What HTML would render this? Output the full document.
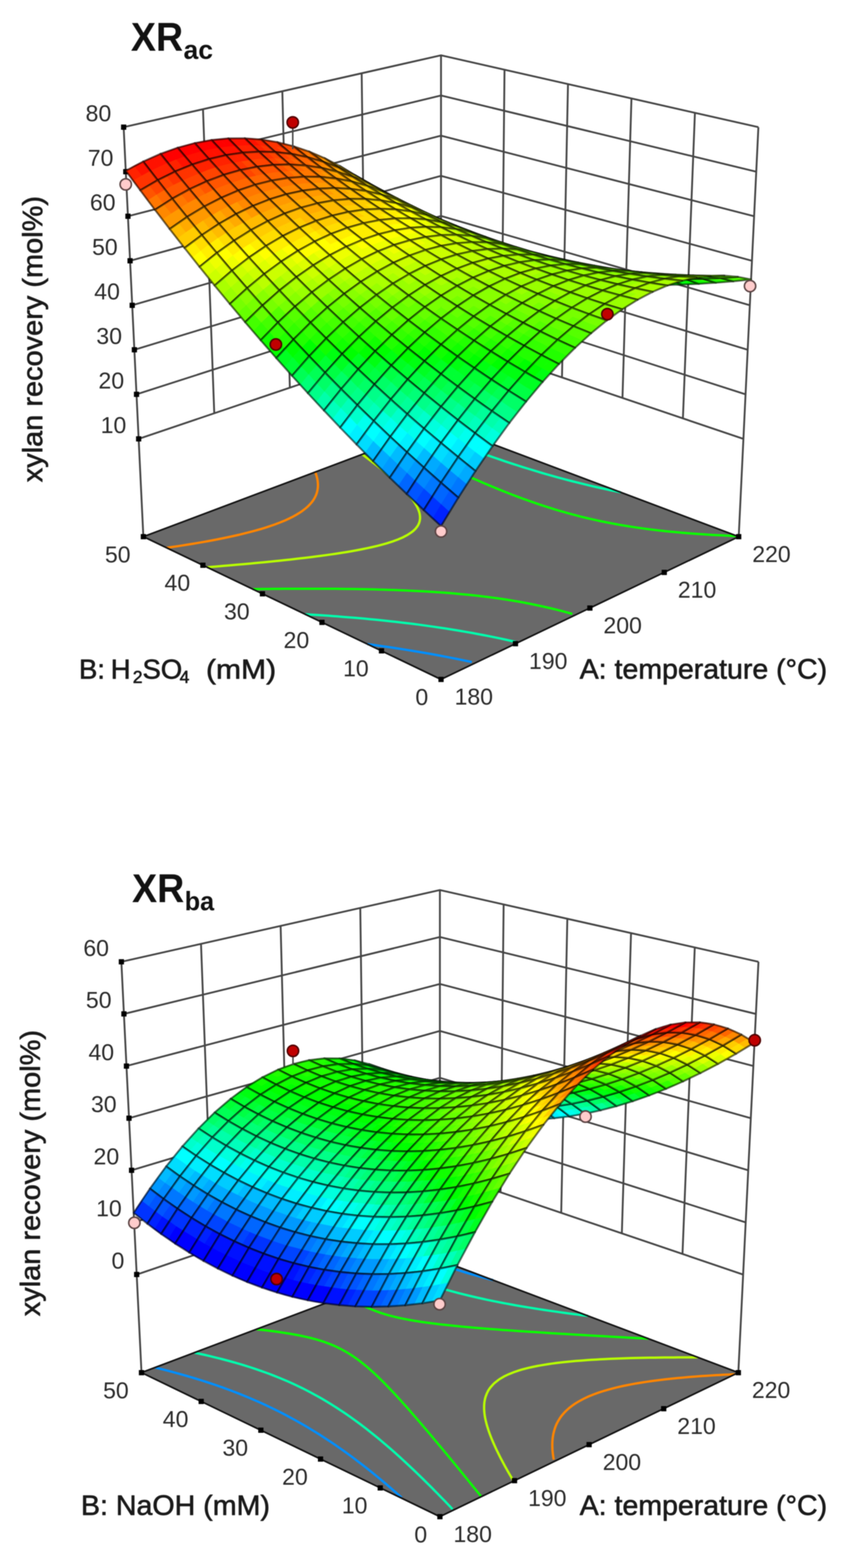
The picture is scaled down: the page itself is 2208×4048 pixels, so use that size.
<!DOCTYPE html>
<html><head><meta charset="utf-8"><title>Xylan recovery response surfaces</title>
<style>
html,body{margin:0;padding:0;background:#fff}
body{width:2208px;height:4048px;overflow:hidden}
svg{display:block;font-family:'Liberation Sans', sans-serif}
.m{fill:none;stroke:#000;stroke-opacity:.56;stroke-width:4.9;stroke-linejoin:round}
</style></head>
<body>
<svg width="2208" height="4048" viewBox="0 0 2208 4048" style="filter:blur(1.3px)">
<rect width="2208" height="4048" fill="#fff"/>
<path d="M1138.9 1754L370.2 1385.5L1138.9 1096.4L1907.7 1385.5Z" fill="#696969" stroke="none"/>
<path d="M948.7 1662.8L968.4 1665.5L980.4 1667.2L991.1 1668.7L1009 1671.3L1023.2 1673.5L1033.8 1675.1L1051.1 1677.9L1065.4 1680.2L1075.9 1682L1095.2 1685.3L1107 1687.3L1118.1 1689.3L1137.8 1693L1148 1694.9L1165.9 1698.4L1178.3 1700.8L1190.9 1703.4L1208.4 1707L1218.3 1709.1" fill="none" stroke="#008fff" stroke-width="6" stroke-linecap="butt"/>
<path d="M1603.5 1271.1L1588.9 1268.1L1576.3 1265.5L1564.3 1262.9L1548.2 1259.3L1540.2 1257.5L1524.4 1253.8L1515.3 1251.7L1501.1 1248.2L1485.8 1244.4L1478.3 1242.5L1463.3 1238.6L1448.5 1234.6L1439.9 1232.3L1426.7 1228.6L1412.3 1224.6L1398.2 1220.5L1391.2 1218.4L1377.3 1214.2L1363.6 1210L1350 1205.8L1336.7 1201.5L1326 1198.1L1316.8 1195.1L1303.8 1190.8L1291 1186.4L1278.2 1182L1265.6 1177.6L1253.2 1173.2L1240.8 1168.8L1228.6 1164.3L1216.5 1159.9L1204.6 1155.4L1192.7 1150.9L1181 1146.4L1169.4 1141.9L1157.8 1137.4L1146.4 1132.8L1135.1 1128.3L1123.9 1123.8L1112.8 1119.2L1101.8 1114.7" fill="none" stroke="#00ffad" stroke-width="6" stroke-linecap="butt"/>
<path d="M788.1 1585.8L803.8 1586.8L819.7 1587.8L835.7 1588.8L847.7 1589.6L859.5 1590.5L871.3 1591.3L884.5 1592.4L901.1 1593.7L917.9 1595.1L929.5 1596.1L941 1597.1L952.4 1598.2L969.5 1599.8L986.4 1601.5L997.6 1602.7L1008.8 1603.9L1023.2 1605.5L1041.7 1607.7L1052.9 1609L1063.7 1610.3L1079.8 1612.4L1096.1 1614.6L1106.7 1616.1L1119.4 1617.9L1138.4 1620.7L1148.9 1622.3L1161.1 1624.2L1179.9 1627.3L1190.2 1629L1205.3 1631.6L1220.6 1634.3L1230.6 1636.2L1250.6 1640L1260.5 1641.9L1277.8 1645.4L1289.9 1647.9L1304.3 1651L1318.9 1654.2L1332.2 1657.3" fill="none" stroke="#00ffad" stroke-width="6" stroke-linecap="butt"/>
<path d="M1903.5 1383.9L1889.1 1383.3L1875.1 1382.7L1863.5 1382.1L1851.9 1381.6L1840.5 1380.9L1829.1 1380.2L1814.6 1379.3L1799 1378.3L1784.5 1377.2L1773.5 1376.3L1762.7 1375.4L1750.4 1374.3L1733.5 1372.7L1720.4 1371.4L1710 1370.3L1698.2 1369L1679.7 1366.7L1669.7 1365.5L1659.9 1364.1L1640.6 1361.4L1631 1359.9L1619.1 1358L1603.1 1355.4L1594 1353.8L1576.1 1350.4L1567.4 1348.7L1550.1 1345.2L1541.6 1343.4L1524.8 1339.6L1515.8 1337.5L1500.4 1333.8L1484.6 1329.7L1476.8 1327.6L1461.4 1323.4L1446.4 1319.1L1435.2 1315.8L1424.4 1312.4L1410.1 1307.9L1396 1303.3L1382.2 1298.6L1368.6 1293.9L1355.2 1289.1L1348.6 1286.7L1335.5 1281.9L1322.6 1277L1309.9 1272L1297.4 1267.1L1285.1 1262.1L1272.9 1257L1265.8 1254.1L1254.9 1249.5L1243.1 1244.4L1231.4 1239.3L1219.8 1234.2L1208.4 1229.1L1197.1 1224L1185.8 1218.8L1174.8 1213.7L1169.2 1211.1L1158.3 1206L1147.4 1200.9L1136.7 1195.7L1126 1190.6L1117.6 1186.5L1110.2 1182.9L1099.8 1177.8L1089.4 1172.7L1079.1 1167.6L1072.5 1164.2L1063.9 1159.9L1053.8 1154.8L1043.8 1149.7L1033.8 1144.7L1028.9 1142.1" fill="none" stroke="#0aff00" stroke-width="6" stroke-linecap="butt"/>
<path d="M652.6 1520.9L665.7 1520.7L678.9 1520.6L692 1520.4L705.2 1520.3L718.4 1520.2L731.7 1520.1L745 1520L758.3 1519.9L771.7 1519.9L785.1 1519.9L798.5 1519.9L812 1519.9L825.5 1519.9L839 1519.9L852.6 1520L866.3 1520.1L880 1520.2L893.8 1520.4L907.7 1520.6L921.6 1520.8L935.6 1521L949.7 1521.3L963.8 1521.6L976.8 1522L989.4 1522.3L1002 1522.7L1014.5 1523.1L1027 1523.5L1039.3 1524L1051.6 1524.6L1066.1 1525.2L1081.2 1526L1096.6 1526.8L1111.8 1527.7L1123.6 1528.5L1135.3 1529.3L1146.9 1530.1L1160.3 1531.1L1176.9 1532.5L1192.5 1533.9L1203.6 1535L1214.7 1536.1L1229.1 1537.6L1247.3 1539.7L1257.9 1541L1268.5 1542.4L1286.2 1544.8L1299.6 1546.8L1309.8 1548.3L1328.4 1551.4L1339.8 1553.3L1351.4 1555.4L1368.9 1558.8L1378.4 1560.7L1397.3 1564.7L1406.5 1566.7L1424.8 1571L1433.9 1573.2L1451.8 1577.7L1467.7 1582L1478 1584.9" fill="none" stroke="#0aff00" stroke-width="6" stroke-linecap="butt"/>
<path d="M534.8 1464.4L546.1 1463.5L561.6 1462.2L578.3 1460.8L590.9 1459.7L602.1 1458.8L613.2 1457.8L628.7 1456.4L645.7 1454.9L657.3 1453.8L668.2 1452.8L680 1451.7L697.4 1449.9L711.5 1448.5L722.2 1447.4L732.9 1446.3L750.4 1444.4L764.6 1442.8L775.1 1441.6L786.8 1440.2L805.5 1438L816.3 1436.6L826.4 1435.3L844 1432.9L856.3 1431.1L866.1 1429.7L884.8 1426.8L895 1425.2L906.6 1423.2L922.9 1420.3L932 1418.5L949.7 1414.9L958.3 1413L975.1 1409.1L987.3 1405.9L999 1402.6L1013.8 1397.9L1027.7 1392.8L1040.5 1387.2L1052 1381.2L1061.4 1375.1L1066.6 1371.1L1072.9 1365.1L1077.4 1359.5L1080 1355.3L1082.1 1350.8L1083.9 1344.9L1084.7 1339.4L1084.7 1334.2L1084.2 1329.2L1083.3 1324.5L1081.7 1319.2L1079.3 1313.1L1076.3 1307L1074 1302.9L1071.6 1298.9L1067.5 1292.8L1063.4 1287.3L1060.5 1283.5L1055.9 1277.9L1051.1 1272.5L1047.9 1268.9L1041.2 1261.9L1037.7 1258.4L1032.7 1253.4L1027.2 1248.1L1023.6 1244.7L1016.3 1238.1L1012.6 1234.8L1005.2 1228.3L1001.4 1225.1L993.8 1218.7L990 1215.6L982.3 1209.3L978.5 1206.2L970.7 1200L966.8 1196.9L959 1190.9L955.1 1187.8L947.2 1181.8L942 1177.9L935.4 1172.9" fill="none" stroke="#b8ff00" stroke-width="6" stroke-linecap="butt"/>
<path d="M430.3 1414.3L440.2 1412.8L459.9 1409.9L469.6 1408.4L482.7 1406.3L498.5 1403.7L508 1402.1L526.8 1398.9L536.1 1397.2L553.3 1394L563.6 1392L579.6 1388.8L590.3 1386.5L607.6 1382.7L616.2 1380.8L632.9 1376.7L642 1374.4L657.3 1370.4L672.9 1366L688 1361.3L695.4 1358.9L709.7 1354L723.4 1348.8L736.4 1343.4L747.6 1338.2L754.6 1334.8L765.8 1328.6L776.1 1322.2L781 1318.9L789.8 1312L794.1 1308.3L798.8 1303.7L804.9 1296.9L807.9 1292.9L810.7 1288.8L813.5 1283.7L816.2 1277.9L818.2 1272.4L819.5 1267.2L820.4 1262.1L820.9 1257.3L821.1 1252.6L820.9 1248L820.5 1243.5L819.9 1239.1L819.1 1234.9L817.8 1229.8L816 1224L814 1218.6" fill="none" stroke="#ff8500" stroke-width="6" stroke-linecap="butt"/>
<path d="M1138.9 1754L370.2 1385.5L1138.9 1096.4L1907.7 1385.5Z" fill="none" stroke="#111" stroke-width="4.2" stroke-linejoin="miter"/>
<path d="M358.1 1133L1138.9 868.7L1919.8 1133M352.5 1018.1L1138.9 765L1925.4 1018.1M347 903.1L1138.9 661.3L1930.9 903.1M341.5 788.1L1138.9 557.6L1936.4 788.1M335.9 673.2L1138.9 453.9L1941.9 673.2M330.4 558.2L1138.9 350.2L1947.5 558.2M324.9 443.2L1138.9 246.5L1953 443.2M319.3 328.3L1138.9 142.8L1958.5 328.3M370.2 1385.5L319.3 328.3M553.3 1066.9L524.2 281.9M748.5 1000.8L729.1 235.5M943.7 934.8L934 189.2M1138.9 868.7L1138.9 142.8M1295.1 921.5L1302.9 179.9M1451.3 974.4L1466.8 217M1607.5 1027.3L1630.7 254.1M1763.6 1080.2L1794.6 291.2M1907.7 1385.5L1958.5 328.3" stroke="#444" stroke-width="4.7" fill="none" stroke-linejoin="round"/>
<path d="M351.3 1126.3h13.5v13.5h-13.5zM345.8 1011.3h13.5v13.5h-13.5zM340.3 896.3h13.5v13.5h-13.5zM334.7 781.4h13.5v13.5h-13.5zM329.2 666.4h13.5v13.5h-13.5zM323.7 551.4h13.5v13.5h-13.5zM318.1 436.5h13.5v13.5h-13.5zM312.6 321.5h13.5v13.5h-13.5zM1132.2 1747.3h13.5v13.5h-13.5zM978.4 1673.6h13.5v13.5h-13.5zM824.7 1599.9h13.5v13.5h-13.5zM671 1526.2h13.5v13.5h-13.5zM517.2 1452.4h13.5v13.5h-13.5zM363.5 1378.7h13.5v13.5h-13.5zM1132.2 1747.3h13.5v13.5h-13.5zM1324.4 1655.1h13.5v13.5h-13.5zM1516.6 1563h13.5v13.5h-13.5zM1708.7 1470.9h13.5v13.5h-13.5zM1900.9 1378.7h13.5v13.5h-13.5z" fill="#000"/>
<g stroke-linejoin="round" fill="currentColor" stroke="currentColor" stroke-width="1"><path color="#0fa" d="M1139 626l18 20 -18-6 -18-20z"/><path color="#0fa" d="M1121 620l18 20 -18-6 -18-20z"/><path color="#0fe" d="M1157 646l17 20 -17-6 -18-20z"/><path color="#0fe" d="M1139 640l18 20 -18-5 -18-21z"/><path class="m" d="M1138.9 626.4l35.5 39.1 -35.5-10.5 -35.5-40.7z"/><path color="#0fa" d="M1175 638l18 18 -18-5 -18-19z"/><path color="#0fa" d="M1157 632l18 19 -18-5 -18-20z"/><path color="#0fe" d="M1193 656l17 19 -18-4 -17-20z"/><path color="#0fe" d="M1175 651l17 20 -18-5 -17-20z"/><path class="m" d="M1174.9 637.8l35.3 37.6 -35.8-9.9 -35.5-39.1z"/><path color="#0f4" d="M1103 590l18 18 -18-6 -18-19z"/><path color="#0f4" d="M1085 583l18 19 -18-7 -18-19z"/><path color="#0f7" d="M1121 608l18 18 -18-6 -18-18z"/><path color="#0f7" d="M1103 602l18 18 -18-6 -18-19z"/><path class="m" d="M1102.9 590l36 36.4 -35.5-12.1 -36.1-38z"/><path color="#0fa" d="M1211 649l18 17 -18-5 -18-18z"/><path color="#0fa" d="M1193 643l18 18 -18-5 -18-18z"/><path color="#0fd" d="M1229 666l17 18 -18-4 -17-19z"/><path color="#0fd" d="M1211 661l17 19 -18-5 -17-19z"/><path class="m" d="M1211.2 648.6l35.2 35.9 -36.2-9.1 -35.3-37.6z"/><path color="#0f4" d="M1139 603l18 17 -18-6 -18-17z"/><path color="#0f4" d="M1121 597l18 17 -18-6 -18-18z"/><path color="#0f7" d="M1157 620l18 18 -18-6 -18-18z"/><path color="#0f7" d="M1139 614l18 18 -18-6 -18-18z"/><path class="m" d="M1138.9 603l36 34.8 -36-11.4 -36-36.4z"/><path color="#2f0" d="M1066 556l19 17 -18-7 -19-17z"/><path color="#2f0" d="M1048 549l19 17 -18-8 -18-17z"/><path color="#0f1" d="M1085 573l18 17 -18-7 -18-17z"/><path color="#0f1" d="M1067 566l18 17 -18-7 -18-18z"/><path class="m" d="M1066.3 556.3l36.6 33.7 -35.6-13.7 -36.8-35.4z"/><path color="#0fa" d="M1248 659l18 16 -19-4 -17-17z"/><path color="#0fa" d="M1230 654l17 17 -18-5 -18-17z"/><path color="#0fd" d="M1266 675l17 18 -18-4 -18-18z"/><path color="#0fd" d="M1247 671l18 18 -19-5 -17-18z"/><path class="m" d="M1248 658.6l35.1 34.3 -36.7-8.4 -35.2-35.9z"/><path color="#0f4" d="M1175 615l18 17 -18-6 -18-17z"/><path color="#0f4" d="M1157 609l18 17 -18-6 -18-17z"/><path color="#0f7" d="M1193 632l18 17 -18-6 -18-17z"/><path color="#0f7" d="M1175 626l18 17 -18-5 -18-18z"/><path class="m" d="M1175.4 615.4l35.8 33.2 -36.3-10.8 -36-34.8z"/><path color="#1f0" d="M1102 571l19 16 -18-7 -19-16z"/><path color="#1f0" d="M1084 564l19 16 -18-7 -19-17z"/><path color="#0f1" d="M1121 587l18 16 -18-6 -18-17z"/><path color="#0f1" d="M1103 580l18 17 -18-7 -18-17z"/><path class="m" d="M1102.4 571.1l36.5 31.9 -36-13 -36.6-33.7z"/><path color="#0fa" d="M1285 668l18 16 -19-4 -17-17z"/><path color="#0fa" d="M1267 663l17 17 -18-5 -18-16z"/><path color="#0fd" d="M1303 684l17 17 -18-4 -18-17z"/><path color="#0fd" d="M1284 680l18 17 -19-4 -17-18z"/><path class="m" d="M1285.2 667.9l35 32.7 -37.1-7.7 -35.1-34.3z"/><path color="#6f0" d="M1029 526l19 15 -18-8 -19-16z"/><path color="#6f0" d="M1011 517l19 16 -18-9 -19-16z"/><path color="#4f0" d="M1048 541l18 15 -18-7 -18-16z"/><path color="#4f0" d="M1030 533l18 16 -17-8 -19-17z"/><path class="m" d="M1029.1 525.5l37.2 30.8 -35.8-15.4 -37.3-32.5z"/><path color="#0f4" d="M1212 627l18 15 -18-5 -18-16z"/><path color="#0f4" d="M1194 621l18 16 -19-5 -18-17z"/><path color="#0f7" d="M1230 642l18 17 -18-5 -18-17z"/><path color="#0f7" d="M1212 637l18 17 -19-5 -18-17z"/><path class="m" d="M1212.2 627.1l35.8 31.5 -36.8-10 -35.8-33.2z"/><path color="#1f0" d="M1139 585l18 15 -18-7 -18-15z"/><path color="#1f0" d="M1121 578l18 15 -18-6 -19-16z"/><path color="#0f1" d="M1157 600l18 15 -18-6 -18-16z"/><path color="#0f1" d="M1139 593l18 16 -18-6 -18-16z"/><path class="m" d="M1138.9 585.1l36.5 30.3 -36.5-12.4 -36.5-31.9z"/><path color="#0f9" d="M1323 677l17 15 -19-4 -17-16z"/><path color="#0fa" d="M1304 672l17 16 -18-4 -18-16z"/><path color="#0fc" d="M1340 692l18 16 -19-4 -18-16z"/><path color="#0fc" d="M1321 688l18 16 -19-3 -17-17z"/><path class="m" d="M1322.8 676.5l34.9 31.1 -37.5-7 -35-32.7z"/><path color="#5f0" d="M1065 542l19 14 -18-8 -19-14z"/><path color="#6f0" d="M1047 534l19 14 -18-7 -19-15z"/><path color="#3f0" d="M1084 556l18 15 -18-7 -18-16z"/><path color="#4f0" d="M1066 548l18 16 -18-8 -18-15z"/><path class="m" d="M1065.3 542l37.1 29.1 -36.1-14.8 -37.2-30.8z"/><path color="#0f4" d="M1250 638l17 15 -18-5 -18-15z"/><path color="#0f4" d="M1231 633l18 15 -19-6 -18-15z"/><path color="#0f7" d="M1267 653l18 15 -18-5 -18-15z"/><path color="#0f7" d="M1249 648l18 15 -19-4 -18-17z"/><path class="m" d="M1249.5 638.1l35.7 29.8 -37.2-9.3 -35.8-31.5z"/><path color="#af0" d="M991 498l19 13 -18-9 -19-14z"/><path color="#af0" d="M973 488l19 14 -18-9 -19-14z"/><path color="#8f0" d="M1010 511l19 15 -18-9 -19-15z"/><path color="#8f0" d="M992 502l19 15 -18-9 -19-15z"/><path class="m" d="M991.2 497.7l37.9 27.8 -35.9-17.1 -37.9-29.6z"/><path color="#1f0" d="M1176 599l18 13 -18-6 -19-14z"/><path color="#1f0" d="M1157 592l19 14 -19-6 -18-15z"/><path color="#0f2" d="M1194 612l18 15 -18-6 -18-15z"/><path color="#0f2" d="M1176 606l18 15 -19-6 -18-15z"/><path class="m" d="M1175.9 598.6l36.3 28.5 -36.8-11.7 -36.5-30.3z"/><path color="#0f9" d="M1361 684l17 15 -19-4 -17-14z"/><path color="#0f9" d="M1342 681l17 14 -19-3 -17-15z"/><path color="#0fc" d="M1378 699l18 15 -19-3 -18-16z"/><path color="#0fc" d="M1359 695l18 16 -19-3 -18-16z"/><path class="m" d="M1360.9 684.4l34.9 29.4 -38.1-6.2 -34.9-31.1z"/><path color="#5f0" d="M1102 558l19 13 -19-7 -18-14z"/><path color="#5f0" d="M1084 550l18 14 -18-8 -19-14z"/><path color="#3f0" d="M1121 571l18 14 -18-7 -19-14z"/><path color="#3f0" d="M1102 564l19 14 -19-7 -18-15z"/><path class="m" d="M1101.9 557.8l37 27.3 -36.5-14 -37.1-29.1z"/><path color="#0f4" d="M1287 648l18 14 -19-5 -18-14z"/><path color="#0f4" d="M1268 643l18 14 -19-4 -17-15z"/><path color="#0f7" d="M1305 662l18 15 -19-5 -18-15z"/><path color="#0f7" d="M1286 657l18 15 -19-4 -18-15z"/><path class="m" d="M1287.2 648.4l35.6 28.1 -37.6-8.6 -35.7-29.8z"/><path color="#9f0" d="M1028 516l18 13 -18-9 -19-13z"/><path color="#af0" d="M1009 507l19 13 -18-9 -19-13z"/><path color="#7f0" d="M1046 529l19 13 -18-8 -19-14z"/><path color="#8f0" d="M1028 520l19 14 -18-8 -19-15z"/><path class="m" d="M1027.6 515.9l37.7 26.1 -36.2-16.5 -37.9-27.8z"/><path color="#1f0" d="M1213 611l18 13 -18-6 -18-13z"/><path color="#1f0" d="M1195 605l18 13 -19-6 -18-13z"/><path color="#0f2" d="M1231 624l19 14 -19-5 -18-15z"/><path color="#0f2" d="M1213 618l18 15 -19-6 -18-15z"/><path class="m" d="M1213.3 611.3l36.2 26.8 -37.3-11 -36.3-28.5z"/><path color="#0f8" d="M1399 692l18 13 -19-3 -18-14z"/><path color="#0f9" d="M1380 688l18 14 -20-3 -17-15z"/><path color="#0fb" d="M1417 705l17 14 -19-2 -17-15z"/><path color="#0fb" d="M1398 702l17 15 -19-3 -18-15z"/><path class="m" d="M1399.5 691.6l34.8 27.7 -38.5-5.5 -34.9-29.4z"/><path color="#ef0" d="M953 473l19 12 -18-10 -19-12z"/><path color="#ef0" d="M935 463l19 12 -18-10 -19-13z"/><path color="#cf0" d="M972 485l19 13 -18-10 -19-13z"/><path color="#cf0" d="M954 475l19 13 -18-9 -19-14z"/><path class="m" d="M952.8 472.9l38.4 24.8 -35.9-18.9 -38.5-26.7z"/><path color="#4f0" d="M1139 573l18 12 -18-7 -19-13z"/><path color="#5f0" d="M1120 565l19 13 -18-7 -19-13z"/><path color="#3f0" d="M1157 585l19 14 -19-7 -18-14z"/><path color="#3f0" d="M1139 578l18 14 -18-7 -18-14z"/><path class="m" d="M1138.9 573l37 25.6 -37-13.5 -37-27.3z"/><path color="#0f4" d="M1325 658l18 13 -19-4 -18-14z"/><path color="#0f4" d="M1306 653l18 14 -19-5 -18-14z"/><path color="#0f6" d="M1343 671l18 13 -19-3 -18-14z"/><path color="#0f7" d="M1324 667l18 14 -19-4 -18-15z"/><path class="m" d="M1325.4 658l35.5 26.4 -38.1-7.9 -35.6-28.1z"/><path color="#8f0" d="M1064 534l19 11 -18-8 -19-12z"/><path color="#9f0" d="M1046 525l19 12 -19-8 -18-13z"/><path color="#7f0" d="M1083 545l19 13 -18-8 -19-13z"/><path color="#7f0" d="M1065 537l19 13 -19-8 -19-13z"/><path class="m" d="M1064.3 533.6l37.6 24.2 -36.6-15.8 -37.7-26.1z"/><path color="#1f0" d="M1251 623l18 12 -19-5 -18-13z"/><path color="#1f0" d="M1232 617l18 13 -19-6 -18-13z"/><path color="#0f2" d="M1269 635l18 13 -19-5 -18-13z"/><path color="#0f2" d="M1250 630l18 13 -18-5 -19-14z"/><path class="m" d="M1251.1 623.3l36.1 25.1 -37.7-10.3 -36.2-26.8z"/><path color="#df0" d="M989 493l19 11 -18-9 -19-12z"/><path color="#df0" d="M971 483l19 12 -18-10 -19-12z"/><path color="#bf0" d="M1008 504l20 12 -19-9 -19-12z"/><path color="#bf0" d="M990 495l19 12 -18-9 -19-13z"/><path class="m" d="M989.3 493l38.3 22.9 -36.4-18.2 -38.4-24.8z"/><path color="#0f8" d="M1439 698l17 13 -20-3 -17-13z"/><path color="#0f8" d="M1419 695l17 13 -19-3 -18-13z"/><path color="#0fa" d="M1456 711l17 13 -19-2 -18-14z"/><path color="#0fa" d="M1436 708l18 14 -20-3 -17-14z"/><path class="m" d="M1438.5 698l34.8 26.1 -39-4.8 -34.8-27.7z"/><path color="#4f0" d="M1176 587l19 12 -19-7 -18-12z"/><path color="#4f0" d="M1158 580l18 12 -19-7 -18-12z"/><path color="#2f0" d="M1195 599l18 12 -18-6 -19-13z"/><path color="#3f0" d="M1176 592l19 13 -19-6 -19-14z"/><path class="m" d="M1176.4 587.5l36.9 23.8 -37.4-12.7 -37-25.6z"/><path color="#0f4" d="M1364 667l18 12 -20-4 -17-12z"/><path color="#0f4" d="M1345 663l17 12 -19-4 -18-13z"/><path color="#0f6" d="M1382 679l17 13 -19-4 -18-13z"/><path color="#0f6" d="M1362 675l18 13 -19-4 -18-13z"/><path class="m" d="M1364.1 666.8l35.4 24.8 -38.6-7.2 -35.5-26.4z"/><path color="#fd0" d="M914 451l19 11 -18-11 -19-11z"/><path color="#fd0" d="M896 440l19 11 -18-11 -19-11z"/><path color="#ff0" d="M933 462l20 11 -18-10 -20-12z"/><path color="#fe0" d="M915 451l20 12 -18-11 -20-12z"/><path class="m" d="M913.9 451.2l38.9 21.7 -36-20.8 -39.1-23.5z"/><path color="#8f0" d="M1101 551l19 10 -18-8 -19-11z"/><path color="#8f0" d="M1083 542l19 11 -19-8 -19-11z"/><path color="#6f0" d="M1120 561l19 12 -19-8 -18-12z"/><path color="#6f0" d="M1102 553l18 12 -18-7 -19-13z"/><path class="m" d="M1101.4 550.5l37.5 22.5 -37-15.2 -37.6-24.2z"/><path color="#1f0" d="M1289 635l18 11 -19-5 -18-12z"/><path color="#1f0" d="M1270 629l18 12 -19-6 -18-12z"/><path color="#0f2" d="M1307 646l18 12 -19-5 -18-12z"/><path color="#0f2" d="M1288 641l18 12 -19-5 -18-13z"/><path class="m" d="M1289.3 634.6l36.1 23.4 -38.2-9.6 -36.1-25.1z"/><path color="#cf0" d="M1026 512l19 11 -18-10 -19-10z"/><path color="#cf0" d="M1008 503l19 10 -19-9 -19-11z"/><path color="#af0" d="M1045 523l19 11 -18-9 -19-12z"/><path color="#bf0" d="M1027 513l19 12 -18-9 -20-12z"/><path class="m" d="M1026.1 512.4l38.2 21.2 -36.7-17.7 -38.3-22.9z"/><path color="#4f0" d="M1214 601l19 11 -19-6 -19-12z"/><path color="#4f0" d="M1195 594l19 12 -19-7 -19-12z"/><path color="#2f0" d="M1233 612l18 11 -19-6 -18-11z"/><path color="#2f0" d="M1214 606l18 11 -19-6 -18-12z"/><path class="m" d="M1214.3 601.3l36.8 22 -37.8-12 -36.9-23.8z"/><path color="#0f7" d="M1478 704l18 11 -20-2 -18-12z"/><path color="#0f7" d="M1458 701l18 12 -20-2 -17-13z"/><path color="#0f9" d="M1496 715l17 13 -20-2 -17-13z"/><path color="#0fa" d="M1476 713l17 13 -20-2 -17-13z"/><path class="m" d="M1478.1 703.6l34.7 24.4 -39.5-3.9 -34.8-26.1z"/><path color="#fe0" d="M950 473l20 10 -18-11 -20-10z"/><path color="#fe0" d="M932 462l20 10 -19-10 -19-11z"/><path color="#ef0" d="M970 483l19 10 -18-10 -19-11z"/><path color="#ff0" d="M952 472l19 11 -18-10 -20-11z"/><path class="m" d="M950.4 473.2l38.9 19.8 -36.5-20.1 -38.9-21.7z"/><path color="#0f3" d="M1403 675l18 11 -20-3 -17-12z"/><path color="#0f3" d="M1384 671l17 12 -19-4 -18-12z"/><path color="#0f5" d="M1421 686l18 12 -20-3 -18-12z"/><path color="#0f6" d="M1401 683l18 12 -20-3 -17-13z"/><path class="m" d="M1403.2 675l35.3 23 -39-6.4 -35.4-24.8z"/><path color="#7f0" d="M1139 567l19 10 -19-8 -19-10z"/><path color="#8f0" d="M1120 559l19 10 -19-8 -19-10z"/><path color="#6f0" d="M1158 577l18 10 -18-7 -19-11z"/><path color="#6f0" d="M1139 569l19 11 -19-7 -19-12z"/><path class="m" d="M1138.9 566.8l37.5 20.7 -37.5-14.5 -37.5-22.5z"/><path color="#1f0" d="M1328 645l18 11 -19-5 -18-11z"/><path color="#1f0" d="M1309 640l18 11 -20-5 -18-11z"/><path color="#0f1" d="M1346 656l18 11 -19-4 -18-12z"/><path color="#0f1" d="M1327 651l18 12 -20-5 -18-12z"/><path class="m" d="M1328 645.2l36.1 21.6 -38.7-8.8 -36.1-23.4z"/><path color="#fb0" d="M874 433l20 9 -18-12 -20-9z"/><path color="#fa0" d="M856 421l20 9 -18-12 -20-10z"/><path color="#fc0" d="M894 442l20 9 -18-11 -20-10z"/><path color="#fc0" d="M876 430l20 10 -18-11 -20-11z"/><path class="m" d="M874.4 432.7l39.5 18.5 -36.2-22.6 -39.6-20.4z"/><path color="#bf0" d="M1063 531l19 9 -18-8 -19-10z"/><path color="#bf0" d="M1045 522l19 10 -19-9 -19-11z"/><path color="#9f0" d="M1082 540l19 11 -18-9 -19-10z"/><path color="#af0" d="M1064 532l19 10 -19-8 -19-11z"/><path class="m" d="M1063.3 531.3l38.1 19.2 -37.1-16.9 -38.2-21.2z"/><path color="#4f0" d="M1253 614l18 10 -19-6 -19-10z"/><path color="#4f0" d="M1233 608l19 10 -19-6 -19-11z"/><path color="#2f0" d="M1271 624l18 11 -19-6 -18-11z"/><path color="#2f0" d="M1252 618l18 11 -19-6 -18-11z"/><path class="m" d="M1252.6 614.4l36.7 20.2 -38.2-11.3 -36.8-22z"/><path color="#0f6" d="M1518 708l18 11 -21-1 -17-12z"/><path color="#0f6" d="M1498 706l17 12 -19-3 -18-11z"/><path color="#0f8" d="M1536 719l17 12 -20-1 -18-12z"/><path color="#0f9" d="M1515 718l18 12 -20-2 -17-13z"/><path class="m" d="M1518.2 708.5l34.6 22.7 -40-3.2 -34.7-24.4z"/><path color="#ff0" d="M987 495l20 8 -19-10 -19-9z"/><path color="#ff0" d="M969 484l19 9 -18-10 -20-10z"/><path color="#df0" d="M1007 503l19 9 -18-9 -20-10z"/><path color="#ef0" d="M988 493l20 10 -19-10 -19-10z"/><path class="m" d="M987.3 494.5l38.8 17.9 -36.8-19.4 -38.9-19.8z"/><path color="#7f0" d="M1177 582l19 9 -19-7 -19-9z"/><path color="#7f0" d="M1158 575l19 9 -19-7 -19-10z"/><path color="#5f0" d="M1196 591l18 10 -19-7 -18-10z"/><path color="#6f0" d="M1177 584l18 10 -19-7 -18-10z"/><path class="m" d="M1176.9 582.5l37.4 18.8 -37.9-13.8 -37.5-20.7z"/><path color="#0f2" d="M1443 682l18 11 -20-4 -18-10z"/><path color="#0f3" d="M1423 679l18 10 -20-3 -18-11z"/><path color="#0f5" d="M1461 693l17 11 -20-3 -17-12z"/><path color="#0f5" d="M1441 689l17 12 -19-3 -18-12z"/><path class="m" d="M1442.8 682.3l35.3 21.3 -39.6-5.6 -35.3-23z"/><path color="#fc0" d="M911 457l20 7 -19-11 -19-8z"/><path color="#fb0" d="M893 445l19 8 -18-11 -20-9z"/><path color="#fd0" d="M931 464l19 9 -18-11 -20-9z"/><path color="#fd0" d="M912 453l20 9 -18-11 -20-9z"/><path class="m" d="M911 456.6l39.4 16.6 -36.5-22 -39.5-18.5z"/><path color="#1f0" d="M1367 655l18 10 -19-5 -18-10z"/><path color="#1f0" d="M1348 650l18 10 -20-4 -18-11z"/><path color="#0f1" d="M1385 665l18 10 -19-4 -18-11z"/><path color="#0f1" d="M1366 660l18 11 -20-4 -18-11z"/><path class="m" d="M1367.2 655.1l36 19.9 -39.1-8.2 -36.1-21.6z"/><path color="#af0" d="M1101 549l19 9 -19-9 -19-9z"/><path color="#bf0" d="M1082 540l19 9 -19-9 -19-9z"/><path color="#9f0" d="M1120 558l19 9 -19-8 -19-10z"/><path color="#9f0" d="M1101 549l19 10 -19-8 -19-11z"/><path class="m" d="M1100.9 549.4l38 17.4 -37.5-16.3 -38.1-19.2z"/><path color="#f90" d="M834 418l20 7 -18-13 -20-8z"/><path color="#f80" d="M816 404l20 8 -18-13 -20-8z"/><path color="#fa0" d="M854 425l20 8 -18-12 -20-9z"/><path color="#f90" d="M836 412l20 9 -18-13 -20-9z"/><path class="m" d="M834.3 417.6l40.1 15.1 -36.3-24.5 -40.2-17.1z"/><path color="#4f0" d="M1291 627l19 9 -20-6 -18-9z"/><path color="#4f0" d="M1272 621l18 9 -19-6 -18-10z"/><path color="#2f0" d="M1310 636l18 9 -19-5 -19-10z"/><path color="#2f0" d="M1290 630l19 10 -20-5 -18-11z"/><path class="m" d="M1291.4 626.8l36.6 18.4 -38.7-10.6 -36.7-20.2z"/><path color="#ef0" d="M1025 515l19 8 -19-10 -19-8z"/><path color="#ef0" d="M1006 505l19 8 -18-10 -20-8z"/><path color="#cf0" d="M1044 523l19 8 -18-9 -20-9z"/><path color="#df0" d="M1025 513l20 9 -19-10 -19-9z"/><path class="m" d="M1024.6 515.3l38.7 16 -37.2-18.9 -38.8-17.9z"/><path color="#0f5" d="M1559 713l17 10 -20-2 -18-10z"/><path color="#0f5" d="M1538 711l18 10 -20-2 -18-11z"/><path color="#0f7" d="M1576 723l17 11 -20-2 -17-11z"/><path color="#0f8" d="M1556 721l17 11 -20-1 -17-12z"/><path class="m" d="M1558.8 712.5l34.6 21.1 -40.6-2.4 -34.6-22.7z"/><path color="#7f0" d="M1215 597l19 9 -19-7 -19-9z"/><path color="#7f0" d="M1196 590l19 9 -19-8 -19-9z"/><path color="#5f0" d="M1234 606l19 8 -20-6 -18-9z"/><path color="#5f0" d="M1215 599l18 9 -19-7 -18-10z"/><path class="m" d="M1215.3 597.4l37.3 17 -38.3-13.1 -37.4-18.8z"/><path color="#fd0" d="M948 480l20 7 -19-11 -20-8z"/><path color="#fc0" d="M929 468l20 8 -18-12 -20-7z"/><path color="#fe0" d="M968 487l19 8 -18-11 -20-8z"/><path color="#fe0" d="M949 476l20 8 -19-11 -19-9z"/><path class="m" d="M948 479.9l39.3 14.6 -36.9-21.3 -39.4-16.6z"/><path color="#0f2" d="M1483 689l18 9 -20-2 -18-10z"/><path color="#0f2" d="M1463 686l18 10 -20-3 -18-11z"/><path color="#0f4" d="M1501 698l17 10 -20-2 -17-10z"/><path color="#0f4" d="M1481 696l17 10 -20-2 -17-11z"/><path class="m" d="M1483 688.9l35.2 19.6 -40.1-4.9 -35.3-21.3z"/><path color="#af0" d="M1139 567l19 7 -19-8 -19-8z"/><path color="#af0" d="M1120 558l19 8 -19-8 -19-9z"/><path color="#8f0" d="M1158 574l19 8 -19-7 -19-9z"/><path color="#9f0" d="M1139 566l19 9 -19-8 -19-9z"/><path class="m" d="M1138.9 566.9l38 15.6 -38-15.7 -38-17.4z"/><path color="#1f0" d="M1407 664l18 9 -20-4 -18-9z"/><path color="#1f0" d="M1387 660l18 9 -20-4 -18-10z"/><path color="#0f0" d="M1425 673l18 9 -20-3 -18-10z"/><path color="#0f1" d="M1405 669l18 10 -20-4 -18-10z"/><path class="m" d="M1406.9 664.3l35.9 18 -39.6-7.3 -36-19.9z"/><path color="#fa0" d="M871 443l20 7 -18-13 -20-6z"/><path color="#f90" d="M853 431l20 6 -19-12 -20-7z"/><path color="#fb0" d="M891 450l20 7 -18-12 -20-8z"/><path color="#fa0" d="M873 437l20 8 -19-12 -20-8z"/><path class="m" d="M871 443.5l40 13.1 -36.6-23.9 -40.1-15.1z"/><path color="#df0" d="M1062 535l20 7 -19-10 -20-7z"/><path color="#df0" d="M1043 525l20 7 -19-9 -19-8z"/><path color="#cf0" d="M1082 542l19 7 -19-9 -19-8z"/><path color="#cf0" d="M1063 532l19 8 -19-9 -19-8z"/><path class="m" d="M1062.3 535.3l38.6 14.1 -37.6-18.1 -38.7-16z"/><path color="#4f0" d="M1331 639l18 7 -20-5 -18-8z"/><path color="#4f0" d="M1311 633l18 8 -19-5 -19-9z"/><path color="#2f0" d="M1349 646l18 9 -19-5 -19-9z"/><path color="#2f0" d="M1329 641l19 9 -20-5 -18-9z"/><path class="m" d="M1330.6 638.5l36.6 16.6 -39.2-9.9 -36.6-18.4z"/><path color="#f70" d="M794 406l20 5 -18-13 -21-6z"/><path color="#f60" d="M775 392l21 6 -18-14 -21-7z"/><path color="#f70" d="M814 411l20 7 -18-14 -20-6z"/><path color="#f70" d="M796 398l20 6 -18-13 -20-7z"/><path class="m" d="M793.7 405.8l40.6 11.8 -36.4-26.5 -40.7-13.8z"/><path color="#6f0" d="M1254 612l19 7 -20-7 -18-7z"/><path color="#7f0" d="M1235 605l18 7 -19-6 -19-9z"/><path color="#5f0" d="M1273 619l18 8 -19-6 -19-9z"/><path color="#5f0" d="M1253 612l19 9 -19-7 -19-8z"/><path class="m" d="M1254.2 611.7l37.2 15.1 -38.8-12.4 -37.3-17z"/><path color="#0f4" d="M1600 716l17 9 -20-1 -18-10z"/><path color="#0f4" d="M1579 714l18 10 -21-1 -17-10z"/><path color="#0f6" d="M1617 725l17 10 -20-1 -17-10z"/><path color="#0f6" d="M1597 724l17 10 -21 0 -17-11z"/><path class="m" d="M1600 715.8l34.5 19.3 -41.1-1.5 -34.6-21.1z"/><path color="#fe0" d="M985 503l20 6 -19-11 -19-7z"/><path color="#fe0" d="M967 491l19 7 -18-11 -20-7z"/><path color="#ff0" d="M1005 509l20 6 -19-10 -20-7z"/><path color="#ff0" d="M986 498l20 7 -19-10 -19-8z"/><path class="m" d="M985.4 502.6l39.2 12.7 -37.3-20.8 -39.3-14.6z"/><path color="#0f1" d="M1524 695l17 8 -20-2 -18-9z"/><path color="#0f1" d="M1503 692l18 9 -20-3 -18-9z"/><path color="#0f3" d="M1541 703l18 10 -21-2 -17-10z"/><path color="#0f3" d="M1521 701l17 10 -20-3 -17-10z"/><path class="m" d="M1523.6 694.8l35.2 17.7 -40.6-4 -35.2-19.6z"/><path color="#9f0" d="M1177 584l19 6 -19-8 -19-7z"/><path color="#9f0" d="M1158 575l19 7 -19-8 -19-7z"/><path color="#8f0" d="M1196 590l19 7 -19-7 -19-8z"/><path color="#8f0" d="M1177 582l19 8 -19-8 -19-8z"/><path class="m" d="M1177.4 583.8l37.9 13.6 -38.4-14.9 -38-15.6z"/><path color="#fb0" d="M908 469l20 5 -18-12 -20-6z"/><path color="#fa0" d="M890 456l20 6 -19-12 -20-7z"/><path color="#fc0" d="M928 474l20 6 -19-12 -19-6z"/><path color="#fb0" d="M910 462l19 6 -18-11 -20-7z"/><path class="m" d="M908.1 468.7l39.9 11.2 -37-23.3 -40-13.1z"/><path color="#1f0" d="M1447 673l18 7 -20-3 -18-8z"/><path color="#1f0" d="M1427 669l18 8 -20-4 -18-9z"/><path color="#0f0" d="M1465 680l18 9 -20-3 -18-9z"/><path color="#0f0" d="M1445 677l18 9 -20-4 -18-9z"/><path class="m" d="M1447.1 672.7l35.9 16.2 -40.2-6.6 -35.9-18z"/><path color="#cf0" d="M1100 555l20 5 -19-9 -20-6z"/><path color="#cf0" d="M1081 545l20 6 -19-9 -20-7z"/><path color="#bf0" d="M1120 560l19 7 -19-9 -19-7z"/><path color="#bf0" d="M1101 551l19 7 -19-9 -19-7z"/><path class="m" d="M1100.4 554.8l38.5 12.1 -38-17.5 -38.6-14.1z"/><path color="#4f0" d="M1370 649l19 7 -20-4 -19-8z"/><path color="#4f0" d="M1350 644l19 8 -20-6 -18-7z"/><path color="#3f0" d="M1389 656l18 8 -20-4 -18-8z"/><path color="#2f0" d="M1369 652l18 8 -20-5 -18-9z"/><path class="m" d="M1370.4 649.5l36.5 14.8 -39.7-9.2 -36.6-16.6z"/><path color="#f80" d="M831 434l20 4 -19-13 -20-5z"/><path color="#f70" d="M812 420l20 5 -18-14 -20-5z"/><path color="#f90" d="M851 438l20 5 -18-12 -21-6z"/><path color="#f80" d="M832 425l21 6 -19-13 -20-7z"/><path class="m" d="M830.5 433.7l40.5 9.8 -36.7-25.9 -40.6-11.8z"/><path color="#ff0" d="M1023 525l20 5 -19-11 -20-5z"/><path color="#fe0" d="M1004 514l20 5 -19-10 -20-6z"/><path color="#ef0" d="M1043 530l19 5 -19-10 -19-6z"/><path color="#ef0" d="M1024 519l19 6 -18-10 -20-6z"/><path class="m" d="M1023.1 524.6l39.2 10.7 -37.7-20 -39.2-12.7z"/><path color="#6f0" d="M1293 625l19 6 -20-6 -18-6z"/><path color="#6f0" d="M1274 619l18 6 -19-6 -19-7z"/><path color="#5f0" d="M1312 631l19 8 -20-6 -19-8z"/><path color="#5f0" d="M1292 625l19 8 -20-6 -18-8z"/><path class="m" d="M1293.5 625.3l37.1 13.2 -39.2-11.7 -37.2-15.1z"/><path color="#0f2" d="M1642 718l17 9 -21-1 -17-9z"/><path color="#0f3" d="M1621 717l17 9 -21-1 -17-9z"/><path color="#0f4" d="M1659 727l17 9 -21 0 -17-10z"/><path color="#0f5" d="M1638 726l17 10 -21-1 -17-10z"/><path class="m" d="M1641.8 718.2l34.4 17.6 -41.7-.7 -34.5-19.3z"/><path color="#f50" d="M753 398l20 3 -18-14 -21-5z"/><path color="#f40" d="M734 382l21 5 -18-15 -21-5z"/><path color="#f60" d="M773 401l21 5 -19-14 -20-5z"/><path color="#f50" d="M755 387l20 5 -18-15 -20-5z"/><path class="m" d="M752.6 397.5l41.1 8.3 -36.5-28.5 -41.2-10.3z"/><path color="#fc0" d="M946 493l20 5 -19-12 -20-5z"/><path color="#fc0" d="M927 481l20 5 -19-12 -20-5z"/><path color="#fd0" d="M966 498l19 5 -18-12 -20-5z"/><path color="#fd0" d="M947 486l20 5 -19-11 -20-6z"/><path class="m" d="M945.6 493.4l39.8 9.2 -37.4-22.7 -39.9-11.2z"/><path color="#9f0" d="M1216 600l19 5 -19-7 -19-6z"/><path color="#9f0" d="M1197 592l19 6 -20-8 -19-6z"/><path color="#8f0" d="M1235 605l19 7 -19-7 -19-7z"/><path color="#8f0" d="M1216 598l19 7 -20-8 -19-7z"/><path class="m" d="M1216.3 599.9l37.9 11.8 -38.9-14.3 -37.9-13.6z"/><path color="#0f0" d="M1565 700l18 7 -21-2 -18-8z"/><path color="#0f1" d="M1544 697l18 8 -21-2 -17-8z"/><path color="#0f2" d="M1583 707l17 9 -21-2 -17-9z"/><path color="#0f2" d="M1562 705l17 9 -20-1 -18-10z"/><path class="m" d="M1564.9 699.8l35.1 16 -41.2-3.3 -35.2-17.7z"/><path color="#2f0" d="M1488 680l18 7 -21-3 -18-7z"/><path color="#2f0" d="M1467 677l18 7 -20-4 -18-7z"/><path color="#1f0" d="M1506 687l18 8 -21-3 -18-8z"/><path color="#0f0" d="M1485 684l18 8 -20-3 -18-9z"/><path class="m" d="M1487.8 680.3l35.8 14.5 -40.6-5.9 -35.9-16.2z"/><path color="#bf0" d="M1139 574l19 4 -19-9 -19-5z"/><path color="#cf0" d="M1120 564l19 5 -19-9 -20-5z"/><path color="#af0" d="M1158 578l19 6 -19-9 -19-6z"/><path color="#bf0" d="M1139 569l19 6 -19-8 -19-7z"/><path class="m" d="M1138.9 573.5l38.5 10.3 -38.5-16.9 -38.5-12.1z"/><path color="#f90" d="M868 461l20 3 -19-13 -20-4z"/><path color="#f90" d="M849 447l20 4 -18-13 -20-4z"/><path color="#fa0" d="M888 464l20 5 -18-13 -21-5z"/><path color="#fa0" d="M869 451l21 5 -19-13 -20-5z"/><path class="m" d="M867.7 461l40.4 7.7 -37.1-25.2 -40.5-9.8z"/><path color="#4f0" d="M1411 660l18 6 -20-5 -19-6z"/><path color="#4f0" d="M1390 655l19 6 -20-5 -19-7z"/><path color="#3f0" d="M1429 666l18 7 -20-4 -18-8z"/><path color="#3f0" d="M1409 661l18 8 -20-5 -18-8z"/><path class="m" d="M1410.6 659.7l36.5 13 -40.2-8.4 -36.5-14.8z"/><path color="#ef0" d="M1061 546l20 4 -19-10 -20-5z"/><path color="#ff0" d="M1042 535l20 5 -19-10 -20-5z"/><path color="#df0" d="M1081 550l19 5 -19-10 -19-5z"/><path color="#ef0" d="M1062 540l19 5 -19-10 -19-5z"/><path class="m" d="M1061.3 546l39.1 8.8 -38.1-19.5 -39.2-10.7z"/><path color="#f60" d="M790 427l20 3 -18-14 -21-3z"/><path color="#f60" d="M771 413l21 3 -19-15 -20-3z"/><path color="#f70" d="M810 430l21 4 -19-14 -20-4z"/><path color="#f60" d="M792 416l20 4 -18-14 -21-5z"/><path class="m" d="M789.5 427.5l41 6.2 -36.8-27.9 -41.1-8.3z"/><path color="#6f0" d="M1333 638l19 5 -20-5 -19-6z"/><path color="#6f0" d="M1313 632l19 6 -20-7 -19-6z"/><path color="#5f0" d="M1352 643l18 6 -20-5 -18-6z"/><path color="#5f0" d="M1332 638l18 6 -19-5 -19-8z"/><path class="m" d="M1333.3 638.1l37.1 11.4 -39.8-11 -37.1-13.2z"/><path color="#fd0" d="M983 517l20 4 -19-12 -20-4z"/><path color="#fd0" d="M964 505l20 4 -18-11 -20-5z"/><path color="#fe0" d="M1003 521l20 4 -19-11 -20-5z"/><path color="#fe0" d="M984 509l20 5 -19-11 -19-5z"/><path class="m" d="M983.4 517.4l39.7 7.2 -37.7-22 -39.8-9.2z"/><path color="#0f1" d="M1684 720l17 7 -21 0 -17-8z"/><path color="#0f2" d="M1663 719l17 8 -21 0 -17-9z"/><path color="#0f3" d="M1701 727l18 9 -22 0 -17-9z"/><path color="#0f4" d="M1680 727l17 9 -21 0 -17-9z"/><path class="m" d="M1684.1 719.8l34.4 15.9 -42.3 .1 -34.4-17.6z"/><path color="#8f0" d="M1256 615l19 5 -20-7 -19-5z"/><path color="#9f0" d="M1236 608l19 5 -20-8 -19-5z"/><path color="#7f0" d="M1275 620l18 5 -19-6 -19-6z"/><path color="#7f0" d="M1255 613l19 6 -20-7 -19-7z"/><path class="m" d="M1255.7 615.4l37.8 9.9 -39.3-13.6 -37.9-11.8z"/><path color="#f30" d="M711 393l21 2 -18-16 -21-2z"/><path color="#f30" d="M693 377l21 2 -19-16 -21-3z"/><path color="#f40" d="M732 395l21 3 -19-16 -20-3z"/><path color="#f30" d="M714 379l20 3 -18-15 -21-4z"/><path class="m" d="M711 392.8l41.6 4.7 -36.6-30.5 -41.7-6.8z"/><path color="#1f0" d="M1607 704l17 7 -21-2 -17-7z"/><path color="#0f0" d="M1586 702l17 7 -20-2 -18-7z"/><path color="#0f1" d="M1624 711l18 7 -21-1 -18-8z"/><path color="#0f1" d="M1603 709l18 8 -21-1 -17-9z"/><path class="m" d="M1606.7 704l35.1 14.2 -41.8-2.4 -35.1-16z"/><path color="#fb0" d="M905 488l20 2 -18-13 -21-3z"/><path color="#fa0" d="M886 474l21 3 -19-13 -20-3z"/><path color="#fb0" d="M925 490l21 3 -19-12 -20-4z"/><path color="#fb0" d="M907 477l20 4 -19-12 -20-5z"/><path class="m" d="M905.3 487.7l40.3 5.7 -37.5-24.7 -40.4-7.7z"/><path color="#bf0" d="M1178 592l19 3 -19-8 -20-4z"/><path color="#bf0" d="M1158 583l20 4 -20-9 -19-4z"/><path color="#af0" d="M1197 595l19 5 -19-8 -19-5z"/><path color="#af0" d="M1178 587l19 5 -20-8 -19-6z"/><path class="m" d="M1177.9 591.6l38.4 8.3 -38.9-16.1 -38.5-10.3z"/><path color="#2f0" d="M1529 687l18 6 -21-3 -18-6z"/><path color="#2f0" d="M1508 684l18 6 -20-3 -18-7z"/><path color="#1f0" d="M1547 693l18 7 -21-3 -18-7z"/><path color="#1f0" d="M1526 690l18 7 -20-2 -18-8z"/><path class="m" d="M1529.1 687.1l35.8 12.7 -41.3-5 -35.8-14.5z"/><path color="#df0" d="M1100 567l19 3 -19-10 -19-4z"/><path color="#ef0" d="M1081 556l19 4 -19-10 -20-4z"/><path color="#cf0" d="M1119 570l20 4 -19-10 -20-4z"/><path color="#df0" d="M1100 560l20 4 -20-9 -19-5z"/><path class="m" d="M1099.9 566.8l39 6.7 -38.5-18.7 -39.1-8.8z"/><path color="#f80" d="M827 457l20 1 -18-14 -21-2z"/><path color="#f70" d="M808 442l21 2 -19-14 -20-3z"/><path color="#f90" d="M847 458l21 3 -19-14 -20-3z"/><path color="#f80" d="M829 444l20 3 -18-13 -21-4z"/><path class="m" d="M826.8 456.8l40.9 4.2 -37.2-27.3 -41-6.2z"/><path color="#4f0" d="M1451 669l19 5 -21-4 -18-5z"/><path color="#4f0" d="M1431 665l18 5 -20-4 -18-6z"/><path color="#3f0" d="M1470 674l18 6 -21-3 -18-7z"/><path color="#3f0" d="M1449 670l18 7 -20-4 -18-7z"/><path class="m" d="M1451.4 669.2l36.4 11.1 -40.7-7.6 -36.5-13z"/><path color="#6f0" d="M1374 650l18 5 -20-6 -19-5z"/><path color="#6f0" d="M1353 644l19 5 -20-6 -19-5z"/><path color="#5f0" d="M1392 655l19 5 -21-5 -18-6z"/><path color="#5f0" d="M1372 649l18 6 -20-6 -18-6z"/><path class="m" d="M1373.6 650.2l37 9.5 -40.2-10.2 -37.1-11.4z"/><path color="#fe0" d="M1022 541l20 2 -20-11 -20-3z"/><path color="#fe0" d="M1002 529l20 3 -19-11 -20-4z"/><path color="#ff0" d="M1042 543l19 3 -19-11 -20-3z"/><path color="#ff0" d="M1022 532l20 3 -19-10 -20-4z"/><path class="m" d="M1021.7 540.8l39.6 5.2 -38.2-21.4 -39.7-7.2z"/><path color="#f50" d="M748 425l21 1 -19-16 -21-1z"/><path color="#f40" d="M729 409l21 1 -18-15 -21-2z"/><path color="#f60" d="M769 426l21 1 -19-14 -21-3z"/><path color="#f50" d="M750 410l21 3 -18-15 -21-3z"/><path class="m" d="M748 424.8l41.5 2.7 -36.9-30 -41.6-4.7z"/><path color="#8f0" d="M1296 630l18 4 -19-7 -19-4z"/><path color="#8f0" d="M1276 623l19 4 -20-7 -19-5z"/><path color="#7f0" d="M1314 634l19 4 -20-6 -18-5z"/><path color="#7f0" d="M1295 627l18 5 -20-7 -18-5z"/><path class="m" d="M1295.5 630.2l37.8 7.9 -39.8-12.8 -37.8-9.9z"/><path color="#fc0" d="M943 514l20 1 -19-12 -20-2z"/><path color="#fb0" d="M924 501l20 2 -19-13 -20-2z"/><path color="#fd0" d="M963 515l20 2 -19-12 -20-2z"/><path color="#fc0" d="M944 503l20 2 -18-12 -21-3z"/><path class="m" d="M943.2 513.8l40.2 3.6 -37.8-24 -40.3-5.7z"/><path color="#0f0" d="M1727 721l17 6 -21 0 -18-7z"/><path color="#0f0" d="M1705 720l18 7 -22 0 -17-7z"/><path color="#0f1" d="M1744 727l17 8 -21 0 -17-8z"/><path color="#0f2" d="M1723 727l17 8 -21 1 -18-9z"/><path class="m" d="M1727 720.6l34.4 14 -42.9 1.1 -34.4-15.9z"/><path color="#af0" d="M1217 609l20 3 -20-8 -19-4z"/><path color="#bf0" d="M1198 600l19 4 -20-9 -19-3z"/><path color="#9f0" d="M1237 612l19 3 -20-7 -19-4z"/><path color="#af0" d="M1217 604l19 4 -20-8 -19-5z"/><path class="m" d="M1217.3 609.1l38.4 6.3 -39.4-15.5 -38.4-8.3z"/><path color="#f20" d="M669 392l21 0 -18-17 -22-1z"/><path color="#f10" d="M650 374l22 1 -19-17 -21-1z"/><path color="#f30" d="M690 392l21 1 -18-16 -21-2z"/><path color="#f20" d="M672 375l21 2 -19-17 -21-2z"/><path class="m" d="M668.9 391.7l42.1 1.1 -36.7-32.6 -42.2-3.3z"/><path color="#2f0" d="M1649 707l18 6 -22-1 -17-6z"/><path color="#1f0" d="M1628 706l17 6 -21-1 -17-7z"/><path color="#0f0" d="M1667 713l17 7 -21-1 -18-7z"/><path color="#0f0" d="M1645 712l18 7 -21-1 -18-7z"/><path class="m" d="M1649 707.4l35.1 12.4 -42.3-1.6 -35.1-14.2z"/><path color="#f90" d="M864 486l21 0 -19-14 -20-1z"/><path color="#f90" d="M846 471l20 1 -19-14 -20-1z"/><path color="#fa0" d="M885 486l20 2 -19-14 -20-2z"/><path color="#f90" d="M866 472l20 2 -18-13 -21-3z"/><path class="m" d="M864.4 485.6l40.9 2.1 -37.6-26.7 -40.9-4.2z"/><path color="#3f0" d="M1571 693l18 5 -21-2 -18-6z"/><path color="#3f0" d="M1550 690l18 6 -21-3 -18-6z"/><path color="#2f0" d="M1589 698l18 6 -21-2 -18-6z"/><path color="#2f0" d="M1568 696l18 6 -21-2 -18-7z"/><path class="m" d="M1570.9 693.2l35.8 10.8 -41.8-4.2 -35.8-12.7z"/><path color="#cf0" d="M1139 587l19 2 -19-10 -20-2z"/><path color="#df0" d="M1119 577l20 2 -20-9 -19-3z"/><path color="#cf0" d="M1158 589l20 3 -20-9 -19-4z"/><path color="#cf0" d="M1139 579l19 4 -19-9 -20-4z"/><path class="m" d="M1138.9 586.9l39 4.7 -39-18.1 -39-6.7z"/><path color="#5f0" d="M1493 678l18 4 -21-4 -18-4z"/><path color="#4f0" d="M1472 674l18 4 -20-4 -19-5z"/><path color="#4f0" d="M1511 682l18 5 -21-3 -18-6z"/><path color="#3f0" d="M1490 678l18 6 -20-4 -18-6z"/><path class="m" d="M1492.7 677.9l36.4 9.2 -41.3-6.8 -36.4-11.1z"/><path color="#f70" d="M785 456l21 0 -19-15 -20 0z"/><path color="#f60" d="M767 441l20 0 -18-15 -21-1z"/><path color="#f70" d="M806 456l21 1 -19-15 -21-1z"/><path color="#f70" d="M787 441l21 1 -18-15 -21-1z"/><path class="m" d="M785.4 456.3l41.4 .5 -37.3-29.3 -41.5-2.7z"/><path color="#ff0" d="M1060 564l20 1 -19-11 -20-2z"/><path color="#ff0" d="M1041 552l20 2 -19-11 -20-2z"/><path color="#ef0" d="M1080 565l20 2 -19-11 -20-2z"/><path color="#ff0" d="M1061 554l20 2 -20-10 -19-3z"/><path class="m" d="M1060.3 563.6l39.6 3.2 -38.6-20.8 -39.6-5.2z"/><path color="#6f0" d="M1414 662l19 3 -20-5 -19-4z"/><path color="#6f0" d="M1394 656l19 4 -21-5 -18-5z"/><path color="#5f0" d="M1433 665l18 4 -20-4 -18-5z"/><path color="#5f0" d="M1413 660l18 5 -20-5 -19-5z"/><path class="m" d="M1414.4 661.6l37 7.6 -40.8-9.5 -37-9.5z"/><path color="#fd0" d="M981 539l21 1 -20-13 -20 0z"/><path color="#fd0" d="M962 527l20 0 -19-12 -20-1z"/><path color="#fe0" d="M1002 540l20 1 -20-12 -20-2z"/><path color="#fd0" d="M982 527l20 2 -19-12 -20-2z"/><path class="m" d="M981.5 539.2l40.2 1.6 -38.3-23.4 -40.2-3.6z"/><path color="#8f0" d="M1336 644l19 3 -20-7 -19-3z"/><path color="#8f0" d="M1316 637l19 3 -21-6 -18-4z"/><path color="#7f0" d="M1355 647l19 3 -21-6 -18-4z"/><path color="#7f0" d="M1335 640l18 4 -20-6 -19-4z"/><path class="m" d="M1335.9 644.3l37.7 5.9 -40.3-12.1 -37.8-7.9z"/><path color="#f40" d="M706 426l21-1 -19-17 -21 1z"/><path color="#f30" d="M687 409l21-1 -18-16 -21 0z"/><path color="#f50" d="M727 425l21 0 -19-16 -21-1z"/><path color="#f40" d="M708 408l21 1 -18-16 -21-1z"/><path class="m" d="M706 425.8l42-1 -37-32 -42.1-1.1z"/><path color="#af0" d="M1257 626l19 2 -20-8 -19-2z"/><path color="#af0" d="M1237 618l19 2 -19-8 -20-3z"/><path color="#9f0" d="M1276 628l20 2 -20-7 -20-3z"/><path color="#9f0" d="M1256 620l20 3 -20-8 -19-3z"/><path class="m" d="M1257.2 625.8l38.3 4.4 -39.8-14.8 -38.4-6.3z"/><path color="#fb0" d="M902 514l21-1 -19-13 -21 0z"/><path color="#fa0" d="M883 500l21 0 -19-14 -21 0z"/><path color="#fb0" d="M923 513l20 1 -19-13 -20-1z"/><path color="#fb0" d="M904 500l20 1 -19-13 -20-2z"/><path class="m" d="M902.4 513.8l40.8 0 -37.9-26.1 -40.9-2.1z"/><path color="#1f0" d="M1771 720l17 6 -22 1 -17-6z"/><path color="#1f0" d="M1749 721l17 6 -22 0 -17-6z"/><path color="#0f0" d="M1788 726l17 7 -22 1 -17-7z"/><path color="#0f1" d="M1766 727l17 7 -22 1 -17-8z"/><path class="m" d="M1770.6 720.5l34.4 12.2 -43.6 1.9 -34.4-14z"/><path color="#f20" d="M626 394l22-2 -19-17 -21 1z"/><path color="#f10" d="M608 376l21-1 -18-18 -22 0z"/><path color="#f20" d="M648 392l21 0 -19-18 -21 1z"/><path color="#f10" d="M629 375l21-1 -18-17 -21 0z"/><path class="m" d="M626.3 394.3l42.6-2.6 -36.8-34.8 -42.6 .4z"/><path color="#3f0" d="M1692 710l18 5 -22-1 -18-5z"/><path color="#2f0" d="M1670 709l18 5 -21-1 -18-6z"/><path color="#1f0" d="M1710 715l17 6 -22-1 -17-6z"/><path color="#1f0" d="M1688 714l17 6 -21 0 -17-7z"/><path class="m" d="M1692 710l35 10.6 -42.9-.8 -35.1-12.4z"/><path color="#cf0" d="M1178 606l20 1 -20-9 -19-1z"/><path color="#cf0" d="M1159 597l19 1 -20-9 -19-2z"/><path color="#bf0" d="M1198 607l19 2 -19-9 -20-2z"/><path color="#bf0" d="M1178 598l20 2 -20-8 -20-3z"/><path class="m" d="M1178.4 606.3l38.9 2.8 -39.4-17.5 -39-4.7z"/><path color="#f90" d="M823 487l21-1 -19-15 -21 1z"/><path color="#f80" d="M804 472l21-1 -19-15 -21 0z"/><path color="#f90" d="M844 486l20 0 -18-15 -21 0z"/><path color="#f80" d="M825 471l21 0 -19-14 -21-1z"/><path class="m" d="M823.1 487.2l41.3-1.6 -37.6-28.8 -41.4-.5z"/><path color="#4f0" d="M1613 698l18 4 -21-2 -18-4z"/><path color="#3f0" d="M1592 696l18 4 -21-2 -18-5z"/><path color="#3f0" d="M1631 702l18 5 -21-1 -18-6z"/><path color="#2f0" d="M1610 700l18 6 -21-2 -18-6z"/><path class="m" d="M1613.3 698.5l35.7 8.9 -42.3-3.4 -35.8-10.8z"/><path color="#ef0" d="M1099 586l20 0 -19-11 -20 0z"/><path color="#ef0" d="M1080 575l20 0 -20-10 -20-1z"/><path color="#df0" d="M1119 586l20 1 -20-10 -19-2z"/><path color="#ef0" d="M1100 575l19 2 -19-10 -20-2z"/><path class="m" d="M1099.4 585.7l39.5 1.2 -39-20.1 -39.6-3.2z"/><path color="#5f0" d="M1535 686l18 3 -21-3 -18-4z"/><path color="#5f0" d="M1514 682l18 4 -21-4 -18-4z"/><path color="#4f0" d="M1553 689l18 4 -21-3 -18-4z"/><path color="#4f0" d="M1532 686l18 4 -21-3 -18-5z"/><path class="m" d="M1534.6 685.9l36.3 7.3 -41.8-6.1 -36.4-9.2z"/><path color="#f60" d="M743 459l21-2 -18-16 -21 2z"/><path color="#f50" d="M725 443l21-2 -19-16 -21 1z"/><path color="#f70" d="M764 457l21-1 -18-15 -21 0z"/><path color="#f60" d="M746 441l21 0 -19-16 -21 0z"/><path class="m" d="M743.5 459.5l41.9-3.2 -37.4-31.5 -42 1z"/><path color="#6f0" d="M1456 672l18 3 -20-5 -19-3z"/><path color="#6f0" d="M1435 667l19 3 -21-5 -19-3z"/><path color="#6f0" d="M1474 675l19 3 -21-4 -18-4z"/><path color="#5f0" d="M1454 670l18 4 -21-5 -18-4z"/><path class="m" d="M1455.7 672.3l37 5.6 -41.3-8.7 -37-7.6z"/><path color="#fe0" d="M1020 564l20-1 -19-11 -20 0z"/><path color="#fe0" d="M1001 552l20 0 -19-12 -21-1z"/><path color="#ff0" d="M1040 563l20 1 -19-12 -20 0z"/><path color="#fe0" d="M1021 552l20 0 -19-11 -20-1z"/><path class="m" d="M1020.2 564.1l40.1-.5 -38.6-22.8 -40.2-1.6z"/><path color="#8f0" d="M1377 658l19 1 -21-6 -19-2z"/><path color="#8f0" d="M1356 651l19 2 -20-6 -19-3z"/><path color="#7f0" d="M1396 659l18 3 -20-6 -19-3z"/><path color="#7f0" d="M1375 653l19 3 -20-6 -19-3z"/><path class="m" d="M1376.7 657.6l37.7 4 -40.8-11.4 -37.7-5.9z"/><path color="#fc0" d="M941 541l20-1 -19-13 -20 1z"/><path color="#fc0" d="M922 528l20-1 -19-14 -21 1z"/><path color="#fd0" d="M961 540l20-1 -19-12 -20 0z"/><path color="#fc0" d="M942 527l20 0 -19-13 -20-1z"/><path class="m" d="M940.8 541.3l40.7-2.1 -38.3-25.4 -40.8 0z"/><path color="#f40" d="M664 431l21-3 -19-18 -21 3z"/><path color="#f30" d="M645 413l21-3 -18-18 -22 2z"/><path color="#f40" d="M685 428l21-2 -19-17 -21 1z"/><path color="#f30" d="M666 410l21-1 -18-17 -21 0z"/><path class="m" d="M663.5 430.6l42.5-4.8 -37.1-34.1 -42.6 2.6z"/><path color="#9f0" d="M1298 642l19 1 -20-8 -20-1z"/><path color="#af0" d="M1277 634l20 1 -21-7 -19-2z"/><path color="#9f0" d="M1317 643l19 1 -20-7 -19-2z"/><path color="#9f0" d="M1297 635l19 2 -20-7 -20-2z"/><path class="m" d="M1297.6 641.9l38.3 2.4 -40.4-14.1 -38.3-4.4z"/><path color="#fa0" d="M861 517l21-2 -19-14 -21 1z"/><path color="#f90" d="M842 502l21-1 -19-15 -21 1z"/><path color="#fa0" d="M882 515l20-1 -19-14 -20 1z"/><path color="#fa0" d="M863 501l20-1 -19-14 -20 0z"/><path class="m" d="M861.1 517.5l41.3-3.7 -38-28.2 -41.3 1.6z"/><path color="#bf0" d="M1218 625l20 0 -20-9 -20 0z"/><path color="#bf0" d="M1198 616l20 0 -20-9 -20-1z"/><path color="#bf0" d="M1238 625l19 1 -20-8 -19-2z"/><path color="#bf0" d="M1218 616l19 2 -20-9 -19-2z"/><path class="m" d="M1218.4 625.1l38.8 .7 -39.9-16.7 -38.9-2.8z"/><path color="#3f0" d="M1815 719l17 5 -22 1 -17-5z"/><path color="#2f0" d="M1793 720l17 5 -22 1 -17-6z"/><path color="#2f0" d="M1832 724l17 6 -22 1 -17-6z"/><path color="#1f0" d="M1810 725l17 6 -22 2 -17-7z"/><path class="m" d="M1814.8 719.5l34.4 10.4 -44.2 2.8 -34.4-12.2z"/><path color="#f10" d="M583 401l22-4 -19-19 -21 3z"/><path color="#f00" d="M565 381l21-3 -18-19 -22 2z"/><path color="#f10" d="M605 397l21-3 -18-18 -22 2z"/><path color="#f00" d="M586 378l22-2 -19-19 -21 2z"/><path class="m" d="M583.3 400.6l43-6.3 -36.8-37 -43.2 4.2z"/><path color="#4f0" d="M1736 712l17 4 -22-1 -17-4z"/><path color="#3f0" d="M1714 711l17 4 -21 0 -18-5z"/><path color="#3f0" d="M1753 716l18 4 -22 1 -18-6z"/><path color="#2f0" d="M1731 715l18 6 -22 0 -17-6z"/><path class="m" d="M1735.6 711.7l35 8.8 -43.6 .1 -35-10.6z"/><path color="#df0" d="M1139 607l20-1 -20-10 -20 1z"/><path color="#df0" d="M1119 597l20-1 -20-10 -20 0z"/><path color="#cf0" d="M1159 606l19 0 -19-9 -20-1z"/><path color="#df0" d="M1139 596l20 1 -20-10 -20-1z"/><path class="m" d="M1138.9 607.2l39.5-.9 -39.5-19.4 -39.5-1.2z"/><path color="#f80" d="M781 493l21-4 -19-16 -21 3z"/><path color="#f70" d="M762 476l21-3 -19-16 -21 2z"/><path color="#f80" d="M802 489l21-2 -19-15 -21 1z"/><path color="#f70" d="M783 473l21-1 -19-16 -21 1z"/><path class="m" d="M781.2 492.5l41.9-5.3 -37.7-30.9 -41.9 3.2z"/><path color="#5f0" d="M1656 703l18 3 -21-2 -18-3z"/><path color="#4f0" d="M1635 701l18 3 -22-2 -18-4z"/><path color="#4f0" d="M1674 706l18 4 -22-1 -17-5z"/><path color="#3f0" d="M1653 704l17 5 -21-2 -18-5z"/><path class="m" d="M1656.3 702.9l35.7 7.1 -43-2.6 -35.7-8.9z"/><path color="#6f0" d="M1577 693l18 2 -21-3 -18-2z"/><path color="#5f0" d="M1556 690l18 2 -21-3 -18-3z"/><path color="#5f0" d="M1595 695l18 3 -21-2 -18-4z"/><path color="#4f0" d="M1574 692l18 4 -21-3 -18-4z"/><path class="m" d="M1577 693.1l36.3 5.4 -42.4-5.3 -36.3-7.3z"/><path color="#ff0" d="M1059 588l20-1 -19-12 -20 1z"/><path color="#ff0" d="M1040 576l20-1 -20-12 -20 1z"/><path color="#ef0" d="M1079 587l20-1 -19-11 -20 0z"/><path color="#ff0" d="M1060 575l20 0 -20-11 -20-1z"/><path class="m" d="M1059.4 588.3l40-2.6 -39.1-22.1 -40.1 .5z"/><path color="#7f0" d="M1498 682l18 2 -21-5 -18-2z"/><path color="#7f0" d="M1477 677l18 2 -21-4 -18-3z"/><path color="#6f0" d="M1516 684l19 2 -21-4 -19-3z"/><path color="#6f0" d="M1495 679l19 3 -21-4 -19-3z"/><path class="m" d="M1497.6 682.2l37 3.7 -41.9-8 -37-5.6z"/><path color="#f60" d="M701 466l21-4 -18-17 -22 4z"/><path color="#f50" d="M682 449l22-4 -19-17 -21 3z"/><path color="#f60" d="M722 462l21-3 -18-16 -21 2z"/><path color="#f50" d="M704 445l21-2 -19-17 -21 2z"/><path class="m" d="M701.1 466.4l42.4-6.9 -37.5-33.7 -42.5 4.8z"/><path color="#fd0" d="M980 568l20-2 -19-13 -21 2z"/><path color="#fd0" d="M960 555l21-2 -20-13 -20 1z"/><path color="#fe0" d="M1000 566l20-2 -19-12 -20 1z"/><path color="#fd0" d="M981 553l20-1 -20-13 -20 1z"/><path class="m" d="M979.6 568.3l40.6-4.2 -38.7-24.9 -40.7 2.1z"/><path color="#8f0" d="M1418 670l19 1 -21-6 -19-1z"/><path color="#8f0" d="M1397 664l19 1 -20-6 -19-1z"/><path color="#7f0" d="M1437 671l19 1 -21-5 -19-2z"/><path color="#7f0" d="M1416 665l19 2 -21-5 -18-3z"/><path class="m" d="M1418.1 670.2l37.6 2.1 -41.3-10.7 -37.7-4z"/><path color="#9f0" d="M1338 657l20 0 -21-7 -19 0z"/><path color="#9f0" d="M1318 650l19 0 -20-7 -19-1z"/><path color="#9f0" d="M1358 657l19 1 -21-7 -19-1z"/><path color="#9f0" d="M1337 650l19 1 -20-7 -19-1z"/><path class="m" d="M1338.5 657.2l38.2 .4 -40.8-13.3 -38.3-2.4z"/><path color="#f30" d="M621 439l21-5 -19-18 -21 4z"/><path color="#f20" d="M602 420l21-4 -18-19 -22 4z"/><path color="#f40" d="M642 434l22-3 -19-18 -22 3z"/><path color="#f20" d="M623 416l22-3 -19-19 -21 3z"/><path class="m" d="M620.6 439.2l42.9-8.6 -37.2-36.3 -43 6.3z"/><path color="#fc0" d="M900 547l20-3 -19-14 -21 2z"/><path color="#fb0" d="M880 532l21-2 -19-15 -21 2z"/><path color="#fc0" d="M920 544l21-3 -19-13 -21 2z"/><path color="#fb0" d="M901 530l21-2 -20-14 -20 1z"/><path class="m" d="M899.6 547.2l41.2-5.9 -38.4-27.5 -41.3 3.7z"/><path color="#bf0" d="M1259 643l19-1 -20-8 -20 0z"/><path color="#bf0" d="M1238 634l20 0 -20-9 -20 0z"/><path color="#af0" d="M1278 642l20 0 -21-8 -19 0z"/><path color="#af0" d="M1258 634l19 0 -20-8 -19-1z"/><path class="m" d="M1258.8 643.2l38.8-1.3 -40.4-16.1 -38.8-.7z"/><path color="#fa0" d="M819 525l21-4 -19-16 -21 4z"/><path color="#f90" d="M800 509l21-4 -19-16 -21 4z"/><path color="#fa0" d="M840 521l21-4 -19-15 -21 3z"/><path color="#f90" d="M821 505l21-3 -19-15 -21 2z"/><path class="m" d="M819.4 525l41.7-7.5 -38-30.3 -41.9 5.3z"/><path color="#f10" d="M540 411l22-6 -19-20 -22 5z"/><path color="#f00" d="M521 390l22-5 -18-20 -22 4z"/><path color="#f10" d="M562 405l21-4 -18-20 -22 4z"/><path color="#f00" d="M543 385l22-4 -19-20 -21 4z"/><path class="m" d="M539.9 410.8l43.4-10.2 -37-39.1 -43.5 8z"/><path color="#cf0" d="M1179 628l20-2 -20-10 -20 2z"/><path color="#df0" d="M1159 618l20-2 -20-10 -20 1z"/><path color="#cf0" d="M1199 626l19-1 -20-9 -19 0z"/><path color="#cf0" d="M1179 616l19 0 -20-10 -19 0z"/><path class="m" d="M1178.9 628.1l39.5-3 -40-18.8 -39.5 .9z"/><path color="#4f0" d="M1860 718l17 3 -23 2 -17-4z"/><path color="#3f0" d="M1837 719l17 4 -22 1 -17-5z"/><path color="#3f0" d="M1877 721l17 5 -22 2 -18-5z"/><path color="#2f0" d="M1854 723l18 5 -23 2 -17-6z"/><path class="m" d="M1859.7 717.5l34.3 8.7 -44.8 3.7 -34.4-10.4z"/><path color="#5f0" d="M1780 713l17 3 -22 0 -17-4z"/><path color="#4f0" d="M1758 712l17 4 -22 0 -17-4z"/><path color="#4f0" d="M1797 716l18 3 -22 1 -18-4z"/><path color="#3f0" d="M1775 716l18 4 -22 0 -18-4z"/><path class="m" d="M1779.8 712.5l35 7 -44.2 1 -35-8.8z"/><path color="#ef0" d="M1099 612l20-3 -20-11 -20 2z"/><path color="#ef0" d="M1079 600l20-2 -20-11 -20 1z"/><path color="#df0" d="M1119 609l20-2 -20-10 -20 1z"/><path color="#ef0" d="M1099 598l20-1 -20-11 -20 1z"/><path class="m" d="M1098.9 611.9l40-4.7 -39.5-21.5 -40 2.6z"/><path color="#f80" d="M739 502l21-5 -19-17 -21 4z"/><path color="#f70" d="M720 484l21-4 -19-18 -21 4z"/><path color="#f80" d="M760 497l21-4 -19-17 -21 4z"/><path color="#f70" d="M741 480l21-4 -19-17 -21 3z"/><path class="m" d="M739 501.7l42.2-9.2 -37.7-33 -42.4 6.9z"/><path color="#5f0" d="M1700 707l18 2 -22-2 -18-2z"/><path color="#5f0" d="M1678 705l18 2 -22-1 -18-3z"/><path color="#5f0" d="M1718 709l18 3 -22-1 -18-4z"/><path color="#4f0" d="M1696 707l18 4 -22-1 -18-4z"/><path class="m" d="M1699.9 706.5l35.7 5.2 -43.6-1.7 -35.7-7.1z"/><path color="#6f0" d="M1620 699l18 2 -21-3 -19-2z"/><path color="#6f0" d="M1598 696l19 2 -22-3 -18-2z"/><path color="#5f0" d="M1638 701l18 2 -21-2 -18-3z"/><path color="#5f0" d="M1617 698l18 3 -22-3 -18-3z"/><path class="m" d="M1620 699.4l36.3 3.5 -43-4.4 -36.3-5.4z"/><path color="#ff0" d="M1019 595l20-4 -20-13 -20 4z"/><path color="#fe0" d="M999 582l20-4 -19-12 -20 2z"/><path color="#ff0" d="M1039 591l20-3 -19-12 -21 2z"/><path color="#fe0" d="M1019 578l21-2 -20-12 -20 2z"/><path class="m" d="M1018.8 594.6l40.6-6.3 -39.2-24.2 -40.6 4.2z"/><path color="#7f0" d="M1540 691l19 1 -22-4 -18-1z"/><path color="#7f0" d="M1519 687l18 1 -21-4 -18-2z"/><path color="#6f0" d="M1559 692l18 1 -21-3 -19-2z"/><path color="#6f0" d="M1537 688l19 2 -21-4 -19-2z"/><path class="m" d="M1540 691.3l37 1.8 -42.4-7.2 -37-3.7z"/><path color="#f60" d="M658 477l22-6 -19-18 -22 5z"/><path color="#f40" d="M639 458l22-5 -19-19 -21 5z"/><path color="#f60" d="M680 471l21-5 -19-17 -21 4z"/><path color="#f50" d="M661 453l21-4 -18-18 -22 3z"/><path class="m" d="M658.3 477.2l42.8-10.8 -37.6-35.8 -42.9 8.6z"/><path color="#8f0" d="M1460 682l19 0 -21-6 -19 0z"/><path color="#8f0" d="M1439 676l19 0 -21-5 -19-1z"/><path color="#7f0" d="M1479 682l19 0 -21-5 -19-1z"/><path color="#7f0" d="M1458 676l19 1 -21-5 -19-1z"/><path class="m" d="M1460 682.1l37.6 .1 -41.9-9.9 -37.6-2.1z"/><path color="#fd0" d="M938 576l21-4 -19-14 -21 4z"/><path color="#fc0" d="M919 562l21-4 -20-14 -20 3z"/><path color="#fd0" d="M959 572l21-4 -20-13 -20 3z"/><path color="#fd0" d="M940 558l20-3 -19-14 -21 3z"/><path class="m" d="M938.4 576.3l41.2-8 -38.8-27 -41.2 5.9z"/><path color="#9f0" d="M1380 672l19-1 -21-7 -19 1z"/><path color="#9f0" d="M1359 665l19-1 -20-7 -20 0z"/><path color="#8f0" d="M1399 671l19-1 -21-6 -19 0z"/><path color="#9f0" d="M1378 664l19 0 -20-6 -19-1z"/><path class="m" d="M1379.9 671.9l38.2-1.7 -41.4-12.6 -38.2-.4z"/><path color="#f30" d="M577 452l22-7 -19-20 -21 6z"/><path color="#f20" d="M559 431l21-6 -18-20 -22 6z"/><path color="#f30" d="M599 445l22-6 -19-19 -22 5z"/><path color="#f20" d="M580 425l22-5 -19-19 -21 4z"/><path class="m" d="M577.3 451.7l43.3-12.5 -37.3-38.6 -43.4 10.2z"/><path color="#fb0" d="M858 557l21-5 -19-16 -21 5z"/><path color="#fb0" d="M839 541l21-5 -20-15 -21 4z"/><path color="#fb0" d="M879 552l21-5 -20-15 -20 4z"/><path color="#fb0" d="M860 536l20-4 -19-15 -21 4z"/><path class="m" d="M857.9 556.9l41.7-9.7 -38.5-29.7 -41.7 7.5z"/><path color="#af0" d="M1300 661l19-3 -20-8 -20 2z"/><path color="#af0" d="M1279 652l20-2 -21-8 -19 1z"/><path color="#af0" d="M1319 658l19-1 -20-7 -19 0z"/><path color="#af0" d="M1299 650l19 0 -20-8 -20 0z"/><path class="m" d="M1299.7 660.6l38.8-3.4 -40.9-15.3 -38.8 1.3z"/><path color="#bf0" d="M1219 648l20-3 -20-9 -20 2z"/><path color="#cf0" d="M1199 638l20-2 -20-10 -20 2z"/><path color="#bf0" d="M1239 645l20-2 -21-9 -19 2z"/><path color="#bf0" d="M1219 636l19-2 -20-9 -19 1z"/><path class="m" d="M1219.4 648.3l39.4-5.1 -40.4-18.1 -39.5 3z"/><path color="#fa0" d="M777 536l21-6 -19-17 -21 6z"/><path color="#f90" d="M758 519l21-6 -19-16 -21 5z"/><path color="#fa0" d="M798 530l21-5 -19-16 -21 4z"/><path color="#f90" d="M779 513l21-4 -19-16 -21 4z"/><path class="m" d="M777.2 536.3l42.2-11.3 -38.2-32.5 -42.2 9.2z"/><path color="#f10" d="M496 425l22-8 -19-21 -22 7z"/><path color="#f00" d="M477 403l22-7 -18-21 -22 6z"/><path color="#f10" d="M518 417l22-6 -19-21 -22 6z"/><path color="#f00" d="M499 396l22-6 -18-21 -22 6z"/><path class="m" d="M496.1 425l43.8-14.2 -37.1-41.3 -44 11.8z"/><path color="#df0" d="M1139 635l20-4 -20-11 -20 3z"/><path color="#df0" d="M1119 623l20-3 -20-11 -20 3z"/><path color="#cf0" d="M1159 631l20-3 -20-10 -20 2z"/><path color="#df0" d="M1139 620l20-2 -20-11 -20 2z"/><path class="m" d="M1138.9 634.8l40-6.7 -40-20.9 -40 4.7z"/><path color="#f80" d="M696 515l22-7 -19-18 -22 6z"/><path color="#f70" d="M677 496l22-6 -19-19 -22 6z"/><path color="#f80" d="M718 508l21-6 -19-18 -21 6z"/><path color="#f70" d="M699 490l21-6 -19-18 -21 5z"/><path class="m" d="M696.2 514.7l42.8-13 -37.9-35.3 -42.8 10.8z"/><path color="#ef0" d="M1058 620l21-4 -20-13 -20 5z"/><path color="#ff0" d="M1039 608l20-5 -20-12 -20 4z"/><path color="#ef0" d="M1079 616l20-4 -20-12 -20 3z"/><path color="#ff0" d="M1059 603l20-3 -20-12 -20 3z"/><path class="m" d="M1058.4 620.4l40.5-8.5 -39.5-23.6 -40.6 6.3z"/><path color="#6f0" d="M1905 715l18 3 -23 2 -18-4z"/><path color="#5f0" d="M1882 716l18 4 -23 1 -17-3z"/><path color="#5f0" d="M1923 718l17 3 -23 3 -17-4z"/><path color="#4f0" d="M1900 720l17 4 -23 2 -17-5z"/><path class="m" d="M1905.3 714.7l34.3 6.8 -45.6 4.7 -34.3-8.7z"/><path color="#6f0" d="M1825 712l17 3 -22 0 -18-2z"/><path color="#5f0" d="M1802 713l18 2 -23 1 -17-3z"/><path color="#5f0" d="M1842 715l18 3 -23 1 -17-4z"/><path color="#4f0" d="M1820 715l17 4 -22 0 -18-3z"/><path class="m" d="M1824.7 712.5l35 5 -44.9 2 -35-7z"/><path color="#6f0" d="M1744 709l18 1 -22 0 -18-2z"/><path color="#6f0" d="M1722 708l18 2 -22-1 -18-2z"/><path color="#6f0" d="M1762 710l18 3 -22-1 -18-2z"/><path color="#5f0" d="M1740 710l18 2 -22 0 -18-3z"/><path class="m" d="M1744.2 709.3l35.6 3.2 -44.2-.8 -35.7-5.2z"/><path color="#7f0" d="M1664 705l18 0 -22-2 -18-1z"/><path color="#6f0" d="M1642 702l18 1 -22-2 -18-2z"/><path color="#6f0" d="M1682 705l18 2 -22-2 -18-2z"/><path color="#6f0" d="M1660 703l18 2 -22-2 -18-2z"/><path class="m" d="M1663.6 705l36.3 1.5 -43.6-3.6 -36.3-3.5z"/><path color="#fe0" d="M978 605l20-6 -19-13 -21 5z"/><path color="#fe0" d="M958 591l21-5 -20-14 -21 4z"/><path color="#fe0" d="M998 599l21-4 -20-13 -20 4z"/><path color="#fe0" d="M979 586l20-4 -19-14 -21 4z"/><path class="m" d="M977.7 604.8l41.1-10.2 -39.2-26.3 -41.2 8z"/><path color="#f60" d="M615 492l22-8 -19-19 -22 7z"/><path color="#f50" d="M596 472l22-7 -19-20 -22 7z"/><path color="#f60" d="M637 484l21-7 -19-19 -21 7z"/><path color="#f50" d="M618 465l21-7 -18-19 -22 6z"/><path class="m" d="M615 491.9l43.3-14.7 -37.7-38 -43.3 12.5z"/><path color="#7f0" d="M1583 700l19-1 -22-4 -19 1z"/><path color="#7f0" d="M1561 696l19-1 -21-3 -19-1z"/><path color="#7f0" d="M1602 699l18 0 -22-3 -18-1z"/><path color="#7f0" d="M1580 695l18 1 -21-3 -18-1z"/><path class="m" d="M1583 699.6l37-.2 -43-6.3 -37-1.8z"/><path color="#8f0" d="M1502 693l19-1 -21-5 -19 1z"/><path color="#8f0" d="M1481 688l19-1 -21-5 -19 0z"/><path color="#8f0" d="M1521 692l19-1 -21-4 -19 0z"/><path color="#7f0" d="M1500 687l19 0 -21-5 -19 0z"/><path class="m" d="M1502.4 693.2l37.6-1.9 -42.4-9.1 -37.6-.1z"/><path color="#fd0" d="M897 588l21-6 -20-15 -21 6z"/><path color="#fc0" d="M877 573l21-6 -19-15 -21 5z"/><path color="#fd0" d="M918 582l20-6 -19-14 -21 5z"/><path color="#fc0" d="M898 567l21-5 -19-15 -21 5z"/><path class="m" d="M896.8 588.2l41.6-11.9 -38.8-29.1 -41.7 9.7z"/><path color="#9f0" d="M1422 686l19-3 -21-6 -19 2z"/><path color="#9f0" d="M1401 679l19-2 -21-6 -19 1z"/><path color="#8f0" d="M1441 683l19-1 -21-6 -19 1z"/><path color="#8f0" d="M1420 677l19-1 -21-6 -19 1z"/><path class="m" d="M1421.8 685.8l38.2-3.7 -41.9-11.9 -38.2 1.7z"/><path color="#f40" d="M534 468l21-9 -18-21 -22 9z"/><path color="#f20" d="M515 447l22-9 -19-21 -22 8z"/><path color="#f40" d="M555 459l22-7 -18-21 -22 7z"/><path color="#f20" d="M537 438l22-7 -19-20 -22 6z"/><path class="m" d="M533.6 468.1l43.7-16.4 -37.4-40.9 -43.8 14.2z"/><path color="#af0" d="M1341 677l20-3 -21-8 -20 3z"/><path color="#af0" d="M1320 669l20-3 -21-8 -19 3z"/><path color="#9f0" d="M1361 674l19-2 -21-7 -19 1z"/><path color="#af0" d="M1340 666l19-1 -21-8 -19 1z"/><path class="m" d="M1341.1 677.3l38.8-5.4 -41.4-14.7 -38.8 3.4z"/><path color="#fb0" d="M816 570l21-7 -19-16 -22 6z"/><path color="#fa0" d="M796 553l22-6 -20-17 -21 6z"/><path color="#fb0" d="M837 563l21-6 -19-16 -21 6z"/><path color="#fa0" d="M818 547l21-6 -20-16 -21 5z"/><path class="m" d="M815.8 570.4l42.1-13.5 -38.5-31.9 -42.2 11.3z"/><path color="#bf0" d="M1260 668l20-4 -20-9 -20 3z"/><path color="#bf0" d="M1240 658l20-3 -21-10 -20 3z"/><path color="#bf0" d="M1280 664l20-3 -21-9 -19 3z"/><path color="#bf0" d="M1260 655l19-3 -20-9 -20 2z"/><path class="m" d="M1260.3 667.8l39.4-7.2 -40.9-17.4 -39.4 5.1z"/><path color="#f20" d="M452 443l22-9 -19-23 -22 9z"/><path color="#f00" d="M433 420l22-9 -18-22 -22 8z"/><path color="#f10" d="M474 434l22-9 -19-22 -22 8z"/><path color="#f00" d="M455 411l22-8 -18-22 -22 8z"/><path class="m" d="M451.8 443.1l44.3-18.1 -37.3-43.7 -44.3 15.8z"/><path color="#fa0" d="M735 552l21-9 -19-17 -22 7z"/><path color="#f90" d="M715 533l22-7 -19-18 -22 7z"/><path color="#fa0" d="M756 543l21-7 -19-17 -21 7z"/><path color="#f90" d="M737 526l21-7 -19-17 -21 6z"/><path class="m" d="M734.5 551.6l42.7-15.3 -38.2-34.6 -42.8 13z"/><path color="#cf0" d="M1179 657l20-5 -20-10 -20 4z"/><path color="#cf0" d="M1159 646l20-4 -20-11 -20 4z"/><path color="#cf0" d="M1199 652l20-4 -20-10 -20 4z"/><path color="#cf0" d="M1179 642l20-4 -20-10 -20 3z"/><path class="m" d="M1179.4 657.2l40-8.9 -40.5-20.2 -40 6.7z"/><path color="#df0" d="M1098 645l21-5 -20-12 -21 5z"/><path color="#ef0" d="M1078 633l21-5 -20-12 -21 4z"/><path color="#df0" d="M1119 640l20-5 -20-12 -20 5z"/><path color="#df0" d="M1099 628l20-5 -20-11 -20 4z"/><path class="m" d="M1098.4 645.5l40.5-10.7 -40-22.9 -40.5 8.5z"/><path color="#f80" d="M653 532l22-9 -19-20 -22 9z"/><path color="#f70" d="M634 512l22-9 -19-19 -22 8z"/><path color="#f80" d="M675 523l21-8 -19-19 -21 7z"/><path color="#f70" d="M656 503l21-7 -19-19 -21 7z"/><path class="m" d="M653.1 531.7l43.1-17 -37.9-37.5 -43.3 14.7z"/><path color="#ef0" d="M1017 633l21-7 -20-13 -21 6z"/><path color="#ff0" d="M997 619l21-6 -20-14 -20 6z"/><path color="#ef0" d="M1038 626l20-6 -19-12 -21 5z"/><path color="#ff0" d="M1018 613l21-5 -20-13 -21 4z"/><path class="m" d="M1017.3 632.7l41.1-12.3 -39.6-25.8 -41.1 10.2z"/><path color="#f60" d="M571 511l22-10 -19-21 -22 9z"/><path color="#f50" d="M552 489l22-9 -19-21 -21 9z"/><path color="#f60" d="M593 501l22-9 -19-20 -22 8z"/><path color="#f50" d="M574 480l22-8 -19-20 -22 7z"/><path class="m" d="M571.4 510.7l43.6-18.8 -37.7-40.2 -43.7 16.4z"/><path color="#fe0" d="M936 619l21-8 -20-14 -21 7z"/><path color="#fe0" d="M916 604l21-7 -19-15 -21 6z"/><path color="#fe0" d="M957 611l21-6 -20-14 -21 6z"/><path color="#fe0" d="M937 597l21-6 -20-15 -20 6z"/><path class="m" d="M936.1 618.9l41.6-14.1 -39.3-28.5 -41.6 11.9z"/><path color="#7f0" d="M1870 712l18 1 -23 1 -18-2z"/><path color="#7f0" d="M1847 712l18 2 -23 1 -17-3z"/><path color="#6f0" d="M1888 713l17 2 -23 1 -17-2z"/><path color="#6f0" d="M1865 714l17 2 -22 2 -18-3z"/><path class="m" d="M1870.3 711.5l35 3.2 -45.6 2.8 -35-5z"/><path color="#7f0" d="M1789 711l18 0 -23 0 -17-1z"/><path color="#7f0" d="M1767 710l17 1 -22-1 -18-1z"/><path color="#7f0" d="M1807 711l18 1 -23 1 -18-2z"/><path color="#6f0" d="M1784 711l18 2 -22 0 -18-3z"/><path class="m" d="M1789.1 711.1l35.6 1.4 -44.9 0 -35.6-3.2z"/><path color="#8f0" d="M1708 710l18-1 -22-2 -18 0z"/><path color="#7f0" d="M1686 707l18 0 -22-2 -18 0z"/><path color="#7f0" d="M1726 709l18 0 -22-1 -18-1z"/><path color="#7f0" d="M1704 707l18 1 -22-1 -18-2z"/><path class="m" d="M1707.8 709.7l36.4-.4 -44.3-2.8 -36.3-1.5z"/><path color="#8f0" d="M1627 707l18-1 -22-4 -18 2z"/><path color="#8f0" d="M1605 704l18-2 -21-3 -19 1z"/><path color="#7f0" d="M1645 706l19-1 -22-3 -19 0z"/><path color="#7f0" d="M1623 702l19 0 -22-3 -18 0z"/><path class="m" d="M1626.6 707.2l37-2.2 -43.6-5.6 -37 .2z"/><path color="#fd0" d="M855 604l21-8 -20-17 -21 8z"/><path color="#fc0" d="M835 587l21-8 -19-16 -21 7z"/><path color="#fd0" d="M876 596l21-8 -20-15 -21 6z"/><path color="#fc0" d="M856 579l21-6 -19-16 -21 6z"/><path class="m" d="M854.7 604l42.1-15.8 -38.9-31.3 -42.1 13.5z"/><path color="#8f0" d="M1545 704l19-3 -21-4 -19 2z"/><path color="#8f0" d="M1524 699l19-2 -22-5 -19 1z"/><path color="#8f0" d="M1564 701l19-1 -22-4 -18 1z"/><path color="#8f0" d="M1543 697l18-1 -21-5 -19 1z"/><path class="m" d="M1545.4 703.6l37.6-4 -43-8.3 -37.6 1.9z"/><path color="#f40" d="M489 488l23-10 -19-22 -22 10z"/><path color="#f30" d="M471 466l22-10 -19-22 -22 9z"/><path color="#f40" d="M512 478l22-10 -19-21 -22 9z"/><path color="#f30" d="M493 456l22-9 -19-22 -22 9z"/><path class="m" d="M489.4 488.5l44.2-20.4 -37.5-43.1 -44.3 18.1z"/><path color="#9f0" d="M1464 699l19-3 -21-6 -19 2z"/><path color="#9f0" d="M1443 692l19-2 -21-7 -19 3z"/><path color="#9f0" d="M1483 696l19-3 -21-5 -19 2z"/><path color="#8f0" d="M1462 690l19-2 -21-6 -19 1z"/><path class="m" d="M1464.2 699l38.2-5.8 -42.4-11.1 -38.2 3.7z"/><path color="#af0" d="M1383 693l19-4 -21-7 -19 3z"/><path color="#af0" d="M1362 685l19-3 -20-8 -20 3z"/><path color="#9f0" d="M1402 689l20-3 -21-7 -20 3z"/><path color="#9f0" d="M1381 682l20-3 -21-7 -19 2z"/><path class="m" d="M1383 693.3l38.8-7.5 -41.9-13.9 -38.8 5.4z"/><path color="#fc0" d="M773 588l22-9 -20-18 -21 9z"/><path color="#fb0" d="M754 570l21-9 -19-18 -21 9z"/><path color="#fb0" d="M795 579l21-9 -20-17 -21 8z"/><path color="#fb0" d="M775 561l21-8 -19-17 -21 7z"/><path class="m" d="M773.2 588l42.6-17.6 -38.6-34.1 -42.7 15.3z"/><path color="#af0" d="M1302 687l19-6 -20-8 -20 4z"/><path color="#af0" d="M1281 677l20-4 -21-9 -20 4z"/><path color="#af0" d="M1321 681l20-4 -21-8 -19 4z"/><path color="#af0" d="M1301 673l19-4 -20-8 -20 3z"/><path class="m" d="M1301.7 686.6l39.4-9.3 -41.4-16.7 -39.4 7.2z"/><path color="#f20" d="M407 465l23-11 -19-24 -23 11z"/><path color="#f10" d="M388 441l23-11 -19-23 -22 10z"/><path color="#f20" d="M430 454l22-11 -19-23 -22 10z"/><path color="#f10" d="M411 430l22-10 -18-23 -23 10z"/><path class="m" d="M407.2 465.2l44.6-22.1 -37.3-46 -44.7 19.8z"/><path color="#bf0" d="M1220 679l20-6 -20-10 -20 5z"/><path color="#bf0" d="M1200 668l20-5 -21-11 -20 5z"/><path color="#bf0" d="M1240 673l20-5 -20-10 -20 5z"/><path color="#bf0" d="M1220 663l20-5 -21-10 -20 4z"/><path class="m" d="M1220.4 678.8l39.9-11 -40.9-19.5 -40 8.9z"/><path color="#fa0" d="M691 571l22-10 -19-19 -22 9z"/><path color="#f90" d="M672 551l22-9 -19-19 -22 9z"/><path color="#fa0" d="M713 561l22-9 -20-19 -21 9z"/><path color="#f90" d="M694 542l21-9 -19-18 -21 8z"/><path class="m" d="M691.4 570.9l43.1-19.3 -38.3-36.9 -43.1 17z"/><path color="#cf0" d="M1139 670l20-7 -20-12 -20 7z"/><path color="#cf0" d="M1119 658l20-7 -20-11 -21 5z"/><path color="#cf0" d="M1159 663l20-6 -20-11 -20 5z"/><path color="#cf0" d="M1139 651l20-5 -20-11 -20 5z"/><path class="m" d="M1138.9 669.9l40.5-12.7 -40.5-22.4 -40.5 10.7z"/><path color="#f90" d="M609 553l22-11 -19-21 -22 11z"/><path color="#f70" d="M590 532l22-11 -19-20 -22 10z"/><path color="#f80" d="M631 542l22-10 -19-20 -22 9z"/><path color="#f70" d="M612 521l22-9 -19-20 -22 9z"/><path class="m" d="M609.5 552.7l43.6-21 -38.1-39.8 -43.6 18.8z"/><path color="#df0" d="M1057 660l21-8 -20-13 -21 7z"/><path color="#ef0" d="M1037 646l21-7 -20-13 -21 7z"/><path color="#df0" d="M1078 652l20-7 -20-12 -20 6z"/><path color="#ef0" d="M1058 639l20-6 -20-13 -20 6z"/><path class="m" d="M1057.4 660l41-14.5 -40-25.1 -41.1 12.3z"/><path color="#ef0" d="M976 649l21-9 -20-14 -21 8z"/><path color="#ff0" d="M956 634l21-8 -20-15 -21 8z"/><path color="#ef0" d="M997 640l20-7 -20-14 -20 7z"/><path color="#ff0" d="M977 626l20-7 -19-14 -21 6z"/><path class="m" d="M975.8 649l41.5-16.3 -39.6-27.9 -41.6 14.1z"/><path color="#f70" d="M527 533l22-11 -19-22 -22 11z"/><path color="#f60" d="M508 511l22-11 -18-22 -23 10z"/><path color="#f70" d="M549 522l22-11 -19-22 -22 11z"/><path color="#f50" d="M530 500l22-11 -18-21 -22 10z"/><path class="m" d="M527.3 533.4l44.1-22.7 -37.8-42.6 -44.2 20.4z"/><path color="#ff0" d="M894 637l21-10 -20-15 -21 9z"/><path color="#fe0" d="M874 621l21-9 -19-16 -21 8z"/><path color="#ff0" d="M915 627l21-8 -20-15 -21 8z"/><path color="#fe0" d="M895 612l21-8 -19-16 -21 8z"/><path class="m" d="M894.1 636.9l42-18 -39.3-30.7 -42.1 15.8z"/><path color="#fe0" d="M812 624l22-11 -20-17 -21 10z"/><path color="#fd0" d="M793 606l21-10 -19-17 -22 9z"/><path color="#fd0" d="M834 613l21-9 -20-17 -21 9z"/><path color="#fc0" d="M814 596l21-9 -19-17 -21 9z"/><path class="m" d="M812.2 623.8l42.5-19.8 -38.9-33.6 -42.6 17.6z"/><path color="#f50" d="M445 513l22-13 -19-23 -22 12z"/><path color="#f40" d="M426 489l22-12 -18-23 -23 11z"/><path color="#f50" d="M467 500l22-12 -18-22 -23 11z"/><path color="#f30" d="M448 477l23-11 -19-23 -22 11z"/><path class="m" d="M444.9 513l44.5-24.5 -37.6-45.4 -44.6 22.1z"/><path color="#8f0" d="M1835 712l18-1 -23 0 -18 1z"/><path color="#8f0" d="M1812 712l18-1 -23 0 -18 0z"/><path color="#8f0" d="M1853 711l17 1 -23 0 -17-1z"/><path color="#7f0" d="M1830 711l17 1 -22 0 -18-1z"/><path class="m" d="M1834.6 712.1l35.7-.6 -45.6 1 -35.6-1.4z"/><path color="#8f0" d="M1753 714l18-2 -23-1 -18 1z"/><path color="#8f0" d="M1730 712l18-1 -22-2 -18 1z"/><path color="#8f0" d="M1771 712l18-1 -22-1 -19 1z"/><path color="#7f0" d="M1748 711l19-1 -23-1 -18 0z"/><path class="m" d="M1752.7 713.5l36.4-2.4 -44.9-1.8 -36.4 .4z"/><path color="#8f0" d="M1671 714l18-3 -22-2 -18 2z"/><path color="#8f0" d="M1649 711l18-2 -22-3 -18 1z"/><path color="#8f0" d="M1689 711l19-1 -22-3 -19 2z"/><path color="#8f0" d="M1667 709l19-2 -22-2 -19 1z"/><path class="m" d="M1670.9 713.9l36.9-4.2 -44.2-4.7 -37 2.2z"/><path color="#9f0" d="M1589 713l19-3 -22-4 -19 3z"/><path color="#8f0" d="M1567 709l19-3 -22-5 -19 3z"/><path color="#8f0" d="M1608 710l19-3 -22-3 -19 2z"/><path color="#8f0" d="M1586 706l19-2 -22-4 -19 1z"/><path class="m" d="M1589.1 713.2l37.5-6 -43.6-7.6 -37.6 4z"/><path color="#9f0" d="M1507 711l19-4 -21-6 -19 4z"/><path color="#9f0" d="M1486 705l19-4 -22-5 -19 3z"/><path color="#9f0" d="M1526 707l19-3 -21-5 -19 2z"/><path color="#9f0" d="M1505 701l19-2 -22-6 -19 3z"/><path class="m" d="M1507.3 711.4l38.1-7.8 -43-10.4 -38.2 5.8z"/><path color="#fc0" d="M730 610l22-12 -20-18 -21 10z"/><path color="#fb0" d="M711 590l21-10 -19-19 -22 10z"/><path color="#fc0" d="M752 598l21-10 -19-18 -22 10z"/><path color="#fb0" d="M732 580l22-10 -19-18 -22 9z"/><path class="m" d="M730.1 609.5l43.1-21.5 -38.7-36.4 -43.1 19.3z"/><path color="#9f0" d="M1425 709l20-6 -21-7 -20 5z"/><path color="#9f0" d="M1404 701l20-5 -22-7 -19 4z"/><path color="#9f0" d="M1445 703l19-4 -21-7 -19 4z"/><path color="#9f0" d="M1424 696l19-4 -21-6 -20 3z"/><path class="m" d="M1425.5 708.6l38.7-9.6 -42.4-13.2 -38.8 7.5z"/><path color="#f30" d="M362 491l23-13 -19-25 -23 13z"/><path color="#f20" d="M343 466l23-13 -19-25 -22 13z"/><path color="#f30" d="M385 478l22-13 -19-24 -22 12z"/><path color="#f10" d="M366 453l22-12 -18-24 -23 11z"/><path class="m" d="M362.3 491.4l44.9-26.2 -37.4-48.3 -45 23.9z"/><path color="#af0" d="M1344 705l19-6 -21-9 -19 6z"/><path color="#af0" d="M1323 696l19-6 -21-9 -19 6z"/><path color="#af0" d="M1363 699l20-6 -21-8 -20 5z"/><path color="#af0" d="M1342 690l20-5 -21-8 -20 4z"/><path class="m" d="M1343.6 704.7l39.4-11.4 -41.9-16 -39.4 9.3z"/><path color="#af0" d="M1262 700l20-7 -21-10 -20 6z"/><path color="#bf0" d="M1241 689l20-6 -21-10 -20 6z"/><path color="#af0" d="M1282 693l20-6 -21-10 -20 6z"/><path color="#bf0" d="M1261 683l20-6 -21-9 -20 5z"/><path class="m" d="M1261.8 699.8l39.9-13.2 -41.4-18.8 -39.9 11z"/><path color="#fb0" d="M648 594l22-12 -20-20 -21 12z"/><path color="#fa0" d="M629 574l21-12 -19-20 -22 11z"/><path color="#fb0" d="M670 582l21-11 -19-20 -22 11z"/><path color="#f90" d="M650 562l22-11 -19-19 -22 10z"/><path class="m" d="M647.9 594.2l43.5-23.3 -38.3-39.2 -43.6 21z"/><path color="#bf0" d="M1180 694l20-8 -20-11 -21 7z"/><path color="#bf0" d="M1159 682l21-7 -21-12 -20 7z"/><path color="#bf0" d="M1200 686l20-7 -20-11 -20 7z"/><path color="#bf0" d="M1180 675l20-7 -21-11 -20 6z"/><path class="m" d="M1179.9 693.8l40.5-15 -41-21.6 -40.5 12.7z"/><path color="#cf0" d="M1098 687l21-9 -21-13 -20 8z"/><path color="#cf0" d="M1078 673l20-8 -20-13 -21 8z"/><path color="#cf0" d="M1119 678l20-8 -20-12 -21 7z"/><path color="#cf0" d="M1098 665l21-7 -21-13 -20 7z"/><path class="m" d="M1098 686.7l40.9-16.8 -40.5-24.4 -41 14.5z"/><path color="#fa0" d="M566 578l22-13 -20-22 -22 13z"/><path color="#f80" d="M546 556l22-13 -19-21 -22 11z"/><path color="#f90" d="M588 565l21-12 -19-21 -22 11z"/><path color="#f80" d="M568 543l22-11 -19-21 -22 11z"/><path class="m" d="M565.5 577.8l44-25.1 -38.1-42 -44.1 22.7z"/><path color="#df0" d="M1016 679l21-10 -20-14 -21 9z"/><path color="#df0" d="M996 664l21-9 -20-15 -21 9z"/><path color="#df0" d="M1037 669l20-9 -20-14 -20 9z"/><path color="#ef0" d="M1017 655l20-9 -20-13 -20 7z"/><path class="m" d="M1015.9 678.5l41.5-18.5 -40.1-27.3 -41.5 16.3z"/><path color="#ef0" d="M934 669l21-10 -20-16 -21 10z"/><path color="#ef0" d="M914 653l21-10 -20-16 -21 10z"/><path color="#ef0" d="M955 659l21-10 -20-15 -21 9z"/><path color="#ff0" d="M935 643l21-9 -20-15 -21 8z"/><path class="m" d="M933.8 669.3l42-20.3 -39.7-30.1 -42 18z"/><path color="#f80" d="M483 560l22-14 -19-23 -22 14z"/><path color="#f70" d="M464 537l22-14 -19-23 -22 13z"/><path color="#f80" d="M505 546l22-13 -19-22 -22 12z"/><path color="#f60" d="M486 523l22-12 -19-23 -22 12z"/><path class="m" d="M482.9 560.2l44.4-26.8 -37.9-44.9 -44.5 24.5z"/><path color="#ff0" d="M852 659l21-12 -20-17 -21 11z"/><path color="#ff0" d="M832 641l21-11 -19-17 -22 11z"/><path color="#ff0" d="M873 647l21-10 -20-16 -21 9z"/><path color="#fe0" d="M853 630l21-9 -19-17 -21 9z"/><path class="m" d="M851.6 659l42.5-22.1 -39.4-32.9 -42.5 19.8z"/><path color="#f70" d="M400 542l23-15 -19-25 -23 15z"/><path color="#f50" d="M381 517l23-15 -19-24 -23 13z"/><path color="#f60" d="M423 527l22-14 -19-24 -22 13z"/><path color="#f40" d="M404 502l22-13 -19-24 -22 13z"/><path class="m" d="M400.1 541.6l44.8-28.6 -37.7-47.8 -44.9 26.2z"/><path color="#fe0" d="M769 648l22-13 -20-18 -21 12z"/><path color="#fd0" d="M750 629l21-12 -19-19 -22 12z"/><path color="#fe0" d="M791 635l21-11 -19-18 -22 11z"/><path color="#fd0" d="M771 617l22-11 -20-18 -21 10z"/><path class="m" d="M769.2 647.6l43-23.8 -39-35.8 -43.1 21.5z"/><path color="#fd0" d="M687 635l21-13 -19-20 -22 13z"/><path color="#fc0" d="M667 615l22-13 -19-20 -22 12z"/><path color="#fd0" d="M708 622l22-12 -19-20 -22 12z"/><path color="#fc0" d="M689 602l22-12 -20-19 -21 11z"/><path class="m" d="M686.7 635.2l43.4-25.7 -38.7-38.6 -43.5 23.3z"/><path color="#9f0" d="M1716 720l18-4 -22-2 -19 3z"/><path color="#9f0" d="M1693 717l19-3 -23-3 -18 3z"/><path color="#9f0" d="M1734 716l19-2 -23-2 -18 2z"/><path color="#8f0" d="M1712 714l18-2 -22-2 -19 1z"/><path class="m" d="M1715.7 719.8l37-6.3 -44.9-3.8 -36.9 4.2z"/><path color="#9f0" d="M1633 722l19-5 -22-3 -19 4z"/><path color="#9f0" d="M1611 718l19-4 -22-4 -19 3z"/><path color="#9f0" d="M1652 717l19-3 -22-3 -19 3z"/><path color="#9f0" d="M1630 714l19-3 -22-4 -19 3z"/><path class="m" d="M1633.3 722l37.6-8.1 -44.3-6.7 -37.5 6z"/><path color="#9f0" d="M1798 717l19-3 -23-1 -19 2z"/><path color="#9f0" d="M1775 715l19-2 -23-1 -18 2z"/><path color="#9f0" d="M1817 714l18-2 -23 0 -18 1z"/><path color="#8f0" d="M1794 713l18-1 -23-1 -18 1z"/><path class="m" d="M1798.3 716.5l36.3-4.4 -45.5-1 -36.4 2.4z"/><path color="#9f0" d="M1551 723l19-5 -22-6 -19 5z"/><path color="#9f0" d="M1529 717l19-5 -22-5 -19 4z"/><path color="#9f0" d="M1570 718l19-5 -22-4 -19 3z"/><path color="#9f0" d="M1548 712l19-3 -22-5 -19 3z"/><path class="m" d="M1550.9 723.1l38.2-9.9 -43.7-9.6 -38.1 7.8z"/><path color="#9f0" d="M1468 723l20-6 -22-7 -19 6z"/><path color="#9f0" d="M1447 716l19-6 -21-7 -20 6z"/><path color="#9f0" d="M1488 717l19-6 -21-6 -20 5z"/><path color="#9f0" d="M1466 710l20-5 -22-6 -19 4z"/><path class="m" d="M1468.5 723.2l38.8-11.8 -43.1-12.4 -38.7 9.6z"/><path color="#9f0" d="M1386 722l20-7 -21-8 -20 7z"/><path color="#af0" d="M1365 714l20-7 -22-8 -19 6z"/><path color="#9f0" d="M1406 715l19-6 -21-8 -19 6z"/><path color="#af0" d="M1385 707l19-6 -21-8 -20 6z"/><path class="m" d="M1386.1 722.2l39.4-13.6 -42.5-15.3 -39.4 11.4z"/><path color="#fc0" d="M604 622l22-15 -19-21 -22 14z"/><path color="#fb0" d="M585 600l22-14 -19-21 -22 13z"/><path color="#fc0" d="M626 607l22-13 -19-20 -22 12z"/><path color="#fa0" d="M607 586l22-12 -20-21 -21 12z"/><path class="m" d="M604.1 621.6l43.8-27.4 -38.4-41.5 -44 25.1z"/><path color="#af0" d="M1304 720l20-8 -21-10 -20 8z"/><path color="#af0" d="M1283 710l20-8 -21-9 -20 7z"/><path color="#af0" d="M1324 712l20-7 -21-9 -20 6z"/><path color="#af0" d="M1303 702l20-6 -21-9 -20 6z"/><path class="m" d="M1303.7 720.1l39.9-15.4 -41.9-18.1 -39.9 13.2z"/><path color="#af0" d="M1221 717l21-9 -21-11 -20 8z"/><path color="#bf0" d="M1201 705l20-8 -21-11 -20 8z"/><path color="#af0" d="M1242 708l20-8 -21-11 -20 8z"/><path color="#bf0" d="M1221 697l20-8 -21-10 -20 7z"/><path class="m" d="M1221.4 717l40.4-17.2 -41.4-21 -40.5 15z"/><path color="#bf0" d="M1139 713l20-10 -20-13 -21 10z"/><path color="#bf0" d="M1118 700l21-10 -20-12 -21 9z"/><path color="#bf0" d="M1159 703l21-9 -21-12 -20 8z"/><path color="#bf0" d="M1139 690l20-8 -20-12 -20 8z"/><path class="m" d="M1138.9 712.8l41-19 -41-23.9 -40.9 16.8z"/><path color="#fb0" d="M521 607l22-15 -19-23 -22 15z"/><path color="#f90" d="M502 584l22-15 -19-23 -22 14z"/><path color="#fa0" d="M543 592l23-14 -20-22 -22 13z"/><path color="#f90" d="M524 569l22-13 -19-23 -22 13z"/><path class="m" d="M521.2 607l44.3-29.2 -38.2-44.4 -44.4 26.8z"/><path color="#bf0" d="M1056 707l21-10 -20-14 -21 10z"/><path color="#cf0" d="M1036 693l21-10 -20-14 -21 10z"/><path color="#bf0" d="M1077 697l21-10 -20-14 -21 10z"/><path color="#cf0" d="M1057 683l21-10 -21-13 -20 9z"/><path class="m" d="M1056.5 707.5l41.5-20.8 -40.6-26.7 -41.5 18.5z"/><path color="#cf0" d="M974 701l21-12 -20-15 -21 11z"/><path color="#df0" d="M954 685l21-11 -20-15 -21 10z"/><path color="#cf0" d="M995 689l21-10 -20-15 -21 10z"/><path color="#df0" d="M975 674l21-10 -20-15 -21 10z"/><path class="m" d="M974 701.1l41.9-22.6 -40.1-29.5 -42 20.3z"/><path color="#f90" d="M438 591l23-16 -19-24 -23 15z"/><path color="#f80" d="M419 566l23-15 -19-24 -23 15z"/><path color="#f90" d="M461 575l22-15 -19-23 -22 14z"/><path color="#f70" d="M442 551l22-14 -19-24 -22 14z"/><path class="m" d="M438.2 591.2l44.7-31 -38-47.2 -44.8 28.6z"/><path color="#df0" d="M891 694l22-13 -20-17 -22 12z"/><path color="#ef0" d="M871 676l22-12 -20-17 -21 12z"/><path color="#df0" d="M913 681l21-12 -20-16 -21 11z"/><path color="#ef0" d="M893 664l21-11 -20-16 -21 10z"/><path class="m" d="M891.4 693.7l42.4-24.4 -39.7-32.4 -42.5 22.1z"/><path color="#df0" d="M809 685l21-13 -20-19 -21 13z"/><path color="#ff0" d="M789 666l21-13 -19-18 -22 13z"/><path color="#ef0" d="M830 672l22-13 -20-18 -22 12z"/><path color="#ff0" d="M810 653l22-12 -20-17 -21 11z"/><path class="m" d="M808.7 685.2l42.9-26.2 -39.4-35.2 -43 23.8z"/><path color="#ef0" d="M726 676l22-15 -20-19 -22 13z"/><path color="#fe0" d="M706 655l22-13 -20-20 -21 13z"/><path color="#ff0" d="M748 661l21-13 -19-19 -22 13z"/><path color="#fe0" d="M728 642l22-13 -20-19 -22 12z"/><path class="m" d="M725.8 675.6l43.4-28 -39.1-38.1 -43.4 25.7z"/><path color="#ff0" d="M643 665l22-15 -20-21 -22 14z"/><path color="#fd0" d="M623 643l22-14 -19-22 -22 15z"/><path color="#fe0" d="M665 650l22-15 -20-20 -22 14z"/><path color="#fd0" d="M645 629l22-14 -19-21 -22 13z"/><path class="m" d="M642.9 664.9l43.8-29.7 -38.8-41 -43.8 27.4z"/><path color="#fe0" d="M560 653l22-16 -19-23 -23 16z"/><path color="#fc0" d="M540 630l23-16 -20-22 -22 15z"/><path color="#fd0" d="M582 637l22-15 -19-22 -22 14z"/><path color="#fb0" d="M563 614l22-14 -19-22 -23 14z"/><path class="m" d="M559.8 653.2l44.3-31.6 -38.6-43.8 -44.3 29.2z"/><path color="#9f0" d="M1512 737l20-7 -22-7 -20 7z"/><path color="#9f0" d="M1490 730l20-7 -22-6 -20 6z"/><path color="#9f0" d="M1532 730l19-7 -22-6 -19 6z"/><path color="#9f0" d="M1510 723l19-6 -22-6 -19 6z"/><path class="m" d="M1512.1 737l38.8-13.9 -43.6-11.7 -38.8 11.8z"/><path color="#9f0" d="M1429 739l20-8 -22-8 -19 8z"/><path color="#9f0" d="M1408 731l19-8 -21-8 -20 7z"/><path color="#9f0" d="M1449 731l19-8 -21-7 -20 7z"/><path color="#9f0" d="M1427 723l20-7 -22-7 -19 6z"/><path class="m" d="M1429.1 738.9l39.4-15.7 -43-14.6 -39.4 13.6z"/><path color="#9f0" d="M1595 734l19-6 -22-5 -19 6z"/><path color="#9f0" d="M1573 729l19-6 -22-5 -19 5z"/><path color="#9f0" d="M1614 728l19-6 -22-4 -19 5z"/><path color="#9f0" d="M1592 723l19-5 -22-5 -19 5z"/><path class="m" d="M1595.1 734l38.2-12 -44.2-8.8 -38.2 9.9z"/><path color="#9f0" d="M1346 740l20-10 -21-9 -20 9z"/><path color="#9f0" d="M1325 730l20-9 -21-9 -20 8z"/><path color="#9f0" d="M1366 730l20-8 -21-8 -20 7z"/><path color="#af0" d="M1345 721l20-7 -21-9 -20 7z"/><path class="m" d="M1346.2 739.7l39.9-17.5 -42.5-17.5 -39.9 15.4z"/><path color="#af0" d="M1678 730l19-6 -22-3 -19 5z"/><path color="#9f0" d="M1656 726l19-5 -23-4 -19 5z"/><path color="#9f0" d="M1697 724l19-4 -23-3 -18 4z"/><path color="#9f0" d="M1675 721l18-4 -22-3 -19 3z"/><path class="m" d="M1678.1 730l37.6-10.2 -44.8-5.9 -37.6 8.1z"/><path color="#fc0" d="M477 640l22-17 -19-24 -23 17z"/><path color="#fb0" d="M457 616l23-17 -19-24 -23 16z"/><path color="#fc0" d="M499 623l22-16 -19-23 -22 15z"/><path color="#fa0" d="M480 599l22-15 -19-24 -22 15z"/><path class="m" d="M476.6 640.3l44.6-33.3 -38.3-46.8 -44.7 31z"/><path color="#9f0" d="M1263 740l21-11 -21-10 -21 9z"/><path color="#af0" d="M1242 728l21-9 -21-11 -21 9z"/><path color="#9f0" d="M1284 729l20-9 -21-10 -20 9z"/><path color="#af0" d="M1263 719l20-9 -21-10 -20 8z"/><path class="m" d="M1263.3 739.5l40.4-19.4 -41.9-20.3 -40.4 17.2z"/><path color="#af0" d="M1761 725l19-5 -23-2 -19 4z"/><path color="#af0" d="M1738 722l19-4 -23-2 -18 4z"/><path color="#af0" d="M1780 720l18-3 -23-2 -18 3z"/><path color="#9f0" d="M1757 718l18-3 -22-1 -19 2z"/><path class="m" d="M1761.3 724.8l37-8.3 -45.6-3 -37 6.3z"/><path color="#9f0" d="M1180 738l21-11 -21-12 -20 11z"/><path color="#af0" d="M1160 726l20-11 -21-12 -20 10z"/><path color="#af0" d="M1201 727l20-10 -20-12 -21 10z"/><path color="#af0" d="M1180 715l21-10 -21-11 -21 9z"/><path class="m" d="M1180.4 738.2l41-21.2 -41.5-23.2 -41 19z"/><path color="#af0" d="M1097 736l21-12 -20-14 -21 12z"/><path color="#af0" d="M1077 722l21-12 -21-13 -21 10z"/><path color="#af0" d="M1118 724l21-11 -21-13 -20 10z"/><path color="#bf0" d="M1098 710l20-10 -20-13 -21 10z"/><path class="m" d="M1097.5 735.8l41.4-23 -40.9-26.1 -41.5 20.8z"/><path color="#af0" d="M1015 732l21-13 -21-15 -21 13z"/><path color="#bf0" d="M994 717l21-13 -20-15 -21 12z"/><path color="#bf0" d="M1036 719l20-12 -20-14 -21 11z"/><path color="#bf0" d="M1015 704l21-11 -20-14 -21 10z"/><path class="m" d="M1014.5 732.3l42-24.8 -40.6-29 -41.9 22.6z"/><path color="#bf0" d="M932 728l21-14 -20-16 -22 13z"/><path color="#cf0" d="M911 711l22-13 -20-17 -22 13z"/><path color="#bf0" d="M953 714l21-13 -20-16 -21 13z"/><path color="#cf0" d="M933 698l21-13 -20-16 -21 12z"/><path class="m" d="M931.5 727.8l42.5-26.7 -40.2-31.8 -42.4 24.4z"/><path color="#bf0" d="M848 722l22-15 -20-17 -21 14z"/><path color="#cf0" d="M829 704l21-14 -20-18 -21 13z"/><path color="#cf0" d="M870 707l21-13 -20-18 -21 14z"/><path color="#df0" d="M850 690l21-14 -19-17 -22 13z"/><path class="m" d="M848.5 722.2l42.9-28.5 -39.8-34.7 -42.9 26.2z"/><path color="#cf0" d="M765 716l22-16 -20-19 -21 15z"/><path color="#df0" d="M746 696l21-15 -19-20 -22 15z"/><path color="#df0" d="M787 700l22-15 -20-19 -22 15z"/><path color="#ef0" d="M767 681l22-15 -20-18 -21 13z"/><path class="m" d="M765.3 715.5l43.4-30.3 -39.5-37.6 -43.4 28z"/><path color="#df0" d="M682 708l22-17 -20-21 -22 16z"/><path color="#ef0" d="M662 686l22-16 -19-20 -22 15z"/><path color="#ef0" d="M704 691l22-15 -20-21 -22 15z"/><path color="#ff0" d="M684 670l22-15 -19-20 -22 15z"/><path class="m" d="M682.1 707.7l43.7-32.1 -39.1-40.4 -43.8 29.7z"/><path color="#ef0" d="M599 699l22-18 -20-22 -22 17z"/><path color="#ff0" d="M579 676l22-17 -19-22 -22 16z"/><path color="#ff0" d="M621 681l22-16 -20-22 -22 16z"/><path color="#fe0" d="M601 659l22-16 -19-21 -22 15z"/><path class="m" d="M598.7 698.9l44.2-34 -38.8-43.3 -44.3 31.6z"/><path color="#ff0" d="M515 689l23-18 -20-24 -22 18z"/><path color="#fe0" d="M496 665l22-18 -19-24 -22 17z"/><path color="#fe0" d="M538 671l22-18 -20-23 -22 17z"/><path color="#fd0" d="M518 647l22-17 -19-23 -22 16z"/><path class="m" d="M515.3 688.9l44.5-35.7 -38.6-46.2 -44.6 33.3z"/><path color="#9f0" d="M1306 761l20-11 -21-10 -21 11z"/><path color="#9f0" d="M1284 751l21-11 -21-11 -21 11z"/><path color="#9f0" d="M1326 750l20-10 -21-10 -20 10z"/><path color="#9f0" d="M1305 740l20-10 -21-10 -20 9z"/><path class="m" d="M1305.8 761.4l40.4-21.7 -42.5-19.6 -40.4 19.4z"/><path color="#9f0" d="M1389 759l20-11 -21-9 -20 10z"/><path color="#9f0" d="M1368 749l20-10 -22-9 -20 10z"/><path color="#9f0" d="M1409 748l20-9 -21-8 -20 8z"/><path color="#9f0" d="M1388 739l20-8 -22-9 -20 8z"/><path class="m" d="M1389.2 758.7l39.9-19.8 -43-16.7 -39.9 17.5z"/><path color="#8f0" d="M1222 763l21-12 -21-12 -21 12z"/><path color="#9f0" d="M1201 751l21-12 -21-12 -21 11z"/><path color="#9f0" d="M1243 751l20-11 -21-12 -20 11z"/><path color="#9f0" d="M1222 739l20-11 -21-11 -20 10z"/><path class="m" d="M1222.3 763l41-23.5 -41.9-22.5 -41 21.2z"/><path color="#9f0" d="M1473 755l19-10 -21-7 -20 9z"/><path color="#9f0" d="M1451 747l20-9 -22-7 -20 8z"/><path color="#9f0" d="M1492 745l20-8 -22-7 -19 8z"/><path color="#9f0" d="M1471 738l19-8 -22-7 -19 8z"/><path class="m" d="M1472.7 754.9l39.4-17.9 -43.6-13.8 -39.4 15.7z"/><path color="#9f0" d="M1139 764l21-14 -21-13 -21 13z"/><path color="#9f0" d="M1118 750l21-13 -21-13 -21 12z"/><path color="#9f0" d="M1160 750l20-12 -20-12 -21 11z"/><path color="#af0" d="M1139 737l21-11 -21-13 -21 11z"/><path class="m" d="M1138.9 763.5l41.5-25.3 -41.5-25.4 -41.4 23z"/><path color="#9f0" d="M1556 750l20-8 -22-6 -20 8z"/><path color="#9f0" d="M1534 744l20-8 -22-6 -20 7z"/><path color="#9f0" d="M1576 742l19-8 -22-5 -19 7z"/><path color="#9f0" d="M1554 736l19-7 -22-6 -19 7z"/><path class="m" d="M1556.3 750.1l38.8-16.1 -44.2-10.9 -38.8 13.9z"/><path color="#9f0" d="M1056 763l21-14 -21-15 -21 14z"/><path color="#9f0" d="M1035 748l21-14 -20-15 -21 13z"/><path color="#9f0" d="M1077 749l20-13 -20-14 -21 12z"/><path color="#af0" d="M1056 734l21-12 -21-15 -20 12z"/><path class="m" d="M1055.5 763l42-27.2 -41-28.3 -42 24.8z"/><path color="#af0" d="M1640 744l19-7 -22-5 -20 7z"/><path color="#9f0" d="M1617 739l20-7 -23-4 -19 6z"/><path color="#af0" d="M1659 737l19-7 -22-4 -19 6z"/><path color="#9f0" d="M1637 732l19-6 -23-4 -19 6z"/><path class="m" d="M1639.9 744.2l38.2-14.2 -44.8-8 -38.2 12z"/><path color="#9f0" d="M972 761l21-15 -20-16 -21 15z"/><path color="#af0" d="M952 745l21-15 -20-16 -21 14z"/><path color="#af0" d="M993 746l22-14 -21-15 -21 13z"/><path color="#af0" d="M973 730l21-13 -20-16 -21 13z"/><path class="m" d="M972.1 761.4l42.4-29.1 -40.5-31.2 -42.5 26.7z"/><path color="#af0" d="M1724 737l19-7 -23-2 -19 6z"/><path color="#af0" d="M1701 734l19-6 -23-4 -19 6z"/><path color="#af0" d="M1743 730l18-5 -23-3 -18 6z"/><path color="#af0" d="M1720 728l18-6 -22-2 -19 4z"/><path class="m" d="M1723.6 737.1l37.7-12.3 -45.6-5 -37.6 10.2z"/><path color="#9f0" d="M889 759l21-16 -20-18 -21 16z"/><path color="#af0" d="M869 741l21-16 -20-18 -22 15z"/><path color="#af0" d="M910 743l22-15 -21-17 -21 14z"/><path color="#bf0" d="M890 725l21-14 -20-17 -21 13z"/><path class="m" d="M888.7 758.7l42.8-30.9 -40.1-34.1 -42.9 28.5z"/><path color="#af0" d="M805 755l22-17 -20-19 -22 16z"/><path color="#bf0" d="M785 735l22-16 -20-19 -22 16z"/><path color="#bf0" d="M827 738l21-16 -19-18 -22 15z"/><path color="#cf0" d="M807 719l22-15 -20-19 -22 15z"/><path class="m" d="M805.2 754.9l43.3-32.7 -39.8-37 -43.4 30.3z"/><path color="#af0" d="M722 750l22-18 -20-20 -22 17z"/><path color="#cf0" d="M702 729l22-17 -20-21 -22 17z"/><path color="#bf0" d="M744 732l21-16 -19-20 -22 16z"/><path color="#cf0" d="M724 712l22-16 -20-20 -22 15z"/><path class="m" d="M721.6 750l43.7-34.5 -39.5-39.9 -43.7 32.1z"/><path color="#bf0" d="M638 744l22-19 -20-22 -22 19z"/><path color="#cf0" d="M618 722l22-19 -19-22 -22 18z"/><path color="#cf0" d="M660 725l22-17 -20-22 -22 17z"/><path color="#df0" d="M640 703l22-17 -19-21 -22 16z"/><path class="m" d="M638 744.1l44.1-36.4 -39.2-42.8 -44.2 34z"/><path color="#cf0" d="M554 737l23-20 -20-23 -22 19z"/><path color="#df0" d="M535 713l22-19 -19-23 -23 18z"/><path color="#df0" d="M577 717l22-18 -20-23 -22 18z"/><path color="#ef0" d="M557 694l22-18 -19-23 -22 18z"/><path class="m" d="M554.3 737.1l44.4-38.2 -38.9-45.7 -44.5 35.7z"/><path color="#7f0" d="M1181 791l21-15 -21-13 -21 14z"/><path color="#8f0" d="M1160 777l21-14 -21-13 -21 14z"/><path color="#8f0" d="M1202 776l20-13 -21-12 -20 12z"/><path color="#8f0" d="M1181 763l20-12 -21-13 -20 12z"/><path class="m" d="M1180.9 790.6l41.4-27.6 -41.9-24.8 -41.5 25.3z"/><path color="#7f0" d="M1097 793l21-15 -21-15 -21 15z"/><path color="#8f0" d="M1076 778l21-15 -20-14 -21 14z"/><path color="#8f0" d="M1118 778l21-14 -21-14 -21 13z"/><path color="#9f0" d="M1097 763l21-13 -21-14 -20 13z"/><path class="m" d="M1097 793l41.9-29.5 -41.4-27.7 -42 27.2z"/><path color="#8f0" d="M1265 787l20-13 -21-12 -21 13z"/><path color="#8f0" d="M1243 775l21-13 -21-11 -21 12z"/><path color="#8f0" d="M1285 774l21-13 -22-10 -20 11z"/><path color="#8f0" d="M1264 762l20-11 -21-11 -20 11z"/><path class="m" d="M1264.8 787.1l41-25.7 -42.5-21.9 -41 23.5z"/><path color="#7f0" d="M1013 794l21-16 -20-16 -21 16z"/><path color="#8f0" d="M993 778l21-16 -21-16 -21 15z"/><path color="#8f0" d="M1034 778l22-15 -21-15 -21 14z"/><path color="#9f0" d="M1014 762l21-14 -20-16 -22 14z"/><path class="m" d="M1013.2 794.3l42.3-31.3 -41-30.7 -42.4 29.1z"/><path color="#8f0" d="M1349 783l20-13 -22-10 -20 12z"/><path color="#8f0" d="M1327 772l20-12 -21-10 -20 11z"/><path color="#8f0" d="M1369 770l20-11 -21-10 -21 11z"/><path color="#9f0" d="M1347 760l21-11 -22-9 -20 10z"/><path class="m" d="M1348.7 782.6l40.5-23.9 -43-19 -40.4 21.7z"/><path color="#7f0" d="M929 795l22-18 -21-17 -21 17z"/><path color="#8f0" d="M909 777l21-17 -20-17 -21 16z"/><path color="#8f0" d="M951 777l21-16 -20-16 -22 15z"/><path color="#9f0" d="M930 760l22-15 -20-17 -22 15z"/><path class="m" d="M929.3 794.6l42.8-33.2 -40.6-33.6 -42.8 30.9z"/><path color="#8f0" d="M1433 777l20-12 -22-8 -20 11z"/><path color="#8f0" d="M1411 768l20-11 -22-9 -20 11z"/><path color="#9f0" d="M1453 765l20-10 -22-8 -20 10z"/><path color="#9f0" d="M1431 757l20-10 -22-8 -20 9z"/><path class="m" d="M1432.8 776.9l39.9-22 -43.6-16 -39.9 19.8z"/><path color="#7f0" d="M845 794l22-18 -20-19 -22 17z"/><path color="#9f0" d="M825 774l22-17 -20-19 -22 17z"/><path color="#8f0" d="M867 776l22-17 -20-18 -22 16z"/><path color="#9f0" d="M847 757l22-16 -21-19 -21 16z"/><path class="m" d="M845.4 793.7l43.3-35 -40.2-36.5 -43.3 32.7z"/><path color="#9f0" d="M1517 770l20-10 -23-7 -19 10z"/><path color="#9f0" d="M1495 763l19-10 -22-8 -19 10z"/><path color="#9f0" d="M1537 760l19-10 -22-6 -20 9z"/><path color="#9f0" d="M1514 753l20-9 -22-7 -20 8z"/><path class="m" d="M1516.8 770.2l39.5-20.1 -44.2-13.1 -39.4 17.9z"/><path color="#8f0" d="M762 792l21-19 -20-20 -21 18z"/><path color="#9f0" d="M742 771l21-18 -19-21 -22 18z"/><path color="#9f0" d="M783 773l22-18 -20-20 -22 18z"/><path color="#af0" d="M763 753l22-18 -20-19 -21 16z"/><path class="m" d="M761.5 791.8l43.7-36.9 -39.9-39.4 -43.7 34.5z"/><path color="#9f0" d="M1601 762l20-9 -23-6 -19 9z"/><path color="#9f0" d="M1579 756l19-9 -22-5 -20 8z"/><path color="#af0" d="M1621 753l19-9 -23-5 -19 8z"/><path color="#9f0" d="M1598 747l19-8 -22-5 -19 8z"/><path class="m" d="M1601 762.4l38.9-18.2 -44.8-10.2 -38.8 16.1z"/><path color="#8f0" d="M678 789l22-20 -20-22 -22 19z"/><path color="#af0" d="M658 766l22-19 -20-22 -22 19z"/><path color="#9f0" d="M700 769l22-19 -20-21 -22 18z"/><path color="#bf0" d="M680 747l22-18 -20-21 -22 17z"/><path class="m" d="M677.6 788.8l44-38.8 -39.5-42.3 -44.1 36.4z"/><path color="#af0" d="M1685 753l20-8 -23-4 -19 8z"/><path color="#af0" d="M1663 749l19-8 -23-4 -19 7z"/><path color="#af0" d="M1705 745l19-8 -23-3 -19 7z"/><path color="#af0" d="M1682 741l19-7 -23-4 -19 7z"/><path class="m" d="M1685.4 753.5l38.2-16.4 -45.5-7.1 -38.2 14.2z"/><path color="#9f0" d="M594 785l22-21 -20-23 -22 20z"/><path color="#af0" d="M574 761l22-20 -19-24 -23 20z"/><path color="#af0" d="M616 764l22-20 -20-22 -22 19z"/><path color="#bf0" d="M596 741l22-19 -19-23 -22 18z"/><path class="m" d="M593.6 784.7l44.4-40.6 -39.3-45.2 -44.4 38.2z"/><path color="#5f0" d="M970 830l22-18 -21-17 -21 17z"/><path color="#6f0" d="M950 812l21-17 -20-18 -22 18z"/><path color="#6f0" d="M992 812l21-18 -20-16 -22 17z"/><path color="#7f0" d="M971 795l22-17 -21-17 -21 16z"/><path class="m" d="M970.3 829.9l42.9-35.6 -41.1-32.9 -42.8 33.2z"/><path color="#5f0" d="M886 832l22-19 -21-19 -21 19z"/><path color="#6f0" d="M866 813l21-19 -20-18 -22 18z"/><path color="#6f0" d="M908 813l21-18 -20-18 -22 17z"/><path color="#7f0" d="M887 794l22-17 -20-18 -22 17z"/><path class="m" d="M886.1 832l43.2-37.4 -40.6-35.9 -43.3 35z"/><path color="#6f0" d="M1055 827l21-18 -21-15 -21 17z"/><path color="#6f0" d="M1034 811l21-17 -21-16 -21 16z"/><path color="#6f0" d="M1076 809l21-16 -21-15 -21 16z"/><path color="#7f0" d="M1055 794l21-16 -20-15 -22 15z"/><path class="m" d="M1054.6 826.7l42.4-33.7 -41.5-30 -42.3 31.3z"/><path color="#5f0" d="M802 833l22-20 -21-20 -21 19z"/><path color="#7f0" d="M782 812l21-19 -20-20 -21 19z"/><path color="#6f0" d="M824 813l21-19 -20-20 -22 19z"/><path color="#8f0" d="M803 793l22-19 -20-19 -22 18z"/><path class="m" d="M801.8 833l43.6-39.3 -40.2-38.8 -43.7 36.9z"/><path color="#6f0" d="M1139 822l21-16 -21-14 -21 16z"/><path color="#7f0" d="M1118 808l21-16 -21-14 -21 15z"/><path color="#7f0" d="M1160 806l21-15 -21-14 -21 15z"/><path color="#7f0" d="M1139 792l21-15 -21-13 -21 14z"/><path class="m" d="M1138.9 822.5l42-31.9 -42-27.1 -41.9 29.5z"/><path color="#5f0" d="M718 833l22-21 -20-22 -23 21z"/><path color="#7f0" d="M697 811l23-21 -20-21 -22 20z"/><path color="#7f0" d="M740 812l22-20 -20-21 -22 19z"/><path color="#8f0" d="M720 790l22-19 -20-21 -22 19z"/><path class="m" d="M717.5 832.9l44-41.1 -39.9-41.8 -44 38.8z"/><path color="#6f0" d="M1223 817l21-15 -21-13 -21 15z"/><path color="#7f0" d="M1202 804l21-15 -21-13 -21 15z"/><path color="#7f0" d="M1244 802l21-15 -22-12 -20 14z"/><path color="#7f0" d="M1223 789l20-14 -21-12 -20 13z"/><path class="m" d="M1223.3 817.1l41.5-30 -42.5-24.1 -41.4 27.6z"/><path color="#6f0" d="M633 832l22-22 -19-23 -23 21z"/><path color="#7f0" d="M613 808l23-21 -20-23 -22 21z"/><path color="#7f0" d="M655 810l23-21 -20-23 -22 21z"/><path color="#8f0" d="M636 787l22-21 -20-22 -22 20z"/><path class="m" d="M633.2 831.8l44.4-43 -39.6-44.7 -44.4 40.6z"/><path color="#7f0" d="M1308 811l20-15 -21-11 -21 14z"/><path color="#7f0" d="M1286 799l21-14 -22-11 -20 13z"/><path color="#7f0" d="M1328 796l21-13 -22-11 -20 13z"/><path color="#8f0" d="M1307 785l20-13 -21-11 -21 13z"/><path class="m" d="M1307.7 810.7l41-28.1 -42.9-21.2 -41 25.7z"/><path color="#7f0" d="M1392 803l21-13 -22-10 -21 13z"/><path color="#8f0" d="M1370 793l21-13 -22-10 -20 13z"/><path color="#8f0" d="M1413 790l20-13 -22-9 -20 12z"/><path color="#8f0" d="M1391 780l20-12 -22-9 -20 11z"/><path class="m" d="M1392.3 803.1l40.5-26.2 -43.6-18.2 -40.5 23.9z"/><path color="#8f0" d="M1477 794l20-12 -22-8 -20 12z"/><path color="#8f0" d="M1455 786l20-12 -22-9 -20 12z"/><path color="#8f0" d="M1497 782l20-12 -22-7 -20 11z"/><path color="#8f0" d="M1475 774l20-11 -22-8 -20 10z"/><path class="m" d="M1476.9 794.5l39.9-24.3 -44.1-15.3 -39.9 22z"/><path color="#9f0" d="M1562 785l19-12 -22-7 -20 12z"/><path color="#9f0" d="M1539 778l20-12 -22-6 -20 10z"/><path color="#9f0" d="M1581 773l20-11 -22-6 -20 10z"/><path color="#9f0" d="M1559 766l20-10 -23-6 -19 10z"/><path class="m" d="M1561.6 784.8l39.4-22.4 -44.7-12.3 -39.5 20.1z"/><path color="#af0" d="M1646 774l20-11 -23-5 -19 10z"/><path color="#9f0" d="M1624 768l19-10 -22-5 -20 9z"/><path color="#af0" d="M1666 763l19-10 -22-4 -20 9z"/><path color="#af0" d="M1643 758l20-9 -23-5 -19 9z"/><path class="m" d="M1646.5 773.9l38.9-20.4 -45.5-9.3 -38.9 18.2z"/><path color="#3f0" d="M758 877l22-23 -20-21 -22 22z"/><path color="#4f0" d="M738 855l22-22 -20-21 -22 21z"/><path color="#4f0" d="M780 854l22-21 -20-21 -22 21z"/><path color="#5f0" d="M760 833l22-21 -20-20 -22 20z"/><path class="m" d="M757.8 876.6l44-43.6 -40.3-41.2 -44 41.1z"/><path color="#3f0" d="M842 874l22-22 -20-19 -22 20z"/><path color="#4f0" d="M822 853l22-20 -20-20 -22 20z"/><path color="#4f0" d="M864 852l22-20 -20-19 -22 20z"/><path color="#5f0" d="M844 833l22-20 -21-19 -21 19z"/><path class="m" d="M842.4 873.7l43.7-41.7 -40.7-38.3 -43.6 39.3z"/><path color="#3f0" d="M673 878l22-23 -20-23 -22 23z"/><path color="#4f0" d="M653 855l22-23 -20-22 -22 22z"/><path color="#4f0" d="M695 855l23-22 -21-22 -22 21z"/><path color="#6f0" d="M675 832l22-21 -19-22 -23 21z"/><path class="m" d="M673.2 878.4l44.3-45.5 -39.9-44.1 -44.4 43z"/><path color="#3f0" d="M927 870l22-21 -21-18 -21 20z"/><path color="#4f0" d="M907 851l21-20 -20-18 -22 19z"/><path color="#4f0" d="M949 849l21-19 -20-18 -22 19z"/><path color="#5f0" d="M928 831l22-19 -21-17 -21 18z"/><path class="m" d="M927.1 869.7l43.2-39.8 -41-35.3 -43.2 37.4z"/><path color="#4f0" d="M1012 865l21-20 -21-17 -21 19z"/><path color="#5f0" d="M991 847l21-19 -20-16 -22 18z"/><path color="#5f0" d="M1033 845l22-18 -21-16 -22 17z"/><path color="#6f0" d="M1012 828l22-17 -21-17 -21 18z"/><path class="m" d="M1011.8 864.7l42.8-38 -41.4-32.4 -42.9 35.6z"/><path color="#4f0" d="M1097 859l21-19 -21-15 -21 18z"/><path color="#5f0" d="M1076 843l21-18 -21-16 -21 18z"/><path color="#5f0" d="M1118 840l21-18 -21-14 -21 17z"/><path color="#6f0" d="M1097 825l21-17 -21-15 -21 16z"/><path class="m" d="M1096.5 858.5l42.4-36 -41.9-29.5 -42.4 33.7z"/><path color="#5f0" d="M1181 851l21-17 -21-14 -21 17z"/><path color="#5f0" d="M1160 837l21-17 -21-14 -21 16z"/><path color="#5f0" d="M1202 834l21-17 -21-13 -21 16z"/><path color="#6f0" d="M1181 820l21-16 -21-13 -21 15z"/><path class="m" d="M1181.4 851.3l41.9-34.2 -42.4-26.5 -42 31.9z"/><path color="#5f0" d="M1266 843l21-17 -21-12 -21 16z"/><path color="#6f0" d="M1245 830l21-16 -22-12 -21 15z"/><path color="#6f0" d="M1287 826l21-15 -22-12 -20 15z"/><path color="#6f0" d="M1266 814l20-15 -21-12 -21 15z"/><path class="m" d="M1266.2 842.9l41.5-32.2 -42.9-23.6 -41.5 30z"/><path color="#6f0" d="M1351 834l21-16 -22-11 -21 15z"/><path color="#6f0" d="M1329 822l21-15 -22-11 -20 15z"/><path color="#7f0" d="M1372 818l20-15 -22-10 -20 14z"/><path color="#7f0" d="M1350 807l20-14 -21-10 -21 13z"/><path class="m" d="M1351.2 833.5l41.1-30.4 -43.6-20.5 -41 28.1z"/><path color="#7f0" d="M1436 823l21-15 -22-9 -21 14z"/><path color="#7f0" d="M1414 813l21-14 -22-9 -21 13z"/><path color="#7f0" d="M1457 808l20-14 -22-8 -20 13z"/><path color="#8f0" d="M1435 799l20-13 -22-9 -20 13z"/><path class="m" d="M1436.3 823l40.6-28.5 -44.1-17.6 -40.5 26.2z"/><path color="#8f0" d="M1522 811l20-13 -23-8 -20 13z"/><path color="#8f0" d="M1499 803l20-13 -22-8 -20 12z"/><path color="#8f0" d="M1542 798l20-13 -23-7 -20 12z"/><path color="#8f0" d="M1519 790l20-12 -22-8 -20 12z"/><path class="m" d="M1521.6 811.3l40-26.5 -44.8-14.6 -39.9 24.3z"/><path color="#9f0" d="M1607 799l20-13 -23-7 -20 13z"/><path color="#9f0" d="M1584 792l20-13 -23-6 -19 12z"/><path color="#9f0" d="M1627 786l19-12 -22-6 -20 11z"/><path color="#9f0" d="M1604 779l20-11 -23-6 -20 11z"/><path class="m" d="M1607 798.5l39.5-24.6 -45.5-11.5 -39.4 22.4z"/><path color="#0f0" d="M713 924l23-24 -21-22 -22 23z"/><path color="#1f0" d="M693 901l22-23 -20-23 -22 23z"/><path color="#2f0" d="M736 900l22-23 -20-22 -23 23z"/><path color="#3f0" d="M715 878l23-23 -20-22 -23 22z"/><path class="m" d="M713.5 924.5l44.3-47.9 -40.3-43.7 -44.3 45.5z"/><path color="#0f0" d="M798 920l23-24 -21-21 -22 23z"/><path color="#2f0" d="M778 898l22-23 -20-21 -22 23z"/><path color="#2f0" d="M821 896l21-22 -20-21 -22 22z"/><path color="#3f0" d="M800 875l22-22 -20-20 -22 21z"/><path class="m" d="M798.5 919.7l43.9-46 -40.6-40.7 -44 43.6z"/><path color="#1f0" d="M884 914l21-23 -20-19 -22 22z"/><path color="#2f0" d="M863 894l22-22 -21-20 -22 22z"/><path color="#2f0" d="M905 891l22-21 -20-19 -22 21z"/><path color="#3f0" d="M885 872l22-21 -21-19 -22 20z"/><path class="m" d="M883.5 913.9l43.6-44.2 -41-37.7 -43.7 41.7z"/><path color="#1f0" d="M969 907l21-22 -21-18 -21 21z"/><path color="#2f0" d="M948 888l21-21 -20-18 -22 21z"/><path color="#3f0" d="M990 885l22-20 -21-18 -22 20z"/><path color="#3f0" d="M969 867l22-20 -21-17 -21 19z"/><path class="m" d="M968.6 906.9l43.2-42.2 -41.5-34.8 -43.2 39.8z"/><path color="#2f0" d="M1054 899l21-21 -21-16 -21 20z"/><path color="#3f0" d="M1033 882l21-20 -21-17 -21 20z"/><path color="#3f0" d="M1075 878l22-19 -21-16 -22 19z"/><path color="#4f0" d="M1054 862l22-19 -21-16 -22 18z"/><path class="m" d="M1053.7 898.9l42.8-40.4 -41.9-31.8 -42.8 38z"/><path color="#3f0" d="M1139 890l21-20 -21-15 -21 19z"/><path color="#3f0" d="M1118 874l21-19 -21-15 -21 19z"/><path color="#4f0" d="M1160 870l21-19 -21-14 -21 18z"/><path color="#4f0" d="M1139 855l21-18 -21-15 -21 18z"/><path class="m" d="M1138.9 889.8l42.5-38.5 -42.5-28.8 -42.4 36z"/><path color="#3f0" d="M1224 880l21-19 -21-14 -21 18z"/><path color="#4f0" d="M1203 865l21-18 -22-13 -21 17z"/><path color="#4f0" d="M1245 861l21-18 -21-13 -21 17z"/><path color="#5f0" d="M1224 847l21-17 -22-13 -21 17z"/><path class="m" d="M1224.3 879.5l41.9-36.6 -42.9-25.8 -41.9 34.2z"/><path color="#4f0" d="M1310 868l21-18 -22-12 -21 18z"/><path color="#5f0" d="M1288 856l21-18 -22-12 -21 17z"/><path color="#5f0" d="M1331 850l20-16 -22-12 -20 16z"/><path color="#6f0" d="M1309 838l20-16 -21-11 -21 15z"/><path class="m" d="M1309.7 868.2l41.5-34.7 -43.5-22.8 -41.5 32.2z"/><path color="#5f0" d="M1395 856l21-17 -22-11 -21 17z"/><path color="#6f0" d="M1373 845l21-17 -22-10 -21 16z"/><path color="#6f0" d="M1416 839l20-16 -22-10 -20 15z"/><path color="#6f0" d="M1394 828l20-15 -22-10 -20 15z"/><path class="m" d="M1395.3 855.7l41-32.7 -44-19.9 -41.1 30.4z"/><path color="#6f0" d="M1481 842l20-16 -22-9 -20 16z"/><path color="#7f0" d="M1459 833l20-16 -22-9 -21 15z"/><path color="#7f0" d="M1501 826l21-15 -23-8 -20 14z"/><path color="#7f0" d="M1479 817l20-14 -22-9 -20 14z"/><path class="m" d="M1481 842.1l40.6-30.8 -44.7-16.8 -40.6 28.5z"/><path color="#8f0" d="M1567 827l20-15 -23-7 -20 14z"/><path color="#8f0" d="M1544 819l20-14 -22-7 -20 13z"/><path color="#8f0" d="M1587 812l20-13 -23-7 -20 13z"/><path color="#8f0" d="M1564 805l20-13 -22-7 -20 13z"/><path class="m" d="M1566.9 827.4l40.1-28.9 -45.4-13.7 -40 26.5z"/><path color="#0f3" d="M754 970l22-26 -20-22 -22 25z"/><path color="#0f2" d="M734 947l22-25 -20-22 -23 24z"/><path color="#0f1" d="M776 944l22-24 -20-22 -22 24z"/><path color="#0f0" d="M756 922l22-24 -20-21 -22 23z"/><path class="m" d="M754.2 970.1l44.3-50.4 -40.7-43.1 -44.3 47.9z"/><path color="#0f3" d="M840 962l22-24 -21-21 -22 24z"/><path color="#0f1" d="M819 941l22-24 -20-21 -23 24z"/><path color="#0f1" d="M862 938l22-24 -21-20 -22 23z"/><path color="#1f0" d="M841 917l22-23 -21-20 -21 22z"/><path class="m" d="M839.5 962.3l44-48.4 -41.1-40.2 -43.9 46z"/><path color="#0f2" d="M925 954l22-24 -21-19 -22 23z"/><path color="#0f0" d="M904 934l22-23 -21-20 -21 23z"/><path color="#0f0" d="M947 930l22-23 -21-19 -22 23z"/><path color="#1f0" d="M926 911l22-23 -21-18 -22 21z"/><path class="m" d="M925 953.5l43.6-46.6 -41.5-37.2 -43.6 44.2z"/><path color="#0f1" d="M1010 944l22-23 -21-18 -22 22z"/><path color="#0f0" d="M989 925l22-22 -21-18 -21 22z"/><path color="#1f0" d="M1032 921l22-22 -21-17 -22 21z"/><path color="#2f0" d="M1011 903l22-21 -21-17 -22 20z"/><path class="m" d="M1010.5 943.6l43.2-44.7 -41.9-34.2 -43.2 42.2z"/><path color="#0f0" d="M1096 933l22-22 -22-17 -21 22z"/><path color="#1f0" d="M1075 916l21-22 -21-16 -21 21z"/><path color="#1f0" d="M1118 911l21-21 -21-16 -22 20z"/><path color="#2f0" d="M1096 894l22-20 -21-15 -22 19z"/><path class="m" d="M1096.1 932.5l42.8-42.7 -42.4-31.3 -42.8 40.4z"/><path color="#1f0" d="M1182 920l21-21 -21-14 -22 20z"/><path color="#2f0" d="M1160 905l22-20 -22-15 -21 20z"/><path color="#2f0" d="M1203 899l21-19 -21-15 -21 20z"/><path color="#3f0" d="M1182 885l21-20 -22-14 -21 19z"/><path class="m" d="M1181.8 920.4l42.5-40.9 -42.9-28.2 -42.5 38.5z"/><path color="#2f0" d="M1268 907l21-20 -22-13 -21 19z"/><path color="#3f0" d="M1246 893l21-19 -22-13 -21 19z"/><path color="#3f0" d="M1289 887l21-19 -22-12 -21 18z"/><path color="#4f0" d="M1267 874l21-18 -22-13 -21 18z"/><path class="m" d="M1267.7 907.1l42-38.9 -43.5-25.3 -41.9 36.6z"/><path color="#3f0" d="M1354 893l21-19 -23-12 -20 19z"/><path color="#4f0" d="M1332 881l20-19 -21-12 -21 18z"/><path color="#4f0" d="M1375 874l20-18 -22-11 -21 17z"/><path color="#5f0" d="M1352 862l21-17 -22-11 -20 16z"/><path class="m" d="M1353.7 892.7l41.6-37 -44.1-22.2 -41.5 34.7z"/><path color="#5f0" d="M1440 877l21-18 -23-10 -20 18z"/><path color="#5f0" d="M1418 867l20-18 -22-10 -21 17z"/><path color="#6f0" d="M1461 859l20-17 -22-9 -21 16z"/><path color="#6f0" d="M1438 849l21-16 -23-10 -20 16z"/><path class="m" d="M1439.9 877.2l41.1-35.1 -44.7-19.1 -41 32.7z"/><path color="#0f7" d="M795 1015l22-27 -20-22 -22 27z"/><path color="#0f5" d="M775 993l22-27 -21-22 -22 26z"/><path color="#0f5" d="M817 988l23-26 -21-21 -22 25z"/><path color="#0f3" d="M797 966l22-25 -21-21 -22 24z"/><path class="m" d="M795.2 1015.2l44.3-52.9 -41-42.6 -44.3 50.4z"/><path color="#6f0" d="M1526 861l21-18 -23-8 -20 16z"/><path color="#6f0" d="M1504 851l20-16 -23-9 -20 16z"/><path color="#7f0" d="M1547 843l20-16 -23-8 -20 16z"/><path color="#7f0" d="M1524 835l20-16 -22-8 -21 15z"/><path class="m" d="M1526.3 860.5l40.6-33.1 -45.3-16.1 -40.6 30.8z"/><path color="#0f6" d="M881 1004l22-26 -21-20 -22 25z"/><path color="#0f4" d="M860 983l22-25 -20-20 -22 24z"/><path color="#0f4" d="M903 978l22-24 -21-20 -22 24z"/><path color="#0f2" d="M882 958l22-24 -20-20 -22 24z"/><path class="m" d="M881 1004.5l44-51 -41.5-39.6 -44 48.4z"/><path color="#0f4" d="M967 993l22-25 -21-19 -22 24z"/><path color="#0f3" d="M946 973l22-24 -21-19 -22 24z"/><path color="#0f3" d="M989 968l21-24 -21-19 -21 24z"/><path color="#0f1" d="M968 949l21-24 -20-18 -22 23z"/><path class="m" d="M966.9 992.6l43.6-49 -41.9-36.7 -43.6 46.6z"/><path color="#0f3" d="M1053 980l22-24 -22-18 -21 24z"/><path color="#0f2" d="M1032 962l21-24 -21-17 -22 23z"/><path color="#0f1" d="M1075 956l21-23 -21-17 -22 22z"/><path color="#0f0" d="M1053 938l22-22 -21-17 -22 22z"/><path class="m" d="M1052.8 979.7l43.3-47.2 -42.4-33.6 -43.2 44.7z"/><path color="#0f2" d="M1139 966l21-24 -21-15 -22 22z"/><path color="#0f1" d="M1117 949l22-22 -21-16 -22 22z"/><path color="#0f0" d="M1160 942l22-22 -22-15 -21 22z"/><path color="#1f0" d="M1139 927l21-22 -21-15 -21 21z"/><path class="m" d="M1138.9 965.6l42.9-45.2 -42.9-30.6 -42.8 42.7z"/><path color="#0f0" d="M1225 950l22-22 -22-14 -22 21z"/><path color="#1f0" d="M1203 935l22-21 -22-15 -21 21z"/><path color="#1f0" d="M1247 928l21-21 -22-14 -21 21z"/><path color="#2f0" d="M1225 914l21-21 -22-13 -21 19z"/><path class="m" d="M1225.2 950.4l42.5-43.3 -43.4-27.6 -42.5 40.9z"/><path color="#1f0" d="M1312 934l21-21 -22-13 -21 21z"/><path color="#2f0" d="M1290 921l21-21 -22-13 -21 20z"/><path color="#2f0" d="M1333 913l21-20 -22-12 -21 19z"/><path color="#3f0" d="M1311 900l21-19 -22-13 -21 19z"/><path class="m" d="M1311.6 934.1l42.1-41.4 -44-24.5 -42 38.9z"/><path color="#3f0" d="M1398 917l21-21 -22-11 -21 20z"/><path color="#3f0" d="M1376 905l21-20 -22-11 -21 19z"/><path color="#4f0" d="M1419 896l21-19 -22-10 -21 18z"/><path color="#4f0" d="M1397 885l21-18 -23-11 -20 18z"/><path class="m" d="M1398.3 916.6l41.6-39.4 -44.6-21.5 -41.6 37z"/><path color="#0fa" d="M837 1060l22-28 -21-22 -22 28z"/><path color="#0f8" d="M816 1038l22-28 -21-22 -22 27z"/><path color="#0f8" d="M859 1032l22-28 -21-21 -22 27z"/><path color="#0f6" d="M838 1010l22-27 -20-21 -23 26z"/><path class="m" d="M836.7 1059.8l44.3-55.3 -41.5-42.2 -44.3 52.9z"/><path color="#0f8" d="M923 1046l22-27 -21-20 -22 26z"/><path color="#0f7" d="M902 1025l22-26 -21-21 -22 26z"/><path color="#0f6" d="M945 1019l22-26 -21-20 -22 26z"/><path color="#0f5" d="M924 999l22-26 -21-19 -22 24z"/><path class="m" d="M922.9 1046.1l44-53.5 -41.9-39.1 -44 51z"/><path color="#4f0" d="M1485 898l21-19 -23-10 -21 19z"/><path color="#4f0" d="M1462 888l21-19 -22-10 -21 18z"/><path color="#5f0" d="M1506 879l20-18 -22-10 -21 18z"/><path color="#5f0" d="M1483 869l21-18 -23-9 -20 17z"/><path class="m" d="M1485.1 898l41.2-37.5 -45.3-18.4 -41.1 35.1z"/><path color="#0f7" d="M1009 1031l22-26 -21-19 -22 26z"/><path color="#0f6" d="M988 1012l22-26 -21-18 -22 25z"/><path color="#0f5" d="M1031 1005l22-25 -21-18 -22 24z"/><path color="#0f4" d="M1010 986l22-24 -22-18 -21 24z"/><path class="m" d="M1009.2 1031.2l43.6-51.5 -42.3-36.1 -43.6 49z"/><path color="#0f5" d="M1096 1015l21-25 -21-17 -22 25z"/><path color="#0f4" d="M1074 998l22-25 -21-17 -22 24z"/><path color="#0f3" d="M1117 990l22-24 -22-17 -21 24z"/><path color="#0f2" d="M1096 973l21-24 -21-16 -21 23z"/><path class="m" d="M1095.6 1015.2l43.3-49.6 -42.8-33.1 -43.3 47.2z"/><path color="#0f3" d="M1182 998l22-24 -22-16 -21 24z"/><path color="#0f3" d="M1161 982l21-24 -22-16 -21 24z"/><path color="#0f2" d="M1204 974l21-24 -22-15 -21 23z"/><path color="#0f1" d="M1182 958l21-23 -21-15 -22 22z"/><path class="m" d="M1182.3 998.1l42.9-47.7 -43.4-30 -42.9 45.2z"/><path color="#0f2" d="M1269 980l21-24 -22-14 -21 23z"/><path color="#0f1" d="M1247 965l21-23 -21-14 -22 22z"/><path color="#0f0" d="M1290 956l22-22 -22-13 -22 21z"/><path color="#1f0" d="M1268 942l22-21 -22-14 -21 21z"/><path class="m" d="M1269.1 979.9l42.5-45.8 -43.9-27 -42.5 43.3z"/><path color="#0fd" d="M879 1104l22-30 -21-21 -22 29z"/><path color="#0fb" d="M858 1082l22-29 -21-21 -22 28z"/><path color="#0fb" d="M901 1074l22-28 -21-21 -22 28z"/><path color="#0f9" d="M880 1053l22-28 -21-21 -22 28z"/><path class="m" d="M878.5 1103.9l44.4-57.8 -41.9-41.6 -44.3 55.3z"/><path color="#0f0" d="M1356 960l21-22 -22-12 -21 21z"/><path color="#1f0" d="M1334 947l21-21 -22-13 -21 21z"/><path color="#2f0" d="M1377 938l21-21 -22-12 -21 21z"/><path color="#2f0" d="M1355 926l21-21 -22-12 -21 20z"/><path class="m" d="M1356.2 960.5l42.1-43.9 -44.6-23.9 -42.1 41.4z"/><path color="#0fb" d="M965 1087l22-28 -21-20 -22 28z"/><path color="#0fa" d="M944 1067l22-28 -21-20 -22 27z"/><path color="#0f9" d="M987 1059l22-28 -21-19 -22 27z"/><path color="#0f8" d="M966 1039l22-27 -21-19 -22 26z"/><path class="m" d="M965.2 1087.1l44-55.9 -42.3-38.6 -44 53.5z"/><path color="#2f0" d="M1443 940l21-22 -22-11 -21 21z"/><path color="#2f0" d="M1421 928l21-21 -23-11 -21 21z"/><path color="#3f0" d="M1464 918l21-20 -23-10 -20 19z"/><path color="#3f0" d="M1442 907l20-19 -22-11 -21 19z"/><path class="m" d="M1443.4 939.9l41.7-41.9 -45.2-20.8 -41.6 39.4z"/><path color="#0f9" d="M1052 1069l22-27 -22-19 -21 27z"/><path color="#0f8" d="M1031 1050l21-27 -21-18 -22 26z"/><path color="#0f7" d="M1074 1042l22-27 -22-17 -22 25z"/><path color="#0f6" d="M1052 1023l22-25 -21-18 -22 25z"/><path class="m" d="M1052 1069.3l43.6-54.1 -42.8-35.5 -43.6 51.5z"/><path color="#0f7" d="M1139 1050l22-26 -22-17 -22 26z"/><path color="#0f6" d="M1117 1033l22-26 -22-17 -21 25z"/><path color="#0f5" d="M1161 1024l21-26 -21-16 -22 25z"/><path color="#0f4" d="M1139 1007l22-25 -22-16 -22 24z"/><path class="m" d="M1138.9 1050.2l43.4-52.1 -43.4-32.5 -43.3 49.6z"/><path color="#0f5" d="M1226 1030l22-26 -22-15 -22 25z"/><path color="#0f4" d="M1204 1014l22-25 -22-15 -22 24z"/><path color="#0f3" d="M1248 1004l21-24 -22-15 -21 24z"/><path color="#0f3" d="M1226 989l21-24 -22-15 -21 24z"/><path class="m" d="M1226.1 1030l43-50.1 -43.9-29.5 -42.9 47.7z"/><path color="#0f3" d="M1314 1009l21-25 -22-14 -22 24z"/><path color="#0f2" d="M1291 994l22-24 -23-14 -21 24z"/><path color="#0f1" d="M1335 984l21-24 -22-13 -21 23z"/><path color="#0f1" d="M1313 970l21-23 -22-13 -22 22z"/><path class="m" d="M1313.6 1008.7l42.6-48.2 -44.6-26.4 -42.5 45.8z"/><path color="#0ef" d="M921 1147l22-30 -21-21 -22 30z"/><path color="#0ff" d="M900 1126l22-30 -21-22 -22 30z"/><path color="#0fe" d="M943 1117l22-30 -21-20 -22 29z"/><path color="#0fc" d="M922 1096l22-29 -21-21 -22 28z"/><path class="m" d="M920.8 1147.5l44.4-60.4 -42.3-41 -44.4 57.8z"/><path color="#0fe" d="M1008 1128l22-30 -21-20 -23 29z"/><path color="#0fd" d="M986 1107l23-29 -22-19 -22 28z"/><path color="#0fc" d="M1030 1098l22-29 -21-19 -22 28z"/><path color="#0fa" d="M1009 1078l22-28 -22-19 -22 28z"/><path class="m" d="M1007.9 1127.7l44.1-58.4 -42.8-38.1 -44 55.9z"/><path color="#0f1" d="M1401 986l21-24 -22-12 -21 23z"/><path color="#0f0" d="M1379 973l21-23 -23-12 -21 22z"/><path color="#1f0" d="M1422 962l21-22 -22-12 -21 22z"/><path color="#1f0" d="M1400 950l21-22 -23-11 -21 21z"/><path class="m" d="M1401.2 986.2l42.2-46.3 -45.1-23.3 -42.1 43.9z"/><path color="#0fc" d="M1095 1107l22-29 -22-18 -21 28z"/><path color="#0fb" d="M1074 1088l21-28 -21-18 -22 27z"/><path color="#0f9" d="M1117 1078l22-28 -22-17 -22 27z"/><path color="#0f8" d="M1095 1060l22-27 -21-18 -22 27z"/><path class="m" d="M1095.2 1106.8l43.7-56.6 -43.3-35 -43.6 54.1z"/><path color="#0f9" d="M1183 1085l21-28 -21-17 -22 28z"/><path color="#0f8" d="M1161 1068l22-28 -22-16 -22 26z"/><path color="#0f7" d="M1204 1057l22-27 -22-16 -21 26z"/><path color="#0f6" d="M1183 1040l21-26 -22-16 -21 26z"/><path class="m" d="M1182.7 1084.7l43.4-54.7 -43.8-31.9 -43.4 52.1z"/><path color="#0f7" d="M1271 1061l21-27 -22-14 -22 26z"/><path color="#0f6" d="M1248 1046l22-26 -22-16 -22 26z"/><path color="#0f5" d="M1292 1034l22-25 -23-15 -21 26z"/><path color="#0f4" d="M1270 1020l21-26 -22-14 -21 24z"/><path class="m" d="M1270.5 1061.4l43.1-52.7 -44.5-28.8 -43 50.1z"/><path color="#0bf" d="M964 1191l22-32 -22-21 -22 31z"/><path color="#0df" d="M942 1169l22-31 -21-21 -22 30z"/><path color="#0ef" d="M986 1159l22-31 -22-21 -22 31z"/><path color="#0ff" d="M964 1138l22-31 -21-20 -22 30z"/><path class="m" d="M963.5 1190.6l44.4-62.9 -42.7-40.6 -44.4 60.4z"/><path color="#0f4" d="M1359 1037l21-26 -23-13 -21 25z"/><path color="#0f4" d="M1336 1023l21-25 -22-14 -21 25z"/><path color="#0f2" d="M1380 1011l21-25 -22-13 -22 25z"/><path color="#0f2" d="M1357 998l22-25 -23-13 -21 24z"/><path class="m" d="M1358.5 1036.9l42.7-50.7 -45-25.7 -42.6 48.2z"/><path color="#0ef" d="M1051 1168l22-31 -21-20 -23 31z"/><path color="#0ff" d="M1029 1148l23-31 -22-19 -22 30z"/><path color="#0fe" d="M1073 1137l22-30 -21-19 -22 29z"/><path color="#0fd" d="M1052 1117l22-29 -22-19 -22 29z"/><path class="m" d="M1051.1 1167.8l44.1-61 -43.2-37.5 -44.1 58.4z"/><path color="#0fe" d="M1139 1144l22-30 -22-18 -22 29z"/><path color="#0fd" d="M1117 1125l22-29 -22-18 -22 29z"/><path color="#0fc" d="M1161 1114l22-29 -22-17 -22 28z"/><path color="#0fb" d="M1139 1096l22-28 -22-18 -22 28z"/><path class="m" d="M1138.9 1143.7l43.8-59 -43.8-34.5 -43.7 56.6z"/><path color="#0fb" d="M1227 1119l22-30 -22-16 -22 29z"/><path color="#0fa" d="M1205 1102l22-29 -23-16 -21 28z"/><path color="#0f9" d="M1249 1089l22-28 -23-15 -21 27z"/><path color="#0f8" d="M1227 1073l21-27 -22-16 -22 27z"/><path class="m" d="M1227 1118.5l43.5-57.1 -44.4-31.4 -43.4 54.7z"/><path color="#09f" d="M1007 1233l22-33 -22-21 -22 33z"/><path color="#0af" d="M985 1212l22-33 -21-20 -22 32z"/><path color="#0bf" d="M1029 1200l22-32 -22-20 -22 31z"/><path color="#0df" d="M1007 1179l22-31 -21-20 -22 31z"/><path class="m" d="M1006.7 1233.2l44.4-65.4 -43.2-40.1 -44.4 62.9z"/><path color="#0f8" d="M1315 1092l22-28 -23-15 -21 28z"/><path color="#0f8" d="M1293 1077l21-28 -22-15 -21 27z"/><path color="#0f6" d="M1337 1064l22-27 -23-14 -22 26z"/><path color="#0f6" d="M1314 1049l22-26 -22-14 -22 25z"/><path class="m" d="M1315.4 1092.1l43.1-55.2 -44.9-28.2 -43.1 52.7z"/><path color="#0bf" d="M1095 1207l22-32 -22-19 -22 32z"/><path color="#0df" d="M1073 1188l22-32 -22-19 -22 31z"/><path color="#0ef" d="M1117 1175l22-31 -22-19 -22 31z"/><path color="#0ff" d="M1095 1156l22-31 -22-18 -22 30z"/><path class="m" d="M1094.8 1207.3l44.1-63.6 -43.7-36.9 -44.1 61z"/><path color="#0ef" d="M1183 1180l22-31 -22-18 -22 31z"/><path color="#0ff" d="M1161 1162l22-31 -22-17 -22 30z"/><path color="#0fe" d="M1205 1149l22-30 -22-17 -22 29z"/><path color="#0fd" d="M1183 1131l22-29 -22-17 -22 29z"/><path class="m" d="M1183.2 1180.2l43.8-61.7 -44.3-33.8 -43.8 59z"/><path color="#0fd" d="M1272 1152l22-31 -23-16 -22 30z"/><path color="#0fc" d="M1249 1135l22-30 -22-16 -22 30z"/><path color="#0fb" d="M1294 1121l21-29 -22-15 -22 28z"/><path color="#0fa" d="M1271 1105l22-28 -22-16 -22 28z"/><path class="m" d="M1271.9 1151.8l43.5-59.7 -44.9-30.7 -43.5 57.1z"/><path color="#06f" d="M1050 1275l23-34 -22-21 -23 34z"/><path color="#08f" d="M1028 1254l23-34 -22-20 -22 33z"/><path color="#09f" d="M1073 1241l22-34 -22-19 -22 32z"/><path color="#0af" d="M1051 1220l22-32 -22-20 -22 32z"/><path class="m" d="M1050.3 1275.3l44.5-68 -43.7-39.5 -44.4 65.4z"/><path color="#09f" d="M1139 1246l22-33 -22-19 -22 33z"/><path color="#0af" d="M1117 1227l22-33 -22-19 -22 32z"/><path color="#0cf" d="M1161 1213l22-33 -22-18 -22 32z"/><path color="#0df" d="M1139 1194l22-32 -22-18 -22 31z"/><path class="m" d="M1138.9 1246.3l44.3-66.1 -44.3-36.5 -44.1 63.6z"/><path color="#0cf" d="M1228 1216l22-33 -23-17 -22 32z"/><path color="#0df" d="M1205 1198l22-32 -22-17 -22 31z"/><path color="#0ff" d="M1250 1183l22-31 -23-17 -22 31z"/><path color="#0ff" d="M1227 1166l22-31 -22-16 -22 30z"/><path class="m" d="M1227.9 1216.1l44-64.3 -44.9-33.3 -43.8 61.7z"/><path color="#04f" d="M1094 1317l23-36 -22-20 -23 35z"/><path color="#05f" d="M1072 1296l23-35 -22-20 -23 34z"/><path color="#07f" d="M1117 1281l22-35 -22-19 -22 34z"/><path color="#08f" d="M1095 1261l22-34 -22-20 -22 34z"/><path class="m" d="M1094.4 1316.9l44.5-70.6 -44.1-39 -44.5 68z"/><path color="#07f" d="M1184 1285l22-35 -23-19 -22 35z"/><path color="#08f" d="M1161 1266l22-35 -22-18 -22 33z"/><path color="#0af" d="M1206 1250l22-34 -23-18 -22 33z"/><path color="#0bf" d="M1183 1231l22-33 -22-18 -22 33z"/><path class="m" d="M1183.6 1284.8l44.3-68.7 -44.7-35.9 -44.3 66.1z"/><path color="#02f" d="M1139 1358l22-37 -22-20 -22 37z"/><path color="#03f" d="M1117 1338l22-37 -22-20 -23 36z"/><path color="#05f" d="M1161 1321l23-36 -23-19 -22 35z"/><path color="#06f" d="M1139 1301l22-35 -22-20 -22 35z"/><path class="m" d="M1138.9 1358.1l44.7-73.3 -44.7-38.5 -44.5 70.6z"/></g>
<circle cx="324.7" cy="476" r="14.6" fill="#ffcccc" stroke="#5c4444" stroke-width="4"/>
<circle cx="1139" cy="1372" r="14.6" fill="#ffcccc" stroke="#5c4444" stroke-width="4"/>
<circle cx="1937" cy="738.6" r="14.6" fill="#ffcccc" stroke="#5c4444" stroke-width="4"/>
<path d="M756 316L756 385" stroke="#4a4a4a" stroke-width="4" fill="none" />
<circle cx="756" cy="316" r="14.6" fill="#c00000" stroke="#500000" stroke-width="4"/>
<circle cx="712.4" cy="889.3" r="14.6" fill="#c00000" stroke="#500000" stroke-width="4"/>
<circle cx="1568.5" cy="811" r="14.6" fill="#c00000" stroke="#500000" stroke-width="4"/>
<g font-size="59.5" fill="#2b2b2b"><text x="326.1" y="1117.5" text-anchor="end">10</text><text x="320.5" y="1002.6" text-anchor="end">20</text><text x="315" y="887.6" text-anchor="end">30</text><text x="309.5" y="772.6" text-anchor="end">40</text><text x="303.9" y="657.7" text-anchor="end">50</text><text x="298.4" y="542.7" text-anchor="end">60</text><text x="292.9" y="427.7" text-anchor="end">70</text><text x="287.3" y="312.8" text-anchor="end">80</text><text x="1105.9" y="1820" text-anchor="end">0</text><text x="952.2" y="1746.3" text-anchor="end">10</text><text x="798.5" y="1672.6" text-anchor="end">20</text><text x="644.7" y="1598.9" text-anchor="end">30</text><text x="491" y="1525.2" text-anchor="end">40</text><text x="337.2" y="1451.5" text-anchor="end">50</text><text x="1173.9" y="1819">180</text><text x="1366.1" y="1726.9">190</text><text x="1558.3" y="1634.8">200</text><text x="1750.5" y="1542.6">210</text><text x="1942.7" y="1450.5">220</text></g>
<text x="338" y="131" font-size="104" font-weight="bold" fill="#111" textLength="135" lengthAdjust="spacingAndGlyphs">XR</text>
<text x="474" y="152" font-size="68" font-weight="bold" fill="#111" textLength="76" lengthAdjust="spacingAndGlyphs">ac</text>
<text transform="translate(109 1245) rotate(-90)" font-size="72" fill="#1a1a1a" stroke="#1a1a1a" stroke-width="1.5" stroke-linejoin="round" textLength="739" lengthAdjust="spacingAndGlyphs">xylan recovery (mol%)</text>
<text y="1752" font-size="71" fill="#1a1a1a" stroke="#1a1a1a" stroke-width="1.5" stroke-linejoin="round"><tspan x="204">B:</tspan><tspan x="286">H</tspan><tspan x="343" dy="11" font-size="45">2</tspan><tspan x="368" dy="-11">SO</tspan><tspan x="464" dy="11" font-size="45">4</tspan><tspan x="532" dy="-11" textLength="181" lengthAdjust="spacingAndGlyphs">(mM)</tspan></text>
<text x="1497" y="1752" font-size="72" fill="#1a1a1a" stroke="#1a1a1a" stroke-width="1.5" stroke-linejoin="round" textLength="639" lengthAdjust="spacingAndGlyphs">A: temperature (°C)</text>
<path d="M1136 3915.5L365.4 3543.6L1136 3253L1906.7 3543.6Z" fill="#696969" stroke="none"/>
<path d="M1273.7 3304.9L1262.8 3302.1L1249 3298.4L1235.3 3294.6L1228.6 3292.7L1215.2 3288.9L1202.1 3285L1189.2 3281L1176.8 3277.1L1170.2 3275L1157.8 3270.9L1145.6 3266.8L1133.6 3262.6L1121.8 3258.4" fill="none" stroke="#008fff" stroke-width="6" stroke-linecap="butt"/>
<path d="M400.4 3530.4L408.1 3532.3L423.5 3536.2L431.2 3538.2L446.3 3542.2L459.9 3545.9L468.8 3548.3L483.6 3552.5L492.3 3555.1L505.4 3559L519.8 3563.5L529.6 3566.6L541 3570.3L555 3575L568.8 3579.8L576.1 3582.4L589.2 3587.2L602.6 3592.3L615.9 3597.4L629 3602.7L641.9 3608L654.7 3613.5L661.1 3616.2L673.7 3621.8L686.1 3627.5L698.4 3633.4L710.6 3639.3L720.9 3644.4L728.6 3648.3L740.4 3654.5L752.1 3660.8L763.7 3667.1L775.2 3673.6L786.6 3680.1L797.8 3686.8L803.4 3690.2L814.6 3697L825.6 3703.9L836.5 3710.9L841.9 3714.4L852.7 3721.6L863.5 3728.8L873 3735.4L879.4 3739.9L889.9 3747.3L900.4 3754.9L905.6 3758.7L916 3766.4L925 3773.3L931.4 3778.2L941.7 3786.1L947.4 3790.6L957 3798.2L967.1 3806.4L972.1 3810.5L982.2 3818.8L987.7 3823.4L997.2 3831.4L1006.3 3839.1L1012.2 3844.2L1022.2 3852.8L1027.1 3857.2L1037.1 3866" fill="none" stroke="#008fff" stroke-width="6" stroke-linecap="butt"/>
<path d="M1518.2 3397.1L1500.1 3394.9L1490.4 3393.6L1481.1 3392.4L1463 3390L1453.6 3388.7L1444.1 3387.4L1426.5 3384.9L1417.5 3383.6L1405 3381.8L1391 3379.6L1382.2 3378.2L1364.9 3375.4L1356.3 3374L1342.7 3371.7L1330.9 3369.7L1320.4 3367.8L1306.1 3365.1L1297.2 3363.5L1281.7 3360.4L1272.6 3358.6L1258 3355.6L1246.3 3353L1234.9 3350.5L1219.8 3347L1212.3 3345.3L1197.6 3341.7L1184.5 3338.3L1176.1 3336.1L1162.2 3332.4L1148.5 3328.5L1141.7 3326.5L1128.4 3322.5L1115.4 3318.4L1102.7 3314.3L1090.3 3310L1078.1 3305.7L1066.2 3301.4L1054.6 3296.9L1043.2 3292.4" fill="none" stroke="#00ffad" stroke-width="6" stroke-linecap="butt"/>
<path d="M502.1 3492.1L517.7 3495.5L526.1 3497.3L541.8 3500.9L549.6 3502.8L565 3506.6L572.6 3508.5L587.6 3512.5L600.4 3516L609.8 3518.6L624.3 3522.9L636.4 3526.6L645.6 3529.5L659.5 3534.1L673.2 3538.8L685.5 3543.2L693.3 3546L706.4 3551.1L719.3 3556.2L731.9 3561.4L744.4 3566.8L756.6 3572.3L768.7 3578L780.6 3583.7L792.2 3589.6L803.7 3595.6L815 3601.8L820.6 3604.9L831.7 3611.2L842.6 3617.6L853.3 3624.1L863 3630.2L869.2 3634.1L879.6 3640.9L889.9 3647.8L895 3651.3L905.2 3658.4L915.2 3665.6L920.2 3669.2L930.1 3676.5L939.4 3683.6L944.7 3687.7L954.4 3695.3L959.2 3699.1L968.8 3706.8L976.9 3713.4L983 3718.5L992.4 3726.5L997.1 3730.5L1006.5 3738.6L1011.1 3742.6L1020.4 3750.8L1025.1 3755L1034.3 3763.3L1039.5 3768.1L1048.1 3776L1053.7 3781.2L1061.8 3788.9L1067.5 3794.3L1075.5 3801.9L1080.9 3807.2L1089.2 3815.2L1094.1 3820L1102.8 3828.6L1107.4 3833.1L1116.5 3842.2L1121 3846.8L1130.1 3856L1134.6 3860.7L1143.7 3870L1148.3 3874.7L1156.7 3883.5L1162 3889L1168.8 3896.2" fill="none" stroke="#00ffad" stroke-width="6" stroke-linecap="butt"/>
<path d="M1674.1 3455.9L1659.6 3455.1L1645.2 3454.4L1633.8 3453.8L1622.8 3453.2L1611.7 3452.6L1600.7 3452L1587.2 3451.2L1572.7 3450.4L1558.2 3449.6L1545.7 3448.9L1534.7 3448.3L1523.8 3447.7L1512.8 3447L1500.1 3446.3L1485.5 3445.4L1470.9 3444.6L1458.4 3443.8L1447.5 3443.2L1436.7 3442.5L1425.9 3441.9L1412.3 3441L1397.5 3440.1L1382.9 3439.1L1372.2 3438.5L1361.5 3437.8L1350.9 3437L1338.3 3436.2L1323.3 3435.1L1308.6 3434.1L1298 3433.4L1287.6 3432.6L1277.2 3431.8L1262.8 3430.7L1247.5 3429.5L1235.9 3428.5L1225.7 3427.7L1215.5 3426.8L1200.5 3425.5L1185.5 3424.1L1175.5 3423.1L1165.7 3422.1L1151.7 3420.6L1136.8 3418.9L1127.3 3417.8L1117.2 3416.6L1099.6 3414.2L1090.5 3413L1079.8 3411.3L1064.3 3408.8L1055.9 3407.3L1039.6 3404.1L1031.7 3402.5L1016.4 3398.9L1006.4 3396.3L994.9 3393.1L981.6 3388.8L969 3384.3L957.2 3379.5L946.1 3374.5L935.7 3369.3L925.8 3363.9L921.1 3361.1L912 3355.5L903.3 3349.8L899.1 3346.8" fill="none" stroke="#0aff00" stroke-width="6" stroke-linecap="butt"/>
<path d="M662.1 3431.7L671.7 3432.8L681.2 3433.8L696.1 3435.6L709.1 3437.3L718.2 3438.5L732 3440.6L744.8 3442.5L753.3 3444L770.1 3447L778.3 3448.7L794.1 3452.1L801.7 3454L816.5 3457.9L830.5 3462.1L837.2 3464.4L850.2 3469.1L862.4 3474.1L874 3479.5L884.9 3485.1L890.2 3488L900.4 3494L910.1 3500.2L915.2 3503.7L924 3509.9L932.8 3516.6L937.2 3520.1L945.6 3527L949.8 3530.5L957.9 3537.7L962 3541.3L969.9 3548.6L973.8 3552.3L981.6 3559.8L985.4 3563.6L992.6 3570.8L996.8 3575.1L1002.3 3580.8L1008.1 3586.8L1011.8 3590.7L1019.3 3598.6L1023 3602.6L1029.9 3610.2L1034.1 3614.7L1038.7 3619.9L1045.1 3627L1048.8 3631.1L1056 3639.3L1059.8 3643.6L1064.5 3649L1070.8 3656.3L1074.5 3660.5L1081.4 3668.5L1085.6 3673.4L1089.8 3678.3L1096.7 3686.4L1100.4 3690.7L1106.5 3698L1111.5 3703.9L1115.3 3708.3L1122.7 3717.3L1126.5 3721.7L1131.5 3727.8L1137.8 3735.3L1141.6 3739.8L1148.2 3747.9L1153 3753.5L1156.8 3758.2L1164.4 3767.4L1168.3 3772.1L1173.4 3778.4L1179.8 3786.2L1183.7 3790.9L1190.4 3799.1L1195.4 3805.2L1199.3 3810L1207.2 3819.6L1211.1 3824.5L1216 3830.5L1223 3839.1L1227 3844L1233.3 3851.8L1239 3858.9L1243.1 3863.8" fill="none" stroke="#0aff00" stroke-width="6" stroke-linecap="butt"/>
<path d="M1802.3 3504.3L1789.6 3504.3L1777 3504.3L1764.4 3504.3L1751.9 3504.3L1739.4 3504.4L1727 3504.5L1714.6 3504.6L1702.3 3504.7L1690.1 3504.9L1677.9 3505.1L1665.8 3505.3L1653.8 3505.6L1641.9 3505.8L1629.9 3506.1L1616.3 3506.5L1602.7 3507L1588.9 3507.5L1574.9 3508.1L1560.8 3508.7L1549.4 3509.3L1538.3 3509.9L1527.3 3510.6L1516.4 3511.3L1501.9 3512.4L1486.4 3513.6L1474.2 3514.7L1464 3515.7L1453.8 3516.8L1436.4 3518.8L1424.8 3520.4L1415.5 3521.7L1397.9 3524.6L1388.5 3526.3L1375 3529L1363.4 3531.6L1347.8 3535.7L1340.4 3537.9L1326.3 3542.7L1313.4 3547.9L1301.5 3553.6L1290.8 3559.9L1286 3563.3L1277.1 3570.4L1273.2 3574.2L1266.2 3582.2L1263.2 3586.4L1260.5 3590.8L1257.1 3597.8L1254.4 3604.8L1252.9 3609.8L1251.8 3615L1250.9 3620.3L1250.4 3625.7L1250.2 3631.3L1250.2 3637L1250.5 3642.9L1251.1 3648.9L1251.9 3655L1253 3661.3L1254.4 3667.7L1256 3674.3L1257.8 3680.8L1259.5 3686.2L1261.2 3691.6L1263 3696.9L1264.9 3702.3L1267.5 3709L1270.4 3716.3L1273.5 3723.5L1275.8 3728.7L1278.2 3734L1280.6 3739.3L1284.2 3746.8L1288.1 3754.7L1290.9 3760.3L1293.6 3765.6L1296.4 3770.9L1300.8 3779.1L1304.9 3786.7L1307.9 3791.9L1310.8 3797.2L1315 3804.5L1320 3813.1L1323.1 3818.4L1326.3 3823.7" fill="none" stroke="#b8ff00" stroke-width="6" stroke-linecap="butt"/>
<path d="M1898.3 3547.7L1884.1 3548.4L1869.8 3549.1L1858.4 3549.7L1847.1 3550.3L1836 3551L1825 3551.7L1810.7 3552.6L1795.5 3553.8L1781.6 3554.8L1771 3555.7L1760.5 3556.7L1748.2 3557.8L1731.8 3559.5L1719.6 3560.8L1709.6 3562L1697.4 3563.5L1680.4 3565.7L1670.9 3567.1L1660.3 3568.7L1643.2 3571.5L1634.2 3573.1L1618.2 3576.2L1608.2 3578.3L1593.4 3581.7L1583.6 3584.1L1568 3588.3L1560.5 3590.5L1545.9 3595.2L1532.1 3600.2L1519.1 3605.6L1506.8 3611.4L1495.3 3617.5L1484.7 3624L1477.1 3629.4L1470.4 3634.6L1462 3642.1L1458.1 3646.1L1451.6 3653.5L1447.7 3658.6L1444.8 3663L1439.8 3671.5L1437.1 3676.8L1435.1 3681.7L1433 3687.3L1430.8 3694.7L1429 3701.9L1428 3707.6L1427.2 3713.2L1426.7 3718.9L1426.4 3724.6L1426.3 3730.5L1426.4 3736.5L1426.7 3742.7L1427.2 3748.9L1428 3755.3L1428.9 3761.7L1430 3768.3" fill="none" stroke="#ff8500" stroke-width="6" stroke-linecap="butt"/>
<path d="M1136 3915.5L365.4 3543.6L1136 3253L1906.7 3543.6Z" fill="none" stroke="#111" stroke-width="4.2" stroke-linejoin="miter"/>
<path d="M353 3290.4L1136 3024.9L1919.1 3290.4M346.4 3155.8L1136 2903.7L1925.7 3155.8M339.8 3021.3L1136 2782.5L1932.3 3021.3M333.2 2886.7L1136 2661.4L1938.9 2886.7M326.6 2752.1L1136 2540.2L1945.5 2752.1M320 2617.6L1136 2419L1952.1 2617.6M313.4 2483L1136 2297.8L1958.7 2483M365.4 3543.6L313.4 2483M548.7 3224L519.1 2436.7M744.5 3157.6L724.7 2390.4M940.3 3091.3L930.4 2344.1M1136 3024.9L1136 2297.8M1292.7 3078L1300.6 2334.8M1449.3 3131.1L1465.1 2371.9M1605.9 3184.2L1629.6 2408.9M1762.5 3237.3L1794.2 2446M1906.7 3543.6L1958.7 2483" stroke="#444" stroke-width="4.7" fill="none" stroke-linejoin="round"/>
<path d="M346.2 3283.6h13.5v13.5h-13.5zM339.6 3149.1h13.5v13.5h-13.5zM333 3014.5h13.5v13.5h-13.5zM326.4 2879.9h13.5v13.5h-13.5zM319.8 2745.4h13.5v13.5h-13.5zM313.3 2610.8h13.5v13.5h-13.5zM306.7 2476.3h13.5v13.5h-13.5zM1129.3 3908.7h13.5v13.5h-13.5zM975.2 3834.4h13.5v13.5h-13.5zM821 3760h13.5v13.5h-13.5zM666.9 3685.6h13.5v13.5h-13.5zM512.8 3611.3h13.5v13.5h-13.5zM358.6 3536.9h13.5v13.5h-13.5zM1129.3 3908.7h13.5v13.5h-13.5zM1322 3815.8h13.5v13.5h-13.5zM1514.6 3722.8h13.5v13.5h-13.5zM1707.3 3629.9h13.5v13.5h-13.5zM1900 3536.9h13.5v13.5h-13.5z" fill="#000"/>
<g stroke-linejoin="round" fill="currentColor" stroke="currentColor" stroke-width="1"><path color="#08f" d="M1136 2840l18 15 -18-5 -18-15z"/><path color="#08f" d="M1118 2835l18 15 -18-4 -17-16z"/><path color="#06f" d="M1154 2855l17 16 -17-5 -18-16z"/><path color="#06f" d="M1136 2850l18 16 -18-4 -18-16z"/><path class="m" d="M1136 2840l35.4 30.8 -35.4-9.1 -35.4-31.4z"/><path color="#09f" d="M1172 2848l18 15 -18-4 -18-15z"/><path color="#09f" d="M1154 2844l18 15 -18-4 -18-15z"/><path color="#06f" d="M1190 2863l17 15 -18-3 -17-16z"/><path color="#06f" d="M1172 2859l17 16 -18-4 -17-16z"/><path class="m" d="M1171.9 2848.1l35.3 30.1 -35.8-7.4 -35.4-30.8z"/><path color="#0df" d="M1100 2813l18 13 -18-5 -18-13z"/><path color="#0df" d="M1082 2808l18 13 -17-5 -18-13z"/><path color="#0bf" d="M1118 2826l18 14 -18-5 -18-14z"/><path color="#0bf" d="M1100 2821l18 14 -17-5 -18-14z"/><path class="m" d="M1100.1 2813.4l35.9 26.6 -35.4-9.7 -36-27.2z"/><path color="#09f" d="M1208 2854l18 15 -18-3 -18-15z"/><path color="#09f" d="M1190 2851l18 15 -18-3 -18-15z"/><path color="#07f" d="M1226 2869l17 15 -18-3 -17-15z"/><path color="#07f" d="M1208 2866l17 15 -18-3 -17-15z"/><path class="m" d="M1208.2 2854.5l35.2 29.5 -36.2-5.8 -35.3-30.1z"/><path color="#0df" d="M1136 2822l18 13 -18-4 -18-13z"/><path color="#0df" d="M1118 2818l18 13 -18-5 -18-13z"/><path color="#0bf" d="M1154 2835l18 13 -18-4 -18-13z"/><path color="#0bf" d="M1136 2831l18 13 -18-4 -18-14z"/><path class="m" d="M1136 2822.1l35.9 26 -35.9-8.1 -35.9-26.6z"/><path color="#0fc" d="M1064 2791l18 11 -18-5 -18-11z"/><path color="#0fc" d="M1046 2786l18 11 -18-6 -18-11z"/><path color="#0ff" d="M1082 2802l18 11 -18-5 -18-11z"/><path color="#0ff" d="M1064 2797l18 11 -17-5 -19-12z"/><path class="m" d="M1063.6 2791.1l36.5 22.3 -35.5-10.3 -36.6-23.1z"/><path color="#0af" d="M1245 2859l18 14 -19-2 -17-14z"/><path color="#0af" d="M1227 2857l17 14 -18-2 -18-15z"/><path color="#08f" d="M1263 2873l17 15 -18-2 -18-15z"/><path color="#07f" d="M1244 2871l18 15 -19-2 -17-15z"/><path class="m" d="M1245 2859.1l35.1 29 -36.7-4.1 -35.2-29.5z"/><path color="#0ef" d="M1172 2829l18 12 -18-3 -18-12z"/><path color="#0ef" d="M1154 2826l18 12 -18-3 -18-13z"/><path color="#0cf" d="M1190 2841l18 13 -18-3 -18-13z"/><path color="#0bf" d="M1172 2838l18 13 -18-3 -18-13z"/><path class="m" d="M1172.4 2829.1l35.8 25.4 -36.3-6.4 -35.9-26z"/><path color="#0fc" d="M1100 2800l18 11 -18-5 -18-10z"/><path color="#0fc" d="M1082 2796l18 10 -18-4 -18-11z"/><path color="#0fe" d="M1118 2811l18 11 -18-4 -18-12z"/><path color="#0ff" d="M1100 2806l18 12 -18-5 -18-11z"/><path class="m" d="M1099.6 2800.5l36.4 21.6 -35.9-8.7 -36.5-22.3z"/><path color="#0f8" d="M1027 2773l18 9 -18-6 -18-9z"/><path color="#0f8" d="M1009 2767l18 9 -17-6 -19-9z"/><path color="#0fa" d="M1045 2782l19 9 -18-5 -19-10z"/><path color="#0fa" d="M1027 2776l19 10 -18-6 -18-10z"/><path class="m" d="M1026.6 2773.1l37 18 -35.6-11.1 -37.1-18.7z"/><path color="#0bf" d="M1282 2862l18 14 -19-1 -17-14z"/><path color="#0bf" d="M1264 2861l17 14 -18-2 -18-14z"/><path color="#09f" d="M1300 2876l17 14 -18-1 -18-14z"/><path color="#08f" d="M1281 2875l18 14 -19-1 -17-15z"/><path class="m" d="M1282.2 2862.1l35 28.3 -37.1-2.3 -35.1-29z"/><path color="#0ff" d="M1209 2834l18 12 -18-2 -18-12z"/><path color="#0ef" d="M1191 2832l18 12 -19-3 -18-12z"/><path color="#0cf" d="M1227 2846l18 13 -18-2 -18-13z"/><path color="#0cf" d="M1209 2844l18 13 -19-3 -18-13z"/><path class="m" d="M1209.2 2834.4l35.8 24.7 -36.8-4.6 -35.8-25.4z"/><path color="#0fc" d="M1136 2808l18 10 -18-3 -18-10z"/><path color="#0fc" d="M1118 2805l18 10 -18-4 -18-11z"/><path color="#0fe" d="M1154 2818l18 11 -18-3 -18-11z"/><path color="#0fe" d="M1136 2815l18 11 -18-4 -18-11z"/><path class="m" d="M1136 2808.2l36.4 20.9 -36.4-7 -36.4-21.6z"/><path color="#0f8" d="M1063 2783l18 8 -18-4 -18-9z"/><path color="#0f8" d="M1045 2778l18 9 -18-5 -18-9z"/><path color="#0fa" d="M1081 2791l19 9 -18-4 -19-9z"/><path color="#0fa" d="M1063 2787l19 9 -18-5 -19-9z"/><path class="m" d="M1062.6 2783.2l37 17.3 -36-9.4 -37-18z"/><path color="#0cf" d="M1320 2863l17 14 -18-1 -18-13z"/><path color="#0cf" d="M1301 2863l18 13 -19 0 -18-14z"/><path color="#0af" d="M1337 2877l18 14 -19 0 -17-15z"/><path color="#09f" d="M1319 2876l17 15 -19-1 -17-14z"/><path class="m" d="M1319.9 2863.2l35 27.8 -37.7-.6 -35-28.3z"/><path color="#0f5" d="M989 2760l19 6 -18-6 -19-6z"/><path color="#0f5" d="M971 2754l19 6 -18-6 -19-7z"/><path color="#0f7" d="M1008 2766l19 7 -18-6 -19-7z"/><path color="#0f7" d="M990 2760l19 7 -18-6 -19-7z"/><path class="m" d="M989 2759.6l37.6 13.5 -35.7-11.8 -37.6-14.2z"/><path color="#0ff" d="M1247 2838l17 11 -18-1 -18-12z"/><path color="#0ff" d="M1228 2836l18 12 -19-2 -18-12z"/><path color="#0df" d="M1264 2849l18 13 -18-1 -18-13z"/><path color="#0df" d="M1246 2848l18 13 -19-2 -18-13z"/><path class="m" d="M1246.5 2838l35.7 24.1 -37.2-3 -35.8-24.7z"/><path color="#0fb" d="M1173 2814l18 10 -18-3 -19-10z"/><path color="#0fc" d="M1154 2811l19 10 -19-3 -18-10z"/><path color="#0fd" d="M1191 2824l18 10 -18-2 -18-11z"/><path color="#0fe" d="M1173 2821l18 11 -19-3 -18-11z"/><path class="m" d="M1172.9 2814.1l36.3 20.3 -36.8-5.3 -36.4-20.9z"/><path color="#0f8" d="M1099 2792l19 7 -19-3 -18-8z"/><path color="#0f8" d="M1081 2788l18 8 -18-5 -18-8z"/><path color="#0fa" d="M1118 2799l18 9 -18-3 -19-9z"/><path color="#0fa" d="M1099 2796l19 9 -18-5 -19-9z"/><path class="m" d="M1099.1 2791.6l36.9 16.6 -36.4-7.7 -37-17.3z"/><path color="#0f5" d="M1025 2771l19 5 -18-5 -19-6z"/><path color="#0f5" d="M1007 2765l19 6 -18-5 -19-6z"/><path color="#0f7" d="M1044 2776l19 7 -18-5 -19-7z"/><path color="#0f7" d="M1026 2771l19 7 -18-5 -19-7z"/><path class="m" d="M1025.1 2770.5l37.5 12.7 -36-10.1 -37.6-13.5z"/><path color="#0ef" d="M1358 2863l18 13 -19 0 -18-13z"/><path color="#0df" d="M1339 2863l18 13 -20 1 -17-14z"/><path color="#0bf" d="M1376 2876l17 14 -19 1 -17-15z"/><path color="#0bf" d="M1357 2876l17 15 -19 0 -18-14z"/><path class="m" d="M1358.2 2862.6l34.9 27.2 -38.2 1.2 -35-27.8z"/><path color="#0f2" d="M951 2751l19 4 -18-7 -19-4z"/><path color="#0f2" d="M933 2744l19 4 -18-6 -19-5z"/><path color="#0f4" d="M970 2755l19 5 -18-6 -19-6z"/><path color="#0f3" d="M952 2748l19 6 -18-7 -19-5z"/><path class="m" d="M950.9 2750.8l38.1 8.8 -35.7-12.5 -38.1-9.7z"/><path color="#0fd" d="M1284 2840l18 11 -19-1 -18-11z"/><path color="#0fe" d="M1265 2839l18 11 -19-1 -17-11z"/><path color="#0ef" d="M1302 2851l18 12 -19 0 -18-13z"/><path color="#0ef" d="M1283 2850l18 13 -19-1 -18-13z"/><path class="m" d="M1284.3 2839.8l35.6 23.4 -37.7-1.1 -35.7-24.1z"/><path color="#0fa" d="M1210 2818l18 10 -18-2 -18-10z"/><path color="#0fb" d="M1192 2816l18 10 -19-2 -18-10z"/><path color="#0fc" d="M1228 2828l19 10 -19-2 -18-10z"/><path color="#0fd" d="M1210 2826l18 10 -19-2 -18-10z"/><path class="m" d="M1210.3 2818.4l36.2 19.6 -37.3-3.6 -36.3-20.3z"/><path color="#0f7" d="M1136 2798l19 8 -19-3 -18-8z"/><path color="#0f8" d="M1118 2795l18 8 -18-4 -19-7z"/><path color="#0f9" d="M1155 2806l18 8 -19-3 -18-8z"/><path color="#0fa" d="M1136 2803l18 8 -18-3 -18-9z"/><path class="m" d="M1136 2798.3l36.9 15.8 -36.9-5.9 -36.9-16.6z"/><path color="#0f5" d="M1062 2780l18 5 -18-4 -19-6z"/><path color="#0f5" d="M1043 2775l19 6 -18-5 -19-5z"/><path color="#0f6" d="M1080 2785l19 7 -18-4 -19-7z"/><path color="#0f6" d="M1062 2781l19 7 -18-5 -19-7z"/><path class="m" d="M1061.6 2779.7l37.5 11.9 -36.5-8.4 -37.5-12.7z"/><path color="#0ff" d="M1397 2860l17 13 -19 2 -18-13z"/><path color="#0ef" d="M1377 2862l18 13 -19 1 -18-13z"/><path color="#0df" d="M1414 2873l18 14 -20 2 -17-14z"/><path color="#0cf" d="M1395 2875l17 14 -19 1 -17-14z"/><path class="m" d="M1396.9 2860.2l34.9 26.6 -38.7 3 -34.9-27.2z"/><path color="#0f2" d="M987 2762l19 4 -18-6 -19-3z"/><path color="#0f2" d="M969 2757l19 3 -18-5 -19-4z"/><path color="#0f4" d="M1006 2766l19 5 -18-6 -19-5z"/><path color="#0f4" d="M988 2760l19 5 -18-5 -19-5z"/><path class="m" d="M987.1 2762.5l38 8 -36.1-10.9 -38.1-8.8z"/><path color="#0fc" d="M1323 2840l17 11 -19 0 -18-11z"/><path color="#0fd" d="M1303 2840l18 11 -19 0 -18-11z"/><path color="#0fe" d="M1340 2851l18 12 -19 0 -18-12z"/><path color="#0ff" d="M1321 2851l18 12 -19 0 -18-12z"/><path class="m" d="M1322.6 2839.8l35.6 22.8 -38.3 .6 -35.6-23.4z"/><path color="#0f0" d="M912 2747l20 1 -18-7 -20-1z"/><path color="#0f0" d="M894 2740l20 1 -18-7 -19-2z"/><path color="#0f1" d="M932 2748l19 3 -18-7 -19-3z"/><path color="#0f1" d="M914 2741l19 3 -18-7 -19-3z"/><path class="m" d="M912.4 2746.7l38.5 4.1 -35.7-13.4 -38.6-4.9z"/><path color="#0f9" d="M1248 2821l18 9 -19-1 -18-9z"/><path color="#0fa" d="M1229 2820l18 9 -19-1 -18-10z"/><path color="#0fb" d="M1266 2830l18 10 -19-1 -18-10z"/><path color="#0fc" d="M1247 2829l18 10 -18-1 -19-10z"/><path class="m" d="M1248.1 2820.8l36.2 19 -37.8-1.8 -36.2-19.6z"/><path color="#0f7" d="M1173 2803l19 7 -19-2 -18-7z"/><path color="#0f7" d="M1155 2801l18 7 -18-2 -19-8z"/><path color="#0f8" d="M1192 2810l18 8 -18-2 -19-8z"/><path color="#0f9" d="M1173 2808l19 8 -19-2 -18-8z"/><path class="m" d="M1173.4 2803.3l36.9 15.1 -37.4-4.3 -36.9-15.8z"/><path color="#0f4" d="M1099 2787l18 5 -18-3 -19-5z"/><path color="#0f5" d="M1080 2784l19 5 -19-4 -18-5z"/><path color="#0f6" d="M1117 2792l19 6 -18-3 -19-6z"/><path color="#0f6" d="M1099 2789l19 6 -19-3 -19-7z"/><path class="m" d="M1098.6 2787.1l37.4 11.2 -36.9-6.7 -37.5-11.9z"/><path color="#0f2" d="M1024 2772l19 3 -19-4 -19-3z"/><path color="#0f2" d="M1005 2768l19 3 -18-5 -19-4z"/><path color="#0f3" d="M1043 2775l19 5 -19-5 -19-4z"/><path color="#0f4" d="M1024 2771l19 4 -18-4 -19-5z"/><path class="m" d="M1023.6 2772.4l38 7.3 -36.5-9.2 -38-8z"/><path color="#0fd" d="M1436 2856l18 12 -20 3 -17-13z"/><path color="#0fe" d="M1417 2858l17 13 -20 2 -17-13z"/><path color="#0ff" d="M1454 2868l17 14 -20 3 -17-14z"/><path color="#0ef" d="M1434 2871l17 14 -19 2 -18-14z"/><path class="m" d="M1436.3 2855.8l34.7 26.1 -39.2 4.9 -34.9-26.6z"/><path color="#0f0" d="M949 2759l19 1 -18-6 -20-1z"/><path color="#0f0" d="M930 2753l20 1 -18-6 -20-1z"/><path color="#0f1" d="M968 2760l19 2 -18-5 -19-3z"/><path color="#0f1" d="M950 2754l19 3 -18-6 -19-3z"/><path class="m" d="M948.6 2759.2l38.5 3.3 -36.2-11.7 -38.5-4.1z"/><path color="#0fa" d="M1361 2838l18 10 -19 2 -18-11z"/><path color="#0fb" d="M1342 2839l18 11 -20 1 -17-11z"/><path color="#0fc" d="M1379 2848l18 12 -20 2 -17-12z"/><path color="#0fd" d="M1360 2850l17 12 -19 1 -18-12z"/><path class="m" d="M1361.5 2837.9l35.4 22.3 -38.7 2.4 -35.6-22.8z"/><path color="#1f0" d="M873 2747l20-1 -18-7 -20 1z"/><path color="#1f0" d="M855 2740l20-1 -18-7 -19 0z"/><path color="#1f0" d="M893 2746l19 1 -18-7 -19-1z"/><path color="#1f0" d="M875 2739l19 1 -17-8 -20 0z"/><path class="m" d="M873.4 2747.4l39-.7 -35.8-14.2 -39.1-.2z"/><path color="#0f8" d="M1286 2821l19 9 -20 0 -18-9z"/><path color="#0f8" d="M1267 2821l18 9 -19 0 -18-9z"/><path color="#0fa" d="M1305 2830l18 10 -20 0 -18-10z"/><path color="#0fa" d="M1285 2830l18 10 -19 0 -18-10z"/><path class="m" d="M1286.5 2821.5l36.1 18.3 -38.3 0 -36.2-19z"/><path color="#0f6" d="M1211 2806l19 7 -19-1 -19-7z"/><path color="#0f6" d="M1192 2805l19 7 -19-2 -19-7z"/><path color="#0f7" d="M1230 2813l18 8 -19-1 -18-8z"/><path color="#0f8" d="M1211 2812l18 8 -19-2 -18-8z"/><path class="m" d="M1211.3 2806.4l36.8 14.4 -37.8-2.4 -36.9-15.1z"/><path color="#0f4" d="M1136 2793l19 4 -19-2 -19-5z"/><path color="#0f4" d="M1117 2790l19 5 -19-3 -18-5z"/><path color="#0f5" d="M1155 2797l18 6 -18-2 -19-6z"/><path color="#0f5" d="M1136 2795l19 6 -19-3 -19-6z"/><path class="m" d="M1136 2792.8l37.4 10.5 -37.4-5 -37.4-11.2z"/><path color="#0f2" d="M1061 2781l19 2 -19-3 -19-3z"/><path color="#0f2" d="M1042 2777l19 3 -18-5 -19-3z"/><path color="#0f3" d="M1080 2783l19 4 -19-3 -19-4z"/><path color="#0f3" d="M1061 2780l19 4 -18-4 -19-5z"/><path class="m" d="M1060.6 2780.7l38 6.4 -37-7.4 -38-7.3z"/><path color="#0f0" d="M985 2770l19 1 -18-5 -19-1z"/><path color="#0f0" d="M967 2765l19 1 -18-6 -19-1z"/><path color="#0f1" d="M1004 2771l20 1 -19-4 -19-2z"/><path color="#0f1" d="M986 2766l19 2 -18-6 -19-2z"/><path class="m" d="M985.1 2770l38.5 2.4 -36.5-9.9 -38.5-3.3z"/><path color="#0fa" d="M1476 2850l18 12 -20 3 -18-12z"/><path color="#0fb" d="M1456 2853l18 12 -20 3 -18-12z"/><path color="#0fd" d="M1494 2862l17 13 -20 4 -17-14z"/><path color="#0fe" d="M1474 2865l17 14 -20 3 -17-14z"/><path class="m" d="M1476.2 2849.6l34.7 25.5 -39.9 6.8 -34.7-26.1z"/><path color="#1f0" d="M910 2761l19-2 -18-6 -20 1z"/><path color="#1f0" d="M891 2754l20-1 -18-7 -20 1z"/><path color="#0f0" d="M929 2759l20 0 -19-6 -19 0z"/><path color="#0f0" d="M911 2753l19 0 -18-6 -19-1z"/><path class="m" d="M909.6 2760.7l39-1.5 -36.2-12.5 -39 .7z"/><path color="#2f0" d="M834 2753l20-3 -18-8 -20 3z"/><path color="#2f0" d="M816 2745l20-3 -18-8 -20 3z"/><path color="#1f0" d="M854 2750l19-3 -18-7 -19 2z"/><path color="#2f0" d="M836 2742l19-2 -17-8 -20 2z"/><path class="m" d="M833.9 2753l39.5-5.6 -35.9-15.1 -39.4 4.7z"/><path color="#0f8" d="M1401 2834l18 10 -20 3 -18-11z"/><path color="#0f9" d="M1381 2836l18 11 -20 1 -18-10z"/><path color="#0fa" d="M1419 2844l17 12 -19 2 -18-11z"/><path color="#0fb" d="M1399 2847l18 11 -20 2 -18-12z"/><path class="m" d="M1400.9 2834.2l35.4 21.6 -39.4 4.4 -35.4-22.3z"/><path color="#0f6" d="M1325 2820l18 9 -19 1 -18-9z"/><path color="#0f7" d="M1306 2821l18 9 -19 0 -19-9z"/><path color="#0f8" d="M1343 2829l18 9 -19 1 -18-9z"/><path color="#0f9" d="M1324 2830l18 9 -19 1 -18-10z"/><path class="m" d="M1325.4 2820.3l36.1 17.6 -38.9 1.9 -36.1-18.3z"/><path color="#0f4" d="M1250 2808l18 6 -19 0 -19-7z"/><path color="#0f5" d="M1230 2807l19 7 -19-1 -19-7z"/><path color="#0f6" d="M1268 2814l18 7 -19 0 -18-7z"/><path color="#0f7" d="M1249 2814l18 7 -19 0 -18-8z"/><path class="m" d="M1249.7 2807.8l36.8 13.7 -38.4-.7 -36.8-14.4z"/><path color="#0f3" d="M1174 2797l19 4 -19-2 -19-4z"/><path color="#0f3" d="M1155 2795l19 4 -19-2 -19-4z"/><path color="#0f4" d="M1193 2801l18 5 -19-1 -18-6z"/><path color="#0f5" d="M1174 2799l18 6 -19-2 -18-6z"/><path class="m" d="M1174 2796.7l37.3 9.7 -37.9-3.1 -37.4-10.5z"/><path color="#0f1" d="M1098 2787l19 2 -19-2 -19-3z"/><path color="#0f2" d="M1079 2784l19 3 -18-4 -19-2z"/><path color="#0f2" d="M1117 2789l19 4 -19-3 -19-3z"/><path color="#0f3" d="M1098 2787l19 3 -18-3 -19-4z"/><path class="m" d="M1098.1 2787.2l37.9 5.6 -37.4-5.7 -38-6.4z"/><path color="#0f0" d="M1022 2779l19 0 -18-4 -19 0z"/><path color="#0f0" d="M1004 2775l19 0 -19-4 -19-1z"/><path color="#0f1" d="M1041 2779l20 2 -19-4 -19-2z"/><path color="#0f1" d="M1023 2775l19 2 -18-5 -20-1z"/><path class="m" d="M1022.2 2779.1l38.4 1.6 -37-8.3 -38.5-2.4z"/><path color="#1f0" d="M946 2772l20-1 -19-6 -19 2z"/><path color="#1f0" d="M928 2767l19-2 -18-6 -19 2z"/><path color="#0f0" d="M966 2771l19-1 -18-5 -20 0z"/><path color="#0f0" d="M947 2765l20 0 -18-6 -20 0z"/><path class="m" d="M946.2 2772.4l38.9-2.4 -36.5-10.8 -39 1.5z"/><path color="#1f0" d="M870 2767l20-4 -18-6 -20 3z"/><path color="#2f0" d="M852 2760l20-3 -18-7 -20 3z"/><path color="#1f0" d="M890 2763l20-2 -19-7 -19 3z"/><path color="#1f0" d="M872 2757l19-3 -18-7 -19 3z"/><path class="m" d="M870.1 2767.3l39.5-6.6 -36.2-13.3 -39.5 5.6z"/><path color="#2f0" d="M794 2764l20-6 -18-8 -20 5z"/><path color="#2f0" d="M776 2755l20-5 -18-9 -20 6z"/><path color="#2f0" d="M814 2758l20-5 -18-8 -20 5z"/><path color="#2f0" d="M796 2750l20-5 -18-8 -20 4z"/><path class="m" d="M794.1 2763.6l39.8-10.6 -35.8-16 -39.8 9.7z"/><path color="#0f8" d="M1517 2841l17 12 -20 5 -18-12z"/><path color="#0f9" d="M1496 2846l18 12 -20 4 -18-12z"/><path color="#0fa" d="M1534 2853l17 13 -20 5 -17-13z"/><path color="#0fb" d="M1514 2858l17 13 -20 4 -17-13z"/><path class="m" d="M1516.8 2841.4l34.6 25 -40.5 8.7 -34.7-25.5z"/><path color="#0f6" d="M1441 2829l18 9 -20 4 -18-10z"/><path color="#0f7" d="M1421 2832l18 10 -20 2 -18-10z"/><path color="#0f8" d="M1459 2838l17 12 -20 3 -17-11z"/><path color="#0f9" d="M1439 2842l17 11 -20 3 -17-12z"/><path class="m" d="M1440.9 2828.5l35.3 21.1 -39.9 6.2 -35.4-21.6z"/><path color="#0f4" d="M1365 2817l18 8 -20 2 -18-8z"/><path color="#0f5" d="M1345 2819l18 8 -20 2 -18-9z"/><path color="#0f6" d="M1383 2825l18 9 -20 2 -18-9z"/><path color="#0f7" d="M1363 2827l18 9 -20 2 -18-9z"/><path class="m" d="M1364.8 2817.1l36.1 17.1 -39.4 3.7 -36.1-17.6z"/><path color="#0f3" d="M1289 2807l18 6 -19 1 -19-6z"/><path color="#0f4" d="M1269 2808l19 6 -20 0 -18-6z"/><path color="#0f4" d="M1307 2813l18 7 -19 1 -18-7z"/><path color="#0f5" d="M1288 2814l18 7 -20 0 -18-7z"/><path class="m" d="M1288.7 2807.2l36.7 13.1 -38.9 1.2 -36.8-13.7z"/><path color="#0f2" d="M1212 2799l19 4 -19-1 -19-4z"/><path color="#0f2" d="M1193 2798l19 4 -19-1 -19-4z"/><path color="#0f3" d="M1231 2803l19 5 -20-1 -18-5z"/><path color="#0f3" d="M1212 2802l18 5 -19-1 -18-5z"/><path class="m" d="M1212.4 2798.8l37.3 9 -38.4-1.4 -37.3-9.7z"/><path color="#0f0" d="M1136 2792l19 2 -19-2 -19-2z"/><path color="#0f1" d="M1117 2790l19 2 -19-3 -19-2z"/><path color="#0f1" d="M1155 2794l19 3 -19-2 -19-3z"/><path color="#0f2" d="M1136 2792l19 3 -19-2 -19-4z"/><path class="m" d="M1136 2791.8l38 4.9 -38-3.9 -37.9-5.6z"/><path color="#0f0" d="M1060 2786l19 0 -19-3 -19 0z"/><path color="#0f0" d="M1041 2783l19 0 -19-4 -19 0z"/><path color="#0f0" d="M1079 2786l19 1 -19-3 -19-1z"/><path color="#0f1" d="M1060 2783l19 1 -18-3 -20-2z"/><path class="m" d="M1059.7 2786.3l38.4 .9 -37.5-6.5 -38.4-1.6z"/><path color="#1f0" d="M983 2782l20-2 -19-4 -19 2z"/><path color="#1f0" d="M965 2778l19-2 -18-5 -20 1z"/><path color="#1f0" d="M1003 2780l19-1 -18-4 -20 1z"/><path color="#0f0" d="M984 2776l20-1 -19-5 -19 1z"/><path class="m" d="M983.2 2782.4l39-3.3 -37.1-9.1 -38.9 2.4z"/><path color="#1f0" d="M907 2780l20-4 -19-6 -20 4z"/><path color="#1f0" d="M888 2774l20-4 -18-7 -20 4z"/><path color="#1f0" d="M927 2776l19-4 -18-5 -20 3z"/><path color="#1f0" d="M908 2770l20-3 -18-6 -20 2z"/><path class="m" d="M906.8 2779.8l39.4-7.4 -36.6-11.7 -39.5 6.6z"/><path color="#2f0" d="M830 2779l20-7 -18-7 -20 6z"/><path color="#2f0" d="M812 2771l20-6 -18-7 -20 6z"/><path color="#2f0" d="M850 2772l20-5 -18-7 -20 5z"/><path color="#2f0" d="M832 2765l20-5 -18-7 -20 5z"/><path class="m" d="M830.3 2778.8l39.8-11.5 -36.2-14.3 -39.8 10.6z"/><path color="#2f0" d="M754 2779l20-8 -18-9 -20 9z"/><path color="#2f0" d="M736 2771l20-9 -18-9 -20 8z"/><path color="#2f0" d="M774 2771l20-7 -18-9 -20 7z"/><path color="#2f0" d="M756 2762l20-7 -18-8 -20 6z"/><path class="m" d="M753.9 2779.3l40.2-15.7 -35.8-16.9 -40.2 14.7z"/><path color="#0f5" d="M1558 2831l17 12 -20 5 -18-11z"/><path color="#0f6" d="M1537 2837l18 11 -21 5 -17-12z"/><path color="#0f7" d="M1575 2843l18 13 -21 5 -17-13z"/><path color="#0f9" d="M1555 2848l17 13 -21 5 -17-13z"/><path class="m" d="M1558 2831.2l34.5 24.5 -41.1 10.7 -34.6-25z"/><path color="#0f4" d="M1481 2821l18 10 -20 4 -18-10z"/><path color="#0f5" d="M1461 2825l18 10 -20 3 -18-9z"/><path color="#0f6" d="M1499 2831l18 10 -21 5 -17-11z"/><path color="#0f7" d="M1479 2835l17 11 -20 4 -17-12z"/><path class="m" d="M1481.5 2820.9l35.3 20.5 -40.6 8.2 -35.3-21.1z"/><path color="#0f2" d="M1405 2812l18 8 -20 3 -18-8z"/><path color="#0f3" d="M1385 2815l18 8 -20 2 -18-8z"/><path color="#0f4" d="M1423 2820l18 9 -20 3 -18-9z"/><path color="#0f5" d="M1403 2823l18 9 -20 2 -18-9z"/><path class="m" d="M1404.8 2812.1l36.1 16.4 -40 5.7 -36.1-17.1z"/><path color="#0f1" d="M1328 2805l19 5 -20 2 -19-6z"/><path color="#0f2" d="M1308 2806l19 6 -20 1 -18-6z"/><path color="#0f3" d="M1347 2810l18 7 -20 2 -18-7z"/><path color="#0f4" d="M1327 2812l18 7 -20 1 -18-7z"/><path class="m" d="M1328.1 2804.8l36.7 12.3 -39.4 3.2 -36.7-13.1z"/><path color="#0f0" d="M1251 2799l19 4 -19 0 -19-4z"/><path color="#0f1" d="M1232 2799l19 4 -20 0 -19-4z"/><path color="#0f1" d="M1270 2803l19 4 -20 1 -18-5z"/><path color="#0f2" d="M1251 2803l18 5 -19 0 -19-5z"/><path class="m" d="M1251.3 2799l37.4 8.2 -39 .6 -37.3-9z"/><path color="#0f0" d="M1174 2795l20 1 -20-1 -19-2z"/><path color="#0f0" d="M1155 2793l19 2 -19-1 -19-2z"/><path color="#0f0" d="M1194 2796l18 3 -19-1 -19-3z"/><path color="#0f1" d="M1174 2795l19 3 -19-1 -19-3z"/><path class="m" d="M1174.5 2794.7l37.9 4.1 -38.4-2.1 -38-4.9z"/><path color="#1f0" d="M1098 2792l19-1 -19-2 -19 0z"/><path color="#1f0" d="M1079 2789l19 0 -19-3 -19 0z"/><path color="#0f0" d="M1117 2791l19 1 -19-2 -19-1z"/><path color="#0f0" d="M1098 2789l19 1 -19-3 -19-1z"/><path class="m" d="M1097.6 2791.8l38.4 0 -37.9-4.6 -38.4-.9z"/><path color="#1f0" d="M1021 2791l19-3 -19-4 -19 3z"/><path color="#1f0" d="M1002 2787l19-3 -18-4 -20 2z"/><path color="#1f0" d="M1040 2788l20-2 -19-3 -20 1z"/><path color="#1f0" d="M1021 2784l20-1 -19-4 -19 1z"/><path class="m" d="M1020.7 2790.5l39-4.2 -37.5-7.2 -39 3.3z"/><path color="#1f0" d="M944 2791l20-5 -19-5 -20 4z"/><path color="#1f0" d="M925 2785l20-4 -18-5 -20 4z"/><path color="#1f0" d="M964 2786l19-4 -18-4 -20 3z"/><path color="#1f0" d="M945 2781l20-3 -19-6 -19 4z"/><path class="m" d="M943.8 2790.7l39.4-8.3 -37-10 -39.4 7.4z"/><path color="#1f0" d="M713 2800l21-11 -18-9 -21 11z"/><path color="#1f0" d="M695 2791l21-11 -18-9 -20 10z"/><path color="#1f0" d="M734 2789l20-10 -18-8 -20 9z"/><path color="#2f0" d="M716 2780l20-9 -18-10 -20 10z"/><path class="m" d="M713.3 2800.2l40.6-20.9 -35.8-17.9 -40.6 19.8z"/><path color="#1f0" d="M867 2792l20-7 -18-6 -20 7z"/><path color="#1f0" d="M849 2786l20-7 -19-7 -20 7z"/><path color="#1f0" d="M887 2785l20-5 -19-6 -19 5z"/><path color="#1f0" d="M869 2779l19-5 -18-7 -20 5z"/><path class="m" d="M866.9 2792.3l39.9-12.5 -36.7-12.5 -39.8 11.5z"/><path color="#1f0" d="M790 2796l20-9 -18-8 -20 9z"/><path color="#1f0" d="M772 2788l20-9 -18-8 -20 8z"/><path color="#1f0" d="M810 2787l20-8 -18-8 -20 8z"/><path color="#2f0" d="M792 2779l20-8 -18-7 -20 7z"/><path class="m" d="M790.1 2795.5l40.2-16.7 -36.2-15.2 -40.2 15.7z"/><path color="#0f2" d="M1600 2819l17 11 -21 7 -17-12z"/><path color="#0f4" d="M1579 2825l17 12 -21 6 -17-12z"/><path color="#0f4" d="M1617 2830l17 13 -21 7 -17-13z"/><path color="#0f6" d="M1596 2837l17 13 -20 6 -18-13z"/><path class="m" d="M1599.8 2818.9l34.5 24 -41.8 12.8 -34.5-24.5z"/><path color="#0f1" d="M1523 2811l17 10 -20 5 -18-10z"/><path color="#0f2" d="M1502 2816l18 10 -21 5 -18-10z"/><path color="#0f3" d="M1540 2821l18 10 -21 6 -17-11z"/><path color="#0f4" d="M1520 2826l17 11 -20 4 -18-10z"/><path class="m" d="M1522.7 2811.2l35.3 20 -41.2 10.2 -35.3-20.5z"/><path color="#0f0" d="M1445 2805l19 7 -21 4 -18-7z"/><path color="#0f1" d="M1425 2809l18 7 -20 4 -18-8z"/><path color="#0f2" d="M1464 2812l17 9 -20 4 -18-9z"/><path color="#0f3" d="M1443 2816l18 9 -20 4 -18-9z"/><path class="m" d="M1445.5 2805.1l36 15.8 -40.6 7.6 -36.1-16.4z"/><path color="#1f0" d="M1368 2800l19 6 -20 2 -19-5z"/><path color="#0f0" d="M1348 2803l19 5 -20 2 -19-5z"/><path color="#0f1" d="M1387 2806l18 6 -20 3 -18-7z"/><path color="#0f2" d="M1367 2808l18 7 -20 2 -18-7z"/><path class="m" d="M1368.2 2800.4l36.6 11.7 -40 5 -36.7-12.3z"/><path color="#0f0" d="M672 2826l21-13 -18-10 -20 13z"/><path color="#0f0" d="M655 2816l20-13 -18-10 -20 13z"/><path color="#0f0" d="M693 2813l20-13 -18-9 -20 12z"/><path color="#1f0" d="M675 2803l20-12 -17-10 -21 12z"/><path class="m" d="M672.5 2826.2l40.8-26 -35.8-19 -40.8 25.1z"/><path color="#1f0" d="M1291 2797l19 3 -20 2 -19-4z"/><path color="#1f0" d="M1271 2798l19 4 -20 1 -19-4z"/><path color="#0f0" d="M1310 2800l18 5 -20 1 -18-4z"/><path color="#0f1" d="M1290 2802l18 4 -19 1 -19-4z"/><path class="m" d="M1290.8 2797.3l37.3 7.5 -39.4 2.4 -37.4-8.2z"/><path color="#0f0" d="M750 2817l20-11 -18-8 -21 11z"/><path color="#1f0" d="M731 2809l21-11 -18-9 -21 11z"/><path color="#1f0" d="M770 2806l20-10 -18-8 -20 10z"/><path color="#1f0" d="M752 2798l20-10 -18-9 -20 10z"/><path class="m" d="M749.5 2817.4l40.6-21.9 -36.2-16.2 -40.6 20.9z"/><path color="#2f0" d="M1213 2796l19 1 -19 0 -19-2z"/><path color="#1f0" d="M1194 2795l19 2 -19-1 -20-1z"/><path color="#1f0" d="M1232 2797l19 2 -19 0 -19-2z"/><path color="#0f0" d="M1213 2797l19 2 -20 0 -18-3z"/><path class="m" d="M1213.5 2795.6l37.8 3.4 -38.9-.2 -37.9-4.1z"/><path color="#1f0" d="M827 2810l20-9 -18-7 -21 9z"/><path color="#1f0" d="M808 2803l21-9 -19-7 -20 9z"/><path color="#1f0" d="M847 2801l20-9 -18-6 -20 8z"/><path color="#1f0" d="M829 2794l20-8 -19-7 -20 8z"/><path class="m" d="M826.7 2810l40.2-17.7 -36.6-13.5 -40.2 16.7z"/><path color="#2f0" d="M1136 2796l19-2 -19-1 -19 1z"/><path color="#1f0" d="M1117 2794l19-1 -19-2 -19 1z"/><path color="#1f0" d="M1155 2794l19 1 -19-2 -19 0z"/><path color="#1f0" d="M1136 2793l19 0 -19-1 -19-1z"/><path class="m" d="M1136 2795.5l38.5-.8 -38.5-2.9 -38.4 0z"/><path color="#1f0" d="M904 2804l20-7 -19-6 -20 7z"/><path color="#1f0" d="M885 2798l20-7 -18-6 -20 7z"/><path color="#1f0" d="M924 2797l20-6 -19-6 -20 6z"/><path color="#1f0" d="M905 2791l20-6 -18-5 -20 5z"/><path class="m" d="M904 2804.1l39.8-13.4 -37-10.9 -39.9 12.5z"/><path color="#2f0" d="M1059 2797l19-3 -19-3 -19 3z"/><path color="#1f0" d="M1040 2794l19-3 -19-3 -19 3z"/><path color="#1f0" d="M1078 2794l20-2 -19-3 -20 2z"/><path color="#1f0" d="M1059 2791l20-2 -19-3 -20 2z"/><path class="m" d="M1058.7 2796.9l38.9-5.1 -37.9-5.5 -39 4.2z"/><path color="#2f0" d="M981 2800l20-6 -19-4 -20 5z"/><path color="#1f0" d="M962 2795l20-5 -18-4 -20 5z"/><path color="#1f0" d="M1001 2794l20-3 -19-4 -20 3z"/><path color="#1f0" d="M982 2790l20-3 -19-5 -19 4z"/><path class="m" d="M981.3 2799.8l39.4-9.3 -37.5-8.1 -39.4 8.3z"/><path color="#0f3" d="M631 2858l21-17 -18-10 -21 16z"/><path color="#0f2" d="M613 2847l21-16 -18-10 -20 16z"/><path color="#0f1" d="M652 2841l20-15 -17-10 -21 15z"/><path color="#0f1" d="M634 2831l21-15 -18-10 -21 15z"/><path class="m" d="M631.3 2857.6l41.2-31.4 -35.8-19.9 -41.1 30.3z"/><path color="#1f0" d="M1642 2805l18 11 -22 7 -17-11z"/><path color="#0f0" d="M1621 2812l17 11 -21 7 -17-11z"/><path color="#0f1" d="M1660 2816l17 12 -22 8 -17-13z"/><path color="#0f3" d="M1638 2823l17 13 -21 7 -17-13z"/><path class="m" d="M1642.4 2804.5l34.4 23.5 -42.5 14.9 -34.5-24z"/><path color="#0f1" d="M709 2845l20-15 -18-8 -20 14z"/><path color="#0f1" d="M691 2836l20-14 -18-9 -21 13z"/><path color="#0f0" d="M729 2830l21-13 -19-8 -20 13z"/><path color="#0f0" d="M711 2822l20-13 -18-9 -20 13z"/><path class="m" d="M708.7 2844.5l40.8-27.1 -36.2-17.2 -40.8 26z"/><path color="#2f0" d="M1565 2800l17 9 -21 6 -17-9z"/><path color="#0f0" d="M1544 2806l17 9 -21 6 -17-10z"/><path color="#0f0" d="M1582 2809l18 10 -21 6 -18-10z"/><path color="#0f1" d="M1561 2815l18 10 -21 6 -18-10z"/><path class="m" d="M1564.6 2799.5l35.2 19.4 -41.8 12.3 -35.3-20z"/><path color="#0f0" d="M786 2833l20-12 -18-7 -20 11z"/><path color="#0f0" d="M768 2825l20-11 -18-8 -20 11z"/><path color="#1f0" d="M806 2821l21-11 -19-7 -20 11z"/><path color="#1f0" d="M788 2814l20-11 -18-7 -20 10z"/><path class="m" d="M786.1 2832.9l40.6-22.9 -36.6-14.5 -40.6 21.9z"/><path color="#2f0" d="M1487 2796l18 7 -21 5 -18-7z"/><path color="#1f0" d="M1466 2801l18 7 -20 4 -19-7z"/><path color="#1f0" d="M1505 2803l18 8 -21 5 -18-8z"/><path color="#0f0" d="M1484 2808l18 8 -21 5 -17-9z"/><path class="m" d="M1486.8 2796.1l35.9 15.1 -41.2 9.7 -36-15.8z"/><path color="#1f0" d="M864 2823l20-10 -19-6 -20 10z"/><path color="#1f0" d="M845 2817l20-10 -18-6 -20 9z"/><path color="#1f0" d="M884 2813l20-9 -19-6 -20 9z"/><path color="#1f0" d="M865 2807l20-9 -18-6 -20 9z"/><path class="m" d="M863.7 2822.8l40.3-18.7 -37.1-11.8 -40.2 17.7z"/><path color="#2f0" d="M1409 2794l18 5 -20 4 -19-5z"/><path color="#2f0" d="M1388 2798l19 5 -20 3 -19-6z"/><path color="#1f0" d="M1427 2799l18 6 -20 4 -18-6z"/><path color="#0f0" d="M1407 2803l18 6 -20 3 -18-6z"/><path class="m" d="M1408.9 2794.1l36.6 11 -40.7 7 -36.6-11.7z"/><path color="#2f0" d="M941 2814l20-8 -18-4 -20 7z"/><path color="#1f0" d="M923 2809l20-7 -19-5 -20 7z"/><path color="#2f0" d="M961 2806l20-6 -19-5 -19 7z"/><path color="#1f0" d="M943 2802l19-7 -18-4 -20 6z"/><path class="m" d="M941.4 2814.1l39.9-14.3 -37.5-9.1 -39.8 13.4z"/><path color="#3f0" d="M1331 2794l19 2 -20 3 -19-3z"/><path color="#2f0" d="M1311 2796l19 3 -20 1 -19-3z"/><path color="#2f0" d="M1350 2796l18 4 -20 3 -18-4z"/><path color="#1f0" d="M1330 2799l18 4 -20 2 -18-5z"/><path class="m" d="M1330.9 2793.7l37.3 6.7 -40.1 4.4 -37.3-7.5z"/><path color="#2f0" d="M1019 2807l20-6 -19-3 -20 6z"/><path color="#2f0" d="M1000 2804l20-6 -19-4 -20 6z"/><path color="#2f0" d="M1039 2801l20-4 -19-3 -20 4z"/><path color="#2f0" d="M1020 2798l20-4 -19-3 -20 3z"/><path class="m" d="M1019.2 2807l39.5-10.1 -38-6.4 -39.4 9.3z"/><path color="#3f0" d="M1253 2795l19 0 -20 1 -19-1z"/><path color="#2f0" d="M1233 2795l19 1 -20 1 -19-1z"/><path color="#2f0" d="M1272 2795l19 2 -20 1 -19-2z"/><path color="#1f0" d="M1252 2796l19 2 -20 1 -19-2z"/><path class="m" d="M1253 2794.7l37.8 2.6 -39.5 1.7 -37.8-3.4z"/><path color="#2f0" d="M1097 2801l20-3 -20-2 -19 3z"/><path color="#2f0" d="M1078 2799l19-3 -19-2 -19 3z"/><path color="#2f0" d="M1117 2798l19-2 -19-2 -20 2z"/><path color="#2f0" d="M1097 2796l20-2 -19-2 -20 2z"/><path class="m" d="M1097.1 2801.4l38.9-5.9 -38.4-3.7 -38.9 5.1z"/><path color="#3f0" d="M1175 2797l19-1 -19-1 -20 2z"/><path color="#2f0" d="M1155 2797l20-2 -20-1 -19 2z"/><path color="#2f0" d="M1194 2796l19 0 -19-1 -19 0z"/><path color="#2f0" d="M1175 2795l19 0 -20 0 -19-1z"/><path class="m" d="M1175 2797.3l38.5-1.7 -39-.9 -38.5 .8z"/><path color="#0f5" d="M590 2894l21-19 -18-10 -21 19z"/><path color="#0f5" d="M572 2884l21-19 -18-11 -21 18z"/><path color="#0f4" d="M611 2875l20-17 -18-11 -20 18z"/><path color="#0f3" d="M593 2865l20-18 -17-10 -21 17z"/><path class="m" d="M590 2894.4l41.3-36.8 -35.7-21 -41.4 35.6z"/><path color="#0f4" d="M667 2877l21-17 -18-9 -21 17z"/><path color="#0f3" d="M649 2868l21-17 -18-10 -21 17z"/><path color="#0f2" d="M688 2860l21-15 -18-9 -21 15z"/><path color="#0f2" d="M670 2851l21-15 -19-10 -20 15z"/><path class="m" d="M667.5 2877l41.2-32.5 -36.2-18.3 -41.2 31.4z"/><path color="#0f2" d="M745 2861l21-15 -19-7 -20 14z"/><path color="#0f1" d="M727 2853l20-14 -18-9 -20 15z"/><path color="#0f1" d="M766 2846l20-13 -18-8 -21 14z"/><path color="#0f1" d="M747 2839l21-14 -18-8 -21 13z"/><path class="m" d="M745.2 2861.1l40.9-28.2 -36.6-15.5 -40.8 27.1z"/><path color="#0f0" d="M823 2847l20-13 -18-6 -20 12z"/><path color="#0f0" d="M805 2840l20-12 -19-7 -20 12z"/><path color="#0f0" d="M843 2834l21-11 -19-6 -20 11z"/><path color="#0f0" d="M825 2828l20-11 -18-7 -21 11z"/><path class="m" d="M823.1 2846.7l40.6-23.9 -37-12.8 -40.6 22.9z"/><path color="#1f0" d="M901 2834l20-11 -18-5 -21 10z"/><path color="#1f0" d="M882 2828l21-10 -19-5 -20 10z"/><path color="#1f0" d="M921 2823l20-9 -18-5 -20 9z"/><path color="#1f0" d="M903 2818l20-9 -19-5 -20 9z"/><path class="m" d="M901.1 2833.8l40.3-19.7 -37.4-10 -40.3 18.7z"/><path color="#2f0" d="M979 2822l20-8 -19-4 -20 8z"/><path color="#2f0" d="M960 2818l20-8 -19-4 -20 8z"/><path color="#2f0" d="M999 2814l20-7 -19-3 -20 6z"/><path color="#2f0" d="M980 2810l20-6 -19-4 -20 6z"/><path class="m" d="M979.3 2822.4l39.9-15.4 -37.9-7.2 -39.9 14.3z"/><path color="#4f0" d="M1686 2788l17 11 -22 9 -17-11z"/><path color="#2f0" d="M1664 2797l17 11 -21 8 -18-11z"/><path color="#2f0" d="M1703 2799l17 12 -22 9 -17-12z"/><path color="#1f0" d="M1681 2808l17 12 -21 8 -17-12z"/><path class="m" d="M1685.7 2788l34.4 23 -43.3 17 -34.4-23.5z"/><path color="#3f0" d="M1058 2812l19-6 -19-2 -20 6z"/><path color="#2f0" d="M1038 2810l20-6 -19-3 -20 6z"/><path color="#3f0" d="M1077 2806l20-5 -19-2 -20 5z"/><path color="#2f0" d="M1058 2804l20-5 -19-2 -20 4z"/><path class="m" d="M1057.6 2812.5l39.5-11.1 -38.4-4.5 -39.5 10.1z"/><path color="#4f0" d="M1607 2786l18 9 -21 7 -18-9z"/><path color="#3f0" d="M1586 2793l18 9 -22 7 -17-9z"/><path color="#3f0" d="M1625 2795l17 10 -21 7 -17-10z"/><path color="#1f0" d="M1604 2802l17 10 -21 7 -18-10z"/><path class="m" d="M1607.2 2785.7l35.2 18.8 -42.6 14.4 -35.2-19.4z"/><path color="#3f0" d="M1136 2804l20-4 -20-1 -19 4z"/><path color="#3f0" d="M1117 2803l19-4 -19-1 -20 3z"/><path color="#3f0" d="M1156 2800l19-3 -20 0 -19 2z"/><path color="#3f0" d="M1136 2799l19-2 -19-1 -19 2z"/><path class="m" d="M1136 2804.1l39-6.8 -39-1.8 -38.9 5.9z"/><path color="#4f0" d="M1529 2785l18 7 -21 6 -18-7z"/><path color="#3f0" d="M1508 2791l18 7 -21 5 -18-7z"/><path color="#3f0" d="M1547 2792l18 8 -21 6 -18-8z"/><path color="#2f0" d="M1526 2798l18 8 -21 5 -18-8z"/><path class="m" d="M1528.7 2785l35.9 14.5 -41.9 11.7 -35.9-15.1z"/><path color="#4f0" d="M1215 2797l19-2 -20 1 -19 1z"/><path color="#3f0" d="M1195 2797l19-1 -20 0 -19 1z"/><path color="#3f0" d="M1234 2795l19 0 -20 0 -19 1z"/><path color="#3f0" d="M1214 2796l19-1 -20 1 -19 0z"/><path class="m" d="M1214.5 2797.2l38.5-2.5 -39.5 .9 -38.5 1.7z"/><path color="#4f0" d="M1450 2786l19 4 -21 5 -19-5z"/><path color="#3f0" d="M1429 2790l19 5 -21 4 -18-5z"/><path color="#3f0" d="M1469 2790l18 6 -21 5 -18-6z"/><path color="#2f0" d="M1448 2795l18 6 -21 4 -18-6z"/><path class="m" d="M1450.2 2785.7l36.6 10.4 -41.3 9 -36.6-11z"/><path color="#4f0" d="M1293 2792l19 0 -20 2 -19 0z"/><path color="#3f0" d="M1273 2794l19 0 -20 1 -19 0z"/><path color="#3f0" d="M1312 2792l19 2 -20 2 -19-2z"/><path color="#3f0" d="M1292 2794l19 2 -20 1 -19-2z"/><path class="m" d="M1293.1 2791.8l37.8 1.9 -40.1 3.6 -37.8-2.6z"/><path color="#4f0" d="M1372 2788l18 2 -20 4 -19-3z"/><path color="#3f0" d="M1351 2791l19 3 -20 2 -19-2z"/><path color="#3f0" d="M1390 2790l19 4 -21 4 -18-4z"/><path color="#3f0" d="M1370 2794l18 4 -20 2 -18-4z"/><path class="m" d="M1371.6 2788l37.3 6.1 -40.7 6.3 -37.3-6.7z"/><path color="#0f9" d="M548 2936l21-21 -18-11 -21 21z"/><path color="#0f8" d="M530 2925l21-21 -18-12 -20 21z"/><path color="#0f7" d="M569 2915l21-21 -18-10 -21 20z"/><path color="#0f6" d="M551 2904l21-20 -18-12 -21 20z"/><path class="m" d="M548.4 2936.5l41.6-42.1 -35.8-22.2 -41.5 41z"/><path color="#0f6" d="M626 2915l21-20 -18-10 -21 20z"/><path color="#0f6" d="M608 2905l21-20 -18-10 -21 19z"/><path color="#0f5" d="M647 2895l20-18 -18-9 -20 17z"/><path color="#0f4" d="M629 2885l20-17 -18-10 -20 17z"/><path class="m" d="M626 2914.8l41.5-37.8 -36.2-19.4 -41.3 36.8z"/><path color="#0f4" d="M704 2895l21-18 -19-8 -20 17z"/><path color="#0f4" d="M686 2886l20-17 -18-9 -21 17z"/><path color="#0f3" d="M725 2877l20-16 -18-8 -21 16z"/><path color="#0f3" d="M706 2869l21-16 -18-8 -21 15z"/><path class="m" d="M704 2894.7l41.2-33.6 -36.5-16.6 -41.2 32.5z"/><path color="#0f2" d="M782 2876l21-15 -19-7 -20 15z"/><path color="#0f2" d="M764 2869l20-15 -18-8 -21 15z"/><path color="#0f1" d="M803 2861l20-14 -18-7 -21 14z"/><path color="#0f1" d="M784 2854l21-14 -19-7 -20 13z"/><path class="m" d="M782.1 2875.9l41-29.2 -37-13.8 -40.9 28.2z"/><path color="#0f0" d="M860 2859l21-13 -19-6 -20 13z"/><path color="#0f0" d="M842 2853l20-13 -19-6 -20 13z"/><path color="#0f0" d="M881 2846l20-12 -19-6 -20 12z"/><path color="#0f0" d="M862 2840l20-12 -18-5 -21 11z"/><path class="m" d="M860.5 2858.7l40.6-24.9 -37.4-11 -40.6 23.9z"/><path color="#0fd" d="M507 2984l20-24 -17-12 -21 24z"/><path color="#0fc" d="M489 2972l21-24 -18-12 -21 24z"/><path color="#0fb" d="M527 2960l21-24 -18-11 -20 23z"/><path color="#0fa" d="M510 2948l20-23 -17-12 -21 23z"/><path class="m" d="M506.6 2984l41.8-47.5 -35.7-23.3 -41.8 46.4z"/><path color="#1f0" d="M939 2843l20-11 -19-4 -20 11z"/><path color="#1f0" d="M920 2839l20-11 -19-5 -20 11z"/><path color="#2f0" d="M959 2832l20-10 -19-4 -20 10z"/><path color="#1f0" d="M940 2828l20-10 -19-4 -20 9z"/><path class="m" d="M939 2843l40.3-20.6 -37.9-8.3 -40.3 19.7z"/><path color="#2f0" d="M1018 2829l20-9 -20-3 -20 9z"/><path color="#2f0" d="M998 2826l20-9 -19-3 -20 8z"/><path color="#3f0" d="M1038 2820l20-8 -20-2 -20 7z"/><path color="#2f0" d="M1018 2817l20-7 -19-3 -20 7z"/><path class="m" d="M1017.7 2828.8l39.9-16.3 -38.4-5.5 -39.9 15.4z"/><path color="#0fa" d="M584 2958l21-22 -18-11 -21 22z"/><path color="#0fa" d="M566 2947l21-22 -18-10 -21 21z"/><path color="#0f8" d="M605 2936l21-21 -18-10 -21 20z"/><path color="#0f8" d="M587 2925l21-20 -18-11 -21 21z"/><path class="m" d="M584.4 2958.1l41.6-43.3 -36-20.4 -41.6 42.1z"/><path color="#3f0" d="M1097 2816l19-7 -19-1 -20 6z"/><path color="#3f0" d="M1077 2814l20-6 -20-2 -19 6z"/><path color="#3f0" d="M1116 2809l20-5 -19-1 -20 5z"/><path color="#3f0" d="M1097 2808l20-5 -20-2 -20 5z"/><path class="m" d="M1096.6 2816l39.4-11.9 -38.9-2.7 -39.5 11.1z"/><path color="#4f0" d="M1176 2805l19-5 -20 0 -19 5z"/><path color="#4f0" d="M1156 2805l19-5 -19 0 -20 4z"/><path color="#4f0" d="M1195 2800l20-3 -20 0 -20 3z"/><path color="#4f0" d="M1175 2800l20-3 -20 0 -19 3z"/><path class="m" d="M1175.5 2804.8l39-7.6 -39.5 .1 -39 6.8z"/><path color="#5f0" d="M1255 2795l19-2 -20 1 -20 2z"/><path color="#4f0" d="M1234 2796l20-2 -20 1 -19 2z"/><path color="#5f0" d="M1274 2793l19-1 -20 2 -19 0z"/><path color="#4f0" d="M1254 2794l19 0 -20 1 -19 0z"/><path class="m" d="M1254.6 2795.1l38.5-3.3 -40.1 2.9 -38.5 2.5z"/><path color="#6f0" d="M1334 2787l19 0 -21 3 -19 0z"/><path color="#5f0" d="M1313 2790l19 0 -20 2 -19 0z"/><path color="#5f0" d="M1353 2787l19 1 -21 3 -19-1z"/><path color="#4f0" d="M1332 2790l19 1 -20 3 -19-2z"/><path class="m" d="M1333.7 2787l37.9 1 -40.7 5.7 -37.8-1.9z"/><path color="#6f0" d="M1730 2769l17 11 -22 10 -17-11z"/><path color="#5f0" d="M1708 2779l17 11 -22 9 -17-11z"/><path color="#5f0" d="M1747 2780l17 12 -22 10 -17-12z"/><path color="#3f0" d="M1725 2790l17 12 -22 9 -17-12z"/><path class="m" d="M1729.7 2769.3l34.4 22.5 -44 19.2 -34.4-23z"/><path color="#0f7" d="M662 2934l21-21 -18-8 -21 19z"/><path color="#0f7" d="M644 2924l21-19 -18-10 -21 20z"/><path color="#0f6" d="M683 2913l21-18 -18-9 -21 19z"/><path color="#0f5" d="M665 2905l21-19 -19-9 -20 18z"/><path class="m" d="M662.5 2933.6l41.5-38.9 -36.5-17.7 -41.5 37.8z"/><path color="#6f0" d="M1413 2780l19 2 -21 5 -19-3z"/><path color="#5f0" d="M1392 2784l19 3 -21 3 -18-2z"/><path color="#5f0" d="M1432 2782l18 4 -21 4 -18-3z"/><path color="#4f0" d="M1411 2787l18 3 -20 4 -19-4z"/><path class="m" d="M1412.9 2780.4l37.3 5.3 -41.3 8.4 -37.3-6.1z"/><path color="#7f0" d="M1651 2770l17 8 -22 9 -17-9z"/><path color="#5f0" d="M1629 2778l17 9 -21 8 -18-9z"/><path color="#5f0" d="M1668 2778l18 10 -22 9 -18-10z"/><path color="#4f0" d="M1646 2787l18 10 -22 8 -17-10z"/><path class="m" d="M1650.6 2769.7l35.1 18.3 -43.3 16.5 -35.2-18.8z"/><path color="#6f0" d="M1492 2775l19 4 -22 6 -18-4z"/><path color="#5f0" d="M1471 2781l18 4 -20 5 -19-4z"/><path color="#5f0" d="M1511 2779l18 6 -21 6 -19-6z"/><path color="#4f0" d="M1489 2785l19 6 -21 5 -18-6z"/><path class="m" d="M1492.1 2775.3l36.6 9.7 -41.9 11.1 -36.6-10.4z"/><path color="#7f0" d="M1571 2772l18 6 -21 7 -18-6z"/><path color="#5f0" d="M1550 2779l18 6 -21 7 -18-7z"/><path color="#5f0" d="M1589 2778l18 8 -21 7 -18-8z"/><path color="#4f0" d="M1568 2785l18 8 -21 7 -18-8z"/><path class="m" d="M1571.4 2771.7l35.8 14 -42.6 13.8 -35.9-14.5z"/><path color="#0f5" d="M741 2911l21-18 -19-8 -21 18z"/><path color="#0f4" d="M722 2903l21-18 -18-8 -21 18z"/><path color="#0f3" d="M762 2893l20-17 -18-7 -21 16z"/><path color="#0f3" d="M743 2885l21-16 -19-8 -20 16z"/><path class="m" d="M740.9 2910.6l41.2-34.7 -36.9-14.8 -41.2 33.6z"/><path color="#0df" d="M465 3037l21-27 -18-13 -21 27z"/><path color="#0df" d="M447 3024l21-27 -18-12 -21 26z"/><path color="#0ff" d="M486 3010l21-26 -18-12 -21 25z"/><path color="#0ff" d="M468 2997l21-25 -18-12 -21 25z"/><path class="m" d="M464.7 3037l41.9-53 -35.7-24.4 -41.8 51.7z"/><path color="#0f2" d="M819 2889l21-16 -19-6 -20 16z"/><path color="#0f2" d="M801 2883l20-16 -18-6 -21 15z"/><path color="#0f1" d="M840 2873l20-14 -18-6 -21 14z"/><path color="#0f1" d="M821 2867l21-14 -19-6 -20 14z"/><path class="m" d="M819.5 2889l41-30.3 -37.4-12 -41 29.2z"/><path color="#0fe" d="M543 3007l21-25 -19-11 -20 25z"/><path color="#0fe" d="M525 2996l20-25 -18-11 -20 24z"/><path color="#0fc" d="M564 2982l20-24 -18-11 -21 24z"/><path color="#0fc" d="M545 2971l21-24 -18-11 -21 24z"/><path class="m" d="M542.6 3006.8l41.8-48.7 -36-21.6 -41.8 47.5z"/><path color="#0f0" d="M898 2869l21-14 -19-4 -21 13z"/><path color="#0f0" d="M879 2864l21-13 -19-5 -21 13z"/><path color="#1f0" d="M919 2855l20-12 -19-4 -20 12z"/><path color="#1f0" d="M900 2851l20-12 -19-5 -20 12z"/><path class="m" d="M898.3 2869l40.7-26 -37.9-9.2 -40.6 24.9z"/><path color="#2f0" d="M977 2850l21-11 -20-3 -20 11z"/><path color="#1f0" d="M958 2847l20-11 -19-4 -20 11z"/><path color="#2f0" d="M998 2839l20-10 -20-3 -20 10z"/><path color="#2f0" d="M978 2836l20-10 -19-4 -20 10z"/><path class="m" d="M977.4 2850.4l40.3-21.6 -38.4-6.4 -40.3 20.6z"/><path color="#0fb" d="M621 2978l21-23 -19-9 -20 22z"/><path color="#0fb" d="M603 2968l20-22 -18-10 -21 22z"/><path color="#0f9" d="M642 2955l20-21 -18-10 -21 22z"/><path color="#0f9" d="M623 2946l21-22 -18-9 -21 21z"/><path class="m" d="M620.8 2978l41.7-44.4 -36.5-18.8 -41.6 43.3z"/><path color="#3f0" d="M1057 2833l20-9 -20-2 -20 9z"/><path color="#3f0" d="M1037 2831l20-9 -19-2 -20 9z"/><path color="#3f0" d="M1077 2824l20-8 -20-2 -20 8z"/><path color="#3f0" d="M1057 2822l20-8 -19-2 -20 8z"/><path class="m" d="M1056.6 2833.3l40-17.3 -39-3.5 -39.9 16.3z"/><path color="#08f" d="M423 3095l21-30 -18-12 -21 29z"/><path color="#09f" d="M405 3082l21-29 -18-14 -21 30z"/><path color="#0af" d="M444 3065l21-28 -18-13 -21 29z"/><path color="#0bf" d="M426 3053l21-29 -18-13 -21 28z"/><path class="m" d="M422.7 3095.4l42-58.4 -35.6-25.7 -41.9 57.2z"/><path color="#4f0" d="M1136 2818l20-7 -20-1 -20 7z"/><path color="#4f0" d="M1116 2817l20-7 -20-1 -19 7z"/><path color="#4f0" d="M1156 2811l20-6 -20 0 -20 5z"/><path color="#4f0" d="M1136 2810l20-5 -20-1 -20 5z"/><path class="m" d="M1136 2817.7l39.5-12.9 -39.5-.7 -39.4 11.9z"/><path color="#0f8" d="M699 2951l21-21 -18-8 -21 20z"/><path color="#0f8" d="M681 2942l21-20 -19-9 -21 21z"/><path color="#0f6" d="M720 2930l21-19 -19-8 -20 19z"/><path color="#0f6" d="M702 2922l20-19 -18-8 -21 18z"/><path class="m" d="M699.3 2950.7l41.6-40.1 -36.9-15.9 -41.5 38.9z"/><path color="#5f0" d="M1216 2804l19-5 -20 1 -19 4z"/><path color="#5f0" d="M1196 2804l19-4 -20 0 -19 5z"/><path color="#5f0" d="M1235 2799l20-4 -21 1 -19 4z"/><path color="#5f0" d="M1215 2800l19-4 -19 1 -20 3z"/><path class="m" d="M1215.6 2803.6l39-8.5 -40.1 2.1 -39 7.6z"/><path color="#6f0" d="M1295 2791l20-3 -21 3 -19 2z"/><path color="#6f0" d="M1275 2793l19-2 -20 2 -19 2z"/><path color="#6f0" d="M1315 2788l19-1 -21 3 -19 1z"/><path color="#5f0" d="M1294 2791l19-1 -20 2 -19 1z"/><path class="m" d="M1295.3 2791.1l38.4-4.1 -40.6 4.8 -38.5 3.3z"/><path color="#0bf" d="M501 3061l21-28 -18-11 -21 27z"/><path color="#0cf" d="M483 3049l21-27 -18-12 -21 27z"/><path color="#0ef" d="M522 3033l21-26 -18-11 -21 26z"/><path color="#0ef" d="M504 3022l21-26 -18-12 -21 26z"/><path class="m" d="M500.6 3061l42-54.2 -36-22.8 -41.9 53z"/><path color="#0f5" d="M778 2925l21-19 -19-6 -21 18z"/><path color="#0f5" d="M759 2918l21-18 -18-7 -21 18z"/><path color="#0f3" d="M799 2906l20-17 -18-6 -21 17z"/><path color="#0f3" d="M780 2900l21-17 -19-7 -20 17z"/><path class="m" d="M778.2 2924.8l41.3-35.8 -37.4-13.1 -41.2 34.7z"/><path color="#7f0" d="M1375 2780l19 0 -21 3 -19 1z"/><path color="#6f0" d="M1354 2784l19-1 -20 4 -19 0z"/><path color="#7f0" d="M1394 2780l19 0 -21 4 -19-1z"/><path color="#6f0" d="M1373 2783l19 1 -20 4 -19-1z"/><path class="m" d="M1375 2780.1l37.9 .3 -41.3 7.6 -37.9-1z"/><path color="#8f0" d="M1455 2771l19 1 -21 6 -19-2z"/><path color="#7f0" d="M1434 2776l19 2 -21 4 -19-2z"/><path color="#7f0" d="M1474 2772l18 3 -21 6 -18-3z"/><path color="#6f0" d="M1453 2778l18 3 -21 5 -18-4z"/><path class="m" d="M1454.9 2770.6l37.2 4.7 -41.9 10.4 -37.3-5.3z"/><path color="#9f0" d="M1535 2763l18 4 -21 6 -19-4z"/><path color="#7f0" d="M1513 2769l19 4 -21 6 -19-4z"/><path color="#8f0" d="M1553 2767l18 5 -21 7 -18-6z"/><path color="#6f0" d="M1532 2773l18 6 -21 6 -18-6z"/><path class="m" d="M1534.8 2762.7l36.6 9 -42.7 13.3 -36.6-9.7z"/><path color="#9f0" d="M1615 2756l18 6 -22 9 -18-7z"/><path color="#8f0" d="M1593 2764l18 7 -22 7 -18-6z"/><path color="#8f0" d="M1633 2762l18 8 -22 8 -18-7z"/><path color="#7f0" d="M1611 2771l18 7 -22 8 -18-8z"/><path class="m" d="M1614.7 2756.3l35.9 13.4 -43.4 16 -35.8-14z"/><path color="#9f0" d="M1775 2748l17 11 -23 11 -17-11z"/><path color="#8f0" d="M1752 2759l17 11 -22 10 -17-11z"/><path color="#8f0" d="M1792 2759l17 11 -23 11 -17-11z"/><path color="#6f0" d="M1769 2770l17 11 -22 11 -17-12z"/><path class="m" d="M1774.6 2748.2l34.3 22.1 -44.8 21.5 -34.4-22.5z"/><path color="#9f0" d="M1695 2752l17 8 -22 9 -17-8z"/><path color="#8f0" d="M1673 2761l17 8 -22 9 -17-8z"/><path color="#8f0" d="M1712 2760l18 9 -22 10 -18-10z"/><path color="#7f0" d="M1690 2769l18 10 -22 9 -18-10z"/><path class="m" d="M1694.7 2751.5l35 17.8 -44 18.7 -35.1-18.3z"/><path color="#03f" d="M381 3159l21-32 -18-14 -21 32z"/><path color="#03f" d="M363 3145l21-32 -18-14 -21 32z"/><path color="#05f" d="M402 3127l21-32 -18-13 -21 31z"/><path color="#06f" d="M384 3113l21-31 -18-13 -21 30z"/><path class="m" d="M380.6 3159.3l42.1-63.9 -35.5-26.9 -42 62.7z"/><path color="#0f2" d="M857 2900l21-16 -19-5 -21 16z"/><path color="#0f2" d="M838 2895l21-16 -19-6 -21 16z"/><path color="#0f1" d="M878 2884l20-15 -19-5 -20 15z"/><path color="#0f1" d="M859 2879l20-15 -19-5 -20 14z"/><path class="m" d="M857.3 2900.3l41-31.3 -37.8-10.3 -41 30.3z"/><path color="#0ff" d="M579 3028l21-26 -18-10 -21 26z"/><path color="#0ff" d="M561 3018l21-26 -18-10 -21 25z"/><path color="#0fd" d="M600 3002l21-24 -18-10 -21 24z"/><path color="#0fd" d="M582 2992l21-24 -19-10 -20 24z"/><path class="m" d="M578.9 3027.9l41.9-49.9 -36.4-19.9 -41.8 48.7z"/><path color="#0f0" d="M937 2877l20-14 -19-4 -21 14z"/><path color="#0f0" d="M917 2873l21-14 -19-4 -21 14z"/><path color="#1f0" d="M957 2863l20-13 -19-3 -20 12z"/><path color="#1f0" d="M938 2859l20-12 -19-4 -20 12z"/><path class="m" d="M936.6 2877.4l40.8-27 -38.4-7.4 -40.7 26z"/><path color="#0fc" d="M658 2996l20-23 -18-9 -21 23z"/><path color="#0fb" d="M639 2987l21-23 -18-9 -21 23z"/><path color="#0fa" d="M678 2973l21-22 -18-9 -21 22z"/><path color="#0f9" d="M660 2964l21-22 -19-8 -20 21z"/><path class="m" d="M657.6 2996.2l41.7-45.5 -36.8-17.1 -41.7 44.4z"/><path color="#07f" d="M458 3121l22-31 -18-12 -21 30z"/><path color="#07f" d="M441 3108l21-30 -18-13 -21 30z"/><path color="#09f" d="M480 3090l21-29 -18-12 -21 29z"/><path color="#0af" d="M462 3078l21-29 -18-12 -21 28z"/><path class="m" d="M458.5 3120.6l42.1-59.6 -35.9-24 -42 58.4z"/><path color="#2f0" d="M1016 2856l21-12 -20-2 -20 11z"/><path color="#2f0" d="M997 2853l20-11 -19-3 -21 11z"/><path color="#3f0" d="M1037 2844l20-11 -20-2 -20 11z"/><path color="#2f0" d="M1017 2842l20-11 -19-2 -20 10z"/><path class="m" d="M1016.3 2855.9l40.3-22.6 -38.9-4.5 -40.3 21.6z"/><path color="#4f0" d="M1096 2836l20-10 -20-1 -20 10z"/><path color="#3f0" d="M1076 2835l20-10 -19-1 -20 9z"/><path color="#4f0" d="M1116 2826l20-8 -20-1 -20 8z"/><path color="#4f0" d="M1096 2825l20-8 -19-1 -20 8z"/><path class="m" d="M1096.1 2835.9l39.9-18.2 -39.4-1.7 -40 17.3z"/><path color="#0f8" d="M737 2966l20-21 -18-7 -21 21z"/><path color="#0f8" d="M718 2959l21-21 -19-8 -21 21z"/><path color="#0f6" d="M757 2945l21-20 -19-7 -20 20z"/><path color="#0f6" d="M739 2938l20-20 -18-7 -21 19z"/><path class="m" d="M736.6 2966l41.6-41.2 -37.3-14.2 -41.6 40.1z"/><path color="#0af" d="M537 3083l21-28 -18-11 -21 28z"/><path color="#0bf" d="M519 3072l21-28 -18-11 -21 28z"/><path color="#0df" d="M558 3055l21-27 -18-10 -21 26z"/><path color="#0df" d="M540 3044l21-26 -18-11 -21 26z"/><path class="m" d="M536.8 3083.3l42.1-55.4 -36.3-21.1 -42 54.2z"/><path color="#5f0" d="M1176 2817l20-7 -20 0 -20 8z"/><path color="#5f0" d="M1156 2818l20-8 -20 1 -20 7z"/><path color="#6f0" d="M1196 2810l20-6 -20 0 -20 6z"/><path color="#5f0" d="M1176 2810l20-6 -20 1 -20 6z"/><path class="m" d="M1176.1 2817.4l39.5-13.8 -40.1 1.2 -39.5 12.9z"/><path color="#7f0" d="M1256 2800l20-5 -21 2 -19 5z"/><path color="#6f0" d="M1236 2802l19-5 -20 2 -19 5z"/><path color="#7f0" d="M1276 2795l19-4 -20 2 -20 4z"/><path color="#6f0" d="M1255 2797l20-4 -20 2 -20 4z"/><path class="m" d="M1256.3 2800.5l39-9.4 -40.7 4 -39 8.5z"/><path color="#0f5" d="M816 2937l21-19 -19-6 -21 19z"/><path color="#0f5" d="M797 2931l21-19 -19-6 -21 19z"/><path color="#0f3" d="M837 2918l20-18 -19-5 -20 17z"/><path color="#0f3" d="M818 2912l20-17 -19-6 -20 17z"/><path class="m" d="M815.9 2937.2l41.4-36.9 -37.8-11.3 -41.3 35.8z"/><path color="#01f" d="M416 3186l21-34 -18-12 -21 33z"/><path color="#02f" d="M398 3173l21-33 -17-13 -21 32z"/><path color="#04f" d="M437 3152l21-31 -17-13 -22 32z"/><path color="#05f" d="M419 3140l22-32 -18-13 -21 32z"/><path class="m" d="M416.3 3185.7l42.2-65.1 -35.8-25.2 -42.1 63.9z"/><path color="#8f0" d="M1337 2785l19-3 -21 3 -19 3z"/><path color="#7f0" d="M1316 2788l19-3 -20 3 -20 3z"/><path color="#8f0" d="M1356 2782l19-2 -21 4 -19 1z"/><path color="#7f0" d="M1335 2785l19-1 -20 3 -19 1z"/><path class="m" d="M1336.6 2785l38.4-4.9 -41.3 6.9 -38.4 4.1z"/><path color="#0ef" d="M616 3047l21-26 -19-9 -21 26z"/><path color="#0ef" d="M597 3038l21-26 -18-10 -21 26z"/><path color="#0fe" d="M637 3021l21-25 -19-9 -21 25z"/><path color="#0fd" d="M618 3012l21-25 -18-9 -21 24z"/><path class="m" d="M615.6 3047.3l42-51.1 -36.8-18.2 -41.9 49.9z"/><path color="#9f0" d="M1417 2771l19-1 -21 5 -19 1z"/><path color="#8f0" d="M1396 2776l19-1 -21 5 -19 0z"/><path color="#9f0" d="M1436 2770l19 1 -21 5 -19-1z"/><path color="#8f0" d="M1415 2775l19 1 -21 4 -19 0z"/><path class="m" d="M1417 2771.1l37.9-.5 -42 9.8 -37.9-.3z"/><path color="#0f2" d="M896 2910l20-17 -19-4 -21 16z"/><path color="#0f2" d="M876 2905l21-16 -19-5 -21 16z"/><path color="#0f0" d="M916 2893l21-16 -20-4 -20 16z"/><path color="#0f1" d="M897 2889l20-16 -19-4 -20 15z"/><path class="m" d="M895.5 2909.8l41.1-32.4 -38.3-8.4 -41 31.3z"/><path color="#af0" d="M1498 2759l18 1 -21 6 -19-1z"/><path color="#9f0" d="M1476 2765l19 1 -21 6 -19-1z"/><path color="#9f0" d="M1516 2760l19 3 -22 6 -18-3z"/><path color="#8f0" d="M1495 2766l18 3 -21 6 -18-3z"/><path class="m" d="M1497.6 2758.8l37.2 3.9 -42.7 12.6 -37.2-4.7z"/><path color="#bf0" d="M1578 2748l19 4 -22 7 -19-3z"/><path color="#af0" d="M1556 2756l19 3 -22 8 -18-4z"/><path color="#af0" d="M1597 2752l18 4 -22 8 -18-5z"/><path color="#9f0" d="M1575 2759l18 5 -22 8 -18-5z"/><path class="m" d="M1578.2 2748l36.5 8.3 -43.3 15.4 -36.6-9z"/><path color="#cf0" d="M1659 2739l18 5 -22 10 -18-6z"/><path color="#af0" d="M1637 2748l18 6 -22 8 -18-6z"/><path color="#bf0" d="M1677 2744l18 8 -22 9 -18-7z"/><path color="#9f0" d="M1655 2754l18 7 -22 9 -18-8z"/><path class="m" d="M1658.9 2738.7l35.8 12.8 -44.1 18.2 -35.9-13.4z"/><path color="#06f" d="M495 3144l21-31 -18-11 -21 31z"/><path color="#06f" d="M477 3133l21-31 -18-12 -22 31z"/><path color="#08f" d="M516 3113l21-30 -18-11 -21 30z"/><path color="#09f" d="M498 3102l21-30 -18-11 -21 29z"/><path class="m" d="M494.7 3144.2l42.1-60.9 -36.2-22.3 -42.1 59.6z"/><path color="#cf0" d="M1740 2731l17 8 -22 11 -18-8z"/><path color="#bf0" d="M1717 2742l18 8 -23 10 -17-8z"/><path color="#bf0" d="M1757 2739l18 9 -23 11 -17-9z"/><path color="#9f0" d="M1735 2750l17 9 -22 10 -18-9z"/><path class="m" d="M1739.6 2731l35 17.2 -44.9 21.1 -35-17.8z"/><path color="#1f0" d="M975 2884l21-15 -20-3 -20 15z"/><path color="#1f0" d="M956 2881l20-15 -19-3 -20 14z"/><path color="#2f0" d="M996 2869l20-13 -19-3 -21 13z"/><path color="#1f0" d="M976 2866l21-13 -20-3 -20 13z"/><path class="m" d="M975.5 2883.9l40.8-28 -38.9-5.5 -40.8 27z"/><path color="#0fc" d="M695 3013l21-24 -19-8 -21 24z"/><path color="#0fc" d="M676 3005l21-24 -19-8 -20 23z"/><path color="#0fa" d="M716 2989l21-23 -19-7 -21 22z"/><path color="#0fa" d="M697 2981l21-22 -19-8 -21 22z"/><path class="m" d="M694.7 3012.7l41.9-46.7 -37.3-15.3 -41.7 45.5z"/><path color="#df0" d="M1820 2725l18 10 -23 12 -18-10z"/><path color="#bf0" d="M1797 2737l18 10 -23 12 -17-11z"/><path color="#bf0" d="M1838 2735l17 12 -23 12 -17-12z"/><path color="#9f0" d="M1815 2747l17 12 -23 11 -17-11z"/><path class="m" d="M1820.3 2724.9l34.2 21.6 -45.6 23.8 -34.3-22.1z"/><path color="#3f0" d="M1056 2860l20-13 -20-1 -20 12z"/><path color="#3f0" d="M1036 2858l20-12 -19-2 -21 12z"/><path color="#4f0" d="M1076 2847l20-11 -20-1 -20 11z"/><path color="#3f0" d="M1056 2846l20-11 -19-2 -20 11z"/><path class="m" d="M1055.6 2859.5l40.5-23.6 -39.5-2.6 -40.3 22.6z"/><path color="#0f8" d="M774 2980l21-22 -19-7 -21 22z"/><path color="#0f8" d="M755 2973l21-22 -19-6 -20 21z"/><path color="#0f6" d="M795 2958l21-21 -19-6 -21 20z"/><path color="#0f6" d="M776 2951l21-20 -19-6 -21 20z"/><path class="m" d="M774.2 2979.6l41.7-42.4 -37.7-12.4 -41.6 41.2z"/><path color="#0af" d="M573 3104l22-29 -19-10 -21 29z"/><path color="#0af" d="M555 3094l21-29 -18-10 -21 28z"/><path color="#0cf" d="M595 3075l21-28 -19-9 -21 27z"/><path color="#0cf" d="M576 3065l21-27 -18-10 -21 27z"/><path class="m" d="M573.4 3103.9l42.2-56.6 -36.7-19.4 -42.1 55.4z"/><path color="#5f0" d="M1136 2837l20-11 -20 0 -20 10z"/><path color="#4f0" d="M1116 2836l20-10 -20 0 -20 10z"/><path color="#5f0" d="M1156 2826l20-9 -20 1 -20 8z"/><path color="#5f0" d="M1136 2826l20-8 -20 0 -20 8z"/><path class="m" d="M1136 2836.6l40.1-19.2 -40.1 .3 -39.9 18.2z"/><path color="#00f" d="M452 3211l22-34 -19-12 -21 33z"/><path color="#01f" d="M434 3198l21-33 -18-13 -21 34z"/><path color="#03f" d="M474 3177l21-33 -18-11 -22 32z"/><path color="#03f" d="M455 3165l22-32 -19-12 -21 31z"/><path class="m" d="M452.4 3210.6l42.3-66.4 -36.2-23.6 -42.2 65.1z"/><path color="#7f0" d="M1217 2815l20-8 -21 2 -20 8z"/><path color="#6f0" d="M1196 2817l20-8 -20 1 -20 7z"/><path color="#7f0" d="M1237 2807l19-7 -20 2 -20 7z"/><path color="#6f0" d="M1216 2809l20-7 -20 2 -20 6z"/><path class="m" d="M1216.7 2815.2l39.6-14.7 -40.7 3.1 -39.5 13.8z"/><path color="#0f5" d="M854 2948l21-20 -19-5 -21 20z"/><path color="#0f5" d="M835 2943l21-20 -19-5 -21 19z"/><path color="#0f3" d="M875 2928l21-18 -20-5 -20 18z"/><path color="#0f3" d="M856 2923l20-18 -19-5 -20 18z"/><path class="m" d="M854.1 2947.8l41.4-38 -38.2-9.5 -41.4 36.9z"/><path color="#0ef" d="M653 3065l21-27 -19-8 -21 26z"/><path color="#0ef" d="M634 3056l21-26 -18-9 -21 26z"/><path color="#0fe" d="M674 3038l21-25 -19-8 -21 25z"/><path color="#0fe" d="M655 3030l21-25 -18-9 -21 25z"/><path class="m" d="M652.6 3065l42.1-52.3 -37.1-16.5 -42 51.1z"/><path color="#8f0" d="M1298 2795l19-6 -21 4 -19 5z"/><path color="#8f0" d="M1277 2798l19-5 -20 2 -20 5z"/><path color="#8f0" d="M1317 2789l20-4 -21 3 -20 5z"/><path color="#8f0" d="M1296 2793l20-5 -21 3 -19 4z"/><path class="m" d="M1297.5 2795.2l39.1-10.2 -41.3 6.1 -39 9.4z"/><path color="#0f1" d="M934 2917l21-17 -20-3 -20 17z"/><path color="#0f1" d="M915 2914l20-17 -19-4 -20 17z"/><path color="#0f0" d="M955 2900l20-16 -19-3 -21 16z"/><path color="#0f0" d="M935 2897l21-16 -19-4 -21 16z"/><path class="m" d="M934.3 2917.5l41.2-33.6 -38.9-6.5 -41.1 32.4z"/><path color="#af0" d="M1379 2777l19-4 -21 5 -20 3z"/><path color="#9f0" d="M1357 2781l20-3 -21 4 -19 3z"/><path color="#af0" d="M1398 2773l19-2 -21 5 -19 2z"/><path color="#9f0" d="M1377 2778l19-2 -21 4 -19 2z"/><path class="m" d="M1378.5 2776.9l38.5-5.8 -42 9 -38.4 4.9z"/><path color="#05f" d="M531 3166l21-32 -18-10 -21 31z"/><path color="#05f" d="M513 3155l21-31 -18-11 -21 31z"/><path color="#07f" d="M552 3134l21-30 -18-10 -21 30z"/><path color="#08f" d="M534 3124l21-30 -18-11 -21 30z"/><path class="m" d="M531.2 3166.1l42.2-62.2 -36.6-20.6 -42.1 60.9z"/><path color="#bf0" d="M1460 2760l19-1 -22 6 -19 1z"/><path color="#af0" d="M1438 2766l19-1 -21 5 -19 1z"/><path color="#bf0" d="M1479 2759l19 0 -22 6 -19 0z"/><path color="#af0" d="M1457 2765l19 0 -21 6 -19-1z"/><path class="m" d="M1459.7 2760l37.9-1.2 -42.7 11.8 -37.9 .5z"/><path color="#0fc" d="M732 3027l21-24 -19-7 -21 24z"/><path color="#0fc" d="M713 3020l21-24 -18-7 -21 24z"/><path color="#0fa" d="M753 3003l21-23 -19-7 -21 23z"/><path color="#0fa" d="M734 2996l21-23 -18-7 -21 23z"/><path class="m" d="M732.3 3027.5l41.9-47.9 -37.6-13.6 -41.9 46.7z"/><path color="#2f0" d="M1015 2889l20-16 -19-1 -21 15z"/><path color="#1f0" d="M995 2887l21-15 -20-3 -21 15z"/><path color="#2f0" d="M1035 2873l21-13 -20-2 -20 14z"/><path color="#2f0" d="M1016 2872l20-14 -20-2 -20 13z"/><path class="m" d="M1014.8 2888.6l40.8-29.1 -39.3-3.6 -40.8 28z"/><path color="#df0" d="M1541 2745l19 1 -22 7 -19-1z"/><path color="#bf0" d="M1519 2752l19 1 -22 7 -18-1z"/><path color="#cf0" d="M1560 2746l18 2 -22 8 -18-3z"/><path color="#bf0" d="M1538 2753l18 3 -21 7 -19-3z"/><path class="m" d="M1541 2744.7l37.2 3.3 -43.4 14.7 -37.2-3.9z"/><path color="#ef0" d="M1622 2731l19 3 -22 9 -19-3z"/><path color="#cf0" d="M1600 2740l19 3 -22 9 -19-4z"/><path color="#df0" d="M1641 2734l18 5 -22 9 -18-5z"/><path color="#bf0" d="M1619 2743l18 5 -22 8 -18-4z"/><path class="m" d="M1622.3 2731l36.6 7.7 -44.2 17.6 -36.5-8.3z"/><path color="#ff0" d="M1704 2719l18 5 -23 11 -18-6z"/><path color="#df0" d="M1681 2729l18 6 -22 9 -18-5z"/><path color="#ef0" d="M1722 2724l18 7 -23 11 -18-7z"/><path color="#cf0" d="M1699 2735l18 7 -22 10 -18-8z"/><path class="m" d="M1703.8 2718.8l35.8 12.2 -44.9 20.5 -35.8-12.8z"/><path color="#09f" d="M610 3123l22-30 -19-9 -21 30z"/><path color="#09f" d="M592 3114l21-30 -18-9 -22 29z"/><path color="#0bf" d="M632 3093l21-28 -19-9 -21 28z"/><path color="#0cf" d="M613 3084l21-28 -18-9 -21 28z"/><path class="m" d="M610.4 3122.9l42.2-57.9 -37-17.7 -42.2 56.6z"/><path color="#4f0" d="M1096 2861l20-13 -20 0 -20 13z"/><path color="#4f0" d="M1076 2861l20-13 -20-1 -20 13z"/><path color="#5f0" d="M1116 2848l20-11 -20-1 -20 12z"/><path color="#4f0" d="M1096 2848l20-12 -20 0 -20 11z"/><path class="m" d="M1095.6 2861.2l40.4-24.6 -39.9-.7 -40.5 23.6z"/><path color="#0f8" d="M812 2991l21-22 -19-5 -21 22z"/><path color="#0f8" d="M793 2986l21-22 -19-6 -21 22z"/><path color="#0f6" d="M833 2969l21-21 -19-5 -21 21z"/><path color="#0f6" d="M814 2964l21-21 -19-6 -21 21z"/><path class="m" d="M812.3 2991.3l41.8-43.5 -38.2-10.6 -41.7 42.4z"/><path color="#fe0" d="M1785 2708l18 8 -23 12 -18-8z"/><path color="#ef0" d="M1762 2720l18 8 -23 11 -17-8z"/><path color="#ef0" d="M1803 2716l17 9 -23 12 -17-9z"/><path color="#df0" d="M1780 2728l17 9 -22 11 -18-9z"/><path class="m" d="M1785.3 2708.2l35 16.7 -45.7 23.3 -35-17.2z"/><path color="#fe0" d="M1867 2699l17 10 -23 13 -18-10z"/><path color="#ef0" d="M1843 2712l18 10 -23 13 -18-10z"/><path color="#ff0" d="M1884 2709l17 11 -23 14 -17-12z"/><path color="#df0" d="M1861 2722l17 12 -23 13 -17-12z"/><path class="m" d="M1866.9 2699.1l34.1 21.2 -46.5 26.2 -34.2-21.6z"/><path color="#00f" d="M489 3234l21-35 -18-11 -21 34z"/><path color="#00f" d="M471 3222l21-34 -18-11 -22 34z"/><path color="#02f" d="M510 3199l21-33 -18-11 -21 33z"/><path color="#02f" d="M492 3188l21-33 -18-11 -21 33z"/><path class="m" d="M488.8 3233.7l42.4-67.6 -36.5-21.9 -42.3 66.4z"/><path color="#6f0" d="M1177 2835l20-10 -21 1 -20 10z"/><path color="#6f0" d="M1156 2836l20-10 -20 0 -20 11z"/><path color="#7f0" d="M1197 2825l20-10 -21 2 -20 9z"/><path color="#6f0" d="M1176 2826l20-9 -20 0 -20 9z"/><path class="m" d="M1176.6 2835.3l40.1-20.1 -40.6 2.2 -40.1 19.2z"/><path color="#0f4" d="M893 2957l21-21 -20-4 -21 20z"/><path color="#0f4" d="M873 2952l21-20 -19-4 -21 20z"/><path color="#0f2" d="M914 2936l20-19 -19-3 -21 18z"/><path color="#0f3" d="M894 2932l21-18 -19-4 -21 18z"/><path class="m" d="M892.7 2956.6l41.6-39.1 -38.8-7.7 -41.4 38z"/><path color="#0df" d="M690 3081l21-27 -19-8 -21 27z"/><path color="#0ef" d="M671 3073l21-27 -18-8 -21 27z"/><path color="#0fe" d="M711 3054l21-27 -19-7 -21 26z"/><path color="#0fe" d="M692 3046l21-26 -18-7 -21 25z"/><path class="m" d="M690.1 3081l42.2-53.5 -37.6-14.8 -42.1 52.3z"/><path color="#8f0" d="M1258 2811l20-9 -21 3 -20 8z"/><path color="#8f0" d="M1237 2813l20-8 -20 2 -20 8z"/><path color="#8f0" d="M1278 2802l20-7 -21 3 -20 7z"/><path color="#8f0" d="M1257 2805l20-7 -21 2 -19 7z"/><path class="m" d="M1257.9 2810.9l39.6-15.7 -41.2 5.3 -39.6 14.7z"/><path color="#04f" d="M568 3186l21-32 -18-10 -21 32z"/><path color="#04f" d="M550 3176l21-32 -19-10 -21 32z"/><path color="#07f" d="M589 3154l21-31 -18-9 -21 30z"/><path color="#07f" d="M571 3144l21-30 -19-10 -21 30z"/><path class="m" d="M568 3186.3l42.4-63.4 -37-19 -42.2 62.2z"/><path color="#af0" d="M1339 2788l20-6 -21 4 -20 6z"/><path color="#9f0" d="M1318 2792l20-6 -21 3 -19 6z"/><path color="#af0" d="M1359 2782l20-5 -22 4 -19 5z"/><path color="#9f0" d="M1338 2786l19-5 -20 4 -20 4z"/><path class="m" d="M1339.4 2788l39.1-11.1 -41.9 8.1 -39.1 10.2z"/><path color="#0f0" d="M974 2923l20-18 -20-2 -20 18z"/><path color="#0f1" d="M954 2921l20-18 -19-3 -21 17z"/><path color="#1f0" d="M994 2905l21-16 -20-2 -21 16z"/><path color="#0f0" d="M974 2903l21-16 -20-3 -20 16z"/><path class="m" d="M973.5 2923.3l41.3-34.7 -39.3-4.7 -41.2 33.6z"/><path color="#0fc" d="M770 3040l21-25 -19-6 -21 25z"/><path color="#0fc" d="M751 3034l21-25 -19-6 -21 24z"/><path color="#0fa" d="M791 3015l21-24 -19-5 -21 23z"/><path color="#0fa" d="M772 3009l21-23 -19-6 -21 23z"/><path class="m" d="M770.3 3040.5l42-49.2 -38.1-11.7 -41.9 47.9z"/><path color="#cf0" d="M1421 2767l19-4 -21 5 -19 4z"/><path color="#bf0" d="M1400 2772l19-4 -21 5 -19 4z"/><path color="#cf0" d="M1440 2763l20-3 -22 6 -19 2z"/><path color="#bf0" d="M1419 2768l19-2 -21 5 -19 2z"/><path class="m" d="M1421.2 2766.6l38.5-6.6 -42.7 11.1 -38.5 5.8z"/><path color="#3f0" d="M1055 2891l20-15 -20-1 -20 15z"/><path color="#2f0" d="M1035 2890l20-15 -20-2 -20 16z"/><path color="#3f0" d="M1075 2876l21-15 -20 0 -21 14z"/><path color="#3f0" d="M1055 2875l21-14 -20-1 -21 13z"/><path class="m" d="M1054.6 2891.4l41-30.2 -40-1.7 -40.8 29.1z"/><path color="#ef0" d="M1503 2747l19-2 -22 7 -19 2z"/><path color="#cf0" d="M1481 2754l19-2 -21 7 -19 1z"/><path color="#df0" d="M1522 2745l19 0 -22 7 -19 0z"/><path color="#cf0" d="M1500 2752l19 0 -21 7 -19 0z"/><path class="m" d="M1503.1 2746.7l37.9-2 -43.4 14.1 -37.9 1.2z"/><path color="#09f" d="M648 3140l21-30 -19-8 -21 30z"/><path color="#09f" d="M629 3132l21-30 -18-9 -22 30z"/><path color="#0bf" d="M669 3110l21-29 -19-8 -21 29z"/><path color="#0bf" d="M650 3102l21-29 -18-8 -21 28z"/><path class="m" d="M647.8 3140.1l42.3-59.1 -37.5-16 -42.2 57.9z"/><path color="#ff0" d="M1585 2728l19 1 -22 9 -19-1z"/><path color="#ef0" d="M1563 2737l19 1 -22 8 -19-1z"/><path color="#ef0" d="M1604 2729l18 2 -22 9 -18-2z"/><path color="#df0" d="M1582 2738l18 2 -22 8 -18-2z"/><path class="m" d="M1585.1 2728.4l37.2 2.6 -44.1 17 -37.2-3.3z"/><path color="#0f8" d="M851 3001l21-23 -20-4 -20 23z"/><path color="#0f8" d="M832 2997l20-23 -19-5 -21 22z"/><path color="#0f6" d="M872 2978l21-21 -20-5 -21 22z"/><path color="#0f6" d="M852 2974l21-22 -19-4 -21 21z"/><path class="m" d="M850.9 3001.3l41.8-44.7 -38.6-8.8 -41.8 43.5z"/><path color="#00f" d="M526 3255l21-35 -19-10 -21 35z"/><path color="#00f" d="M507 3245l21-35 -18-11 -21 35z"/><path color="#01f" d="M547 3220l21-34 -18-10 -22 34z"/><path color="#02f" d="M528 3210l22-34 -19-10 -21 33z"/><path class="m" d="M525.6 3255.3l42.4-69 -36.8-20.2 -42.4 67.6z"/><path color="#5f0" d="M1136 2861l20-14 -20 1 -20 13z"/><path color="#5f0" d="M1116 2861l20-13 -20 0 -20 13z"/><path color="#6f0" d="M1156 2847l21-12 -21 1 -20 12z"/><path color="#5f0" d="M1136 2848l20-12 -20 1 -20 11z"/><path class="m" d="M1136 2860.9l40.6-25.6 -40.6 1.3 -40.4 24.6z"/><path color="#fd0" d="M1667 2712l19 3 -23 10 -18-3z"/><path color="#ff0" d="M1645 2722l18 3 -22 9 -19-3z"/><path color="#fe0" d="M1686 2715l18 4 -23 10 -18-4z"/><path color="#ef0" d="M1663 2725l18 4 -22 10 -18-5z"/><path class="m" d="M1667.3 2711.7l36.5 7.1 -44.9 19.9 -36.6-7.7z"/><path color="#fc0" d="M1750 2696l18 6 -23 11 -18-5z"/><path color="#fe0" d="M1727 2708l18 5 -23 11 -18-5z"/><path color="#fd0" d="M1768 2702l17 6 -23 12 -17-7z"/><path color="#ff0" d="M1745 2713l17 7 -22 11 -18-7z"/><path class="m" d="M1749.6 2696.5l35.7 11.7 -45.7 22.8 -35.8-12.2z"/><path color="#0df" d="M728 3095l21-28 -19-6 -21 27z"/><path color="#0df" d="M709 3088l21-27 -19-7 -21 27z"/><path color="#0fe" d="M749 3067l21-27 -19-6 -21 27z"/><path color="#0fe" d="M730 3061l21-27 -19-7 -21 27z"/><path class="m" d="M728 3095.2l42.3-54.7 -38-13 -42.2 53.5z"/><path color="#8f0" d="M1218 2832l20-11 -21 2 -20 11z"/><path color="#7f0" d="M1197 2834l20-11 -20 2 -20 10z"/><path color="#8f0" d="M1238 2821l20-10 -21 2 -20 10z"/><path color="#7f0" d="M1217 2823l20-10 -20 2 -20 10z"/><path class="m" d="M1217.8 2832l40.1-21.1 -41.2 4.3 -40.1 20.1z"/><path color="#fb0" d="M1832 2683l18 7 -24 13 -17-7z"/><path color="#fd0" d="M1809 2696l17 7 -23 13 -18-8z"/><path color="#fc0" d="M1850 2690l17 9 -24 13 -17-9z"/><path color="#fe0" d="M1826 2703l17 9 -23 13 -17-9z"/><path class="m" d="M1832 2682.9l34.9 16.2 -46.6 25.8 -35-16.7z"/><path color="#0f3" d="M932 2964l21-21 -20-3 -21 20z"/><path color="#0f4" d="M912 2960l21-20 -19-4 -21 21z"/><path color="#0f2" d="M953 2943l21-20 -20-2 -21 19z"/><path color="#0f2" d="M933 2940l21-19 -20-4 -20 19z"/><path class="m" d="M931.9 2963.5l41.6-40.2 -39.2-5.8 -41.6 39.1z"/><path color="#f90" d="M1914 2671l18 10 -24 14 -17-10z"/><path color="#fc0" d="M1891 2685l17 10 -24 14 -17-10z"/><path color="#fb0" d="M1932 2681l16 11 -23 14 -17-11z"/><path color="#fd0" d="M1908 2695l17 11 -24 14 -17-11z"/><path class="m" d="M1914.4 2670.8l34.1 20.8 -47.5 28.7 -34.1-21.2z"/><path color="#04f" d="M605 3205l22-33 -19-9 -21 33z"/><path color="#04f" d="M587 3196l21-33 -19-9 -21 32z"/><path color="#06f" d="M627 3172l21-32 -19-8 -21 31z"/><path color="#06f" d="M608 3163l21-31 -19-9 -21 31z"/><path class="m" d="M605.3 3204.8l42.5-64.7 -37.4-17.2 -42.4 63.4z"/><path color="#af0" d="M1300 2804l20-8 -21 3 -20 9z"/><path color="#9f0" d="M1279 2808l20-9 -21 3 -20 9z"/><path color="#af0" d="M1320 2796l19-8 -21 4 -19 7z"/><path color="#9f0" d="M1299 2799l19-7 -20 3 -20 7z"/><path class="m" d="M1299.8 2804.5l39.6-16.5 -41.9 7.2 -39.6 15.7z"/><path color="#1f0" d="M1013 2927l21-18 -20-2 -21 18z"/><path color="#0f0" d="M993 2925l21-18 -20-2 -20 18z"/><path color="#2f0" d="M1034 2909l21-18 -20-1 -21 17z"/><path color="#1f0" d="M1014 2907l21-17 -20-1 -21 16z"/><path class="m" d="M1013.3 2927.1l41.3-35.7 -39.8-2.8 -41.3 34.7z"/><path color="#0fc" d="M809 3052l21-26 -19-5 -22 25z"/><path color="#0fc" d="M789 3046l22-25 -20-6 -21 25z"/><path color="#0fa" d="M830 3026l21-25 -19-4 -21 24z"/><path color="#0fa" d="M811 3021l21-24 -20-6 -21 24z"/><path class="m" d="M808.8 3051.6l42.1-50.3 -38.6-10 -42 49.2z"/><path color="#cf0" d="M1382 2779l20-7 -22 5 -19 7z"/><path color="#bf0" d="M1361 2784l19-7 -21 5 -20 6z"/><path color="#cf0" d="M1402 2772l19-5 -21 5 -20 5z"/><path color="#bf0" d="M1380 2777l20-5 -21 5 -20 5z"/><path class="m" d="M1382 2778.5l39.2-11.9 -42.7 10.3 -39.1 11.1z"/><path color="#09f" d="M686 3156l21-31 -19-8 -21 31z"/><path color="#09f" d="M667 3148l21-31 -19-7 -21 30z"/><path color="#0bf" d="M707 3125l21-30 -19-7 -21 29z"/><path color="#0bf" d="M688 3117l21-29 -19-7 -21 29z"/><path class="m" d="M685.6 3155.6l42.4-60.4 -37.9-14.2 -42.3 59.1z"/><path color="#4f0" d="M1095 2892l21-16 -21 0 -20 16z"/><path color="#3f0" d="M1075 2892l20-16 -20 0 -20 15z"/><path color="#5f0" d="M1116 2876l20-15 -20 0 -21 15z"/><path color="#4f0" d="M1095 2876l21-15 -20 0 -21 15z"/><path class="m" d="M1095 2892.2l41-31.3 -40.4 .3 -41 30.2z"/><path color="#ef0" d="M1465 2754l19-4 -22 6 -19 5z"/><path color="#df0" d="M1443 2761l19-5 -22 7 -19 4z"/><path color="#ef0" d="M1484 2750l19-3 -22 7 -19 2z"/><path color="#df0" d="M1462 2756l19-2 -21 6 -20 3z"/><path class="m" d="M1464.5 2754.1l38.6-7.4 -43.4 13.3 -38.5 6.6z"/><path color="#00f" d="M563 3275l21-36 -19-9 -21 35z"/><path color="#00f" d="M544 3265l21-35 -18-10 -21 35z"/><path color="#01f" d="M584 3239l21-34 -18-9 -22 34z"/><path color="#01f" d="M565 3230l22-34 -19-10 -21 34z"/><path class="m" d="M562.7 3275.1l42.6-70.3 -37.3-18.5 -42.4 69z"/><path color="#0f7" d="M890 3009l21-23 -20-4 -21 24z"/><path color="#0f7" d="M870 3006l21-24 -19-4 -21 23z"/><path color="#0f5" d="M911 2986l21-22 -20-4 -21 22z"/><path color="#0f5" d="M891 2982l21-22 -19-3 -21 21z"/><path class="m" d="M889.9 3009.4l42-45.9 -39.2-6.9 -41.8 44.7z"/><path color="#fe0" d="M1547 2731l19-2 -22 8 -19 2z"/><path color="#ff0" d="M1525 2739l19-2 -22 8 -19 2z"/><path color="#fe0" d="M1566 2729l19-1 -22 9 -19 0z"/><path color="#ef0" d="M1544 2737l19 0 -22 8 -19 0z"/><path class="m" d="M1547.2 2731.2l37.9-2.8 -44.1 16.3 -37.9 2z"/><path color="#7f0" d="M1177 2859l21-14 -21 1 -20 14z"/><path color="#6f0" d="M1157 2860l20-14 -21 1 -20 14z"/><path color="#7f0" d="M1198 2845l20-13 -21 2 -20 12z"/><path color="#6f0" d="M1177 2846l20-12 -20 1 -21 12z"/><path class="m" d="M1177.1 2858.6l40.7-26.6 -41.2 3.3 -40.6 25.6z"/><path color="#fc0" d="M1630 2710l19 0 -23 10 -19-1z"/><path color="#fd0" d="M1607 2719l19 1 -22 9 -19-1z"/><path color="#fc0" d="M1649 2710l18 2 -22 10 -19-2z"/><path color="#fe0" d="M1626 2720l19 2 -23 9 -18-2z"/><path class="m" d="M1630 2709.8l37.3 1.9 -45 19.3 -37.2-2.6z"/><path color="#0ef" d="M766 3108l22-29 -20-6 -21 29z"/><path color="#0ef" d="M747 3102l21-29 -19-6 -21 28z"/><path color="#0fe" d="M788 3079l21-27 -20-6 -21 27z"/><path color="#0fe" d="M768 3073l21-27 -19-6 -21 27z"/><path class="m" d="M766.4 3107.6l42.4-56 -38.5-11.1 -42.3 54.7z"/><path color="#0f2" d="M972 2969l20-22 -19-2 -21 21z"/><path color="#0f3" d="M952 2966l21-21 -20-2 -21 21z"/><path color="#0f1" d="M992 2947l21-20 -20-2 -20 20z"/><path color="#0f1" d="M973 2945l20-20 -19-2 -21 20z"/><path class="m" d="M971.6 2968.5l41.7-41.4 -39.8-3.8 -41.6 40.2z"/><path color="#fa0" d="M1713 2690l18 3 -23 11 -18-3z"/><path color="#fb0" d="M1690 2701l18 3 -22 11 -19-3z"/><path color="#fb0" d="M1731 2693l19 3 -23 12 -19-4z"/><path color="#fc0" d="M1708 2704l19 4 -23 11 -18-4z"/><path class="m" d="M1713.1 2690l36.5 6.5 -45.8 22.3 -36.5-7.1z"/><path color="#03f" d="M643 3222l21-34 -19-8 -21 33z"/><path color="#04f" d="M624 3213l21-33 -18-8 -22 33z"/><path color="#06f" d="M664 3188l22-32 -19-8 -22 32z"/><path color="#06f" d="M645 3180l22-32 -19-8 -21 32z"/><path class="m" d="M643 3221.6l42.6-66 -37.8-15.5 -42.5 64.7z"/><path color="#9f0" d="M1260 2827l20-12 -21 3 -20 12z"/><path color="#8f0" d="M1239 2830l20-12 -21 3 -20 11z"/><path color="#af0" d="M1280 2815l20-11 -21 4 -20 10z"/><path color="#9f0" d="M1259 2818l20-10 -21 3 -20 10z"/><path class="m" d="M1259.6 2826.6l40.2-22.1 -41.9 6.4 -40.1 21.1z"/><path color="#f80" d="M1796 2672l18 5 -23 12 -18-5z"/><path color="#fa0" d="M1773 2684l18 5 -23 13 -18-6z"/><path color="#f90" d="M1814 2677l18 6 -23 13 -18-7z"/><path color="#fb0" d="M1791 2689l18 7 -24 12 -17-6z"/><path class="m" d="M1796.2 2671.8l35.8 11.1 -46.7 25.3 -35.7-11.7z"/><path color="#f60" d="M1879 2655l18 7 -24 15 -17-8z"/><path color="#f80" d="M1856 2669l17 8 -23 13 -18-7z"/><path color="#f80" d="M1897 2662l17 9 -23 14 -18-8z"/><path color="#fa0" d="M1873 2677l18 8 -24 14 -17-9z"/><path class="m" d="M1879.5 2655.1l34.9 15.7 -47.5 28.3 -34.9-16.2z"/><path color="#cf0" d="M1342 2796l20-9 -21 4 -20 10z"/><path color="#bf0" d="M1321 2801l20-10 -21 5 -20 8z"/><path color="#cf0" d="M1362 2787l20-8 -21 5 -20 7z"/><path color="#bf0" d="M1341 2791l20-7 -22 4 -19 8z"/><path class="m" d="M1342.3 2796l39.7-17.5 -42.6 9.5 -39.6 16.5z"/><path color="#0fb" d="M848 3061l21-27 -20-4 -21 27z"/><path color="#0fb" d="M828 3057l21-27 -19-4 -21 26z"/><path color="#0f9" d="M869 3034l21-25 -20-3 -21 24z"/><path color="#0f9" d="M849 3030l21-24 -19-5 -21 25z"/><path class="m" d="M847.7 3060.9l42.2-51.5 -39-8.1 -42.1 50.3z"/><path color="#2f0" d="M1054 2929l20-19 -20-1 -21 19z"/><path color="#1f0" d="M1033 2928l21-19 -20 0 -21 18z"/><path color="#3f0" d="M1074 2910l21-18 -20 0 -21 17z"/><path color="#2f0" d="M1054 2909l21-17 -20-1 -21 18z"/><path class="m" d="M1053.6 2929l41.4-36.8 -40.4-.8 -41.3 35.7z"/><path color="#09f" d="M724 3169l21-31 -19-7 -21 32z"/><path color="#09f" d="M705 3163l21-32 -19-6 -21 31z"/><path color="#0bf" d="M745 3138l21-30 -19-6 -21 29z"/><path color="#0bf" d="M726 3131l21-29 -19-7 -21 30z"/><path class="m" d="M723.8 3169.3l42.6-61.7 -38.4-12.4 -42.4 60.4z"/><path color="#00f" d="M600 3293l22-36 -19-9 -22 36z"/><path color="#00f" d="M581 3284l22-36 -19-9 -21 36z"/><path color="#01f" d="M622 3257l21-35 -19-9 -21 35z"/><path color="#01f" d="M603 3248l21-35 -19-8 -21 34z"/><path class="m" d="M600.3 3293.2l42.7-71.6 -37.7-16.8 -42.6 70.3z"/><path color="#ef0" d="M1425 2767l20-7 -22 6 -19 7z"/><path color="#df0" d="M1404 2773l19-7 -21 6 -20 7z"/><path color="#ef0" d="M1445 2760l20-6 -22 7 -20 5z"/><path color="#df0" d="M1423 2766l20-5 -22 6 -19 5z"/><path class="m" d="M1425.3 2766.9l39.2-12.8 -43.3 12.5 -39.2 11.9z"/><path color="#5f0" d="M1136 2891l21-17 -21 1 -21 17z"/><path color="#4f0" d="M1115 2892l21-17 -20 1 -21 16z"/><path color="#6f0" d="M1157 2874l20-15 -20 1 -21 15z"/><path color="#5f0" d="M1136 2875l21-15 -21 1 -20 15z"/><path class="m" d="M1136 2890.9l41.1-32.3 -41.1 2.3 -41 31.3z"/><path color="#0f6" d="M930 3016l21-25 -20-2 -21 24z"/><path color="#0f6" d="M910 3013l21-24 -20-3 -21 23z"/><path color="#0f4" d="M951 2991l21-22 -20-3 -21 23z"/><path color="#0f5" d="M931 2989l21-23 -20-2 -21 22z"/><path class="m" d="M929.5 3015.6l42.1-47.1 -39.7-5 -42 45.9z"/><path color="#fd0" d="M1509 2739l19-4 -22 7 -20 5z"/><path color="#ff0" d="M1486 2747l20-5 -22 8 -19 4z"/><path color="#fd0" d="M1528 2735l19-4 -22 8 -19 3z"/><path color="#ff0" d="M1506 2742l19-3 -22 8 -19 3z"/><path class="m" d="M1508.6 2739.4l38.6-8.2 -44.1 15.5 -38.6 7.4z"/><path color="#0ef" d="M805 3118l21-29 -19-5 -21 29z"/><path color="#0ef" d="M786 3113l21-29 -19-5 -22 29z"/><path color="#0fe" d="M826 3089l22-28 -20-4 -21 27z"/><path color="#0fe" d="M807 3084l21-27 -19-5 -21 27z"/><path class="m" d="M805.2 3118.2l42.5-57.3 -38.9-9.3 -42.4 56z"/><path color="#8f0" d="M1219 2854l20-14 -21 2 -20 15z"/><path color="#7f0" d="M1198 2857l20-15 -20 3 -21 14z"/><path color="#9f0" d="M1239 2840l21-13 -21 3 -21 12z"/><path color="#8f0" d="M1218 2842l21-12 -21 2 -20 13z"/><path class="m" d="M1218.9 2854.3l40.7-27.7 -41.8 5.4 -40.7 26.6z"/><path color="#fa0" d="M1592 2713l19-2 -22 9 -19 3z"/><path color="#fc0" d="M1570 2723l19-3 -23 9 -19 2z"/><path color="#fb0" d="M1611 2711l19-1 -23 9 -18 1z"/><path color="#fd0" d="M1589 2720l18-1 -22 9 -19 1z"/><path class="m" d="M1592.1 2713.3l37.9-3.5 -44.9 18.6 -37.9 2.8z"/><path color="#03f" d="M681 3237l21-35 -19-7 -21 34z"/><path color="#03f" d="M662 3229l21-34 -19-7 -21 34z"/><path color="#06f" d="M702 3202l22-33 -19-6 -22 32z"/><path color="#06f" d="M683 3195l22-32 -19-7 -22 32z"/><path class="m" d="M681.1 3236.6l42.7-67.3 -38.2-13.7 -42.6 66z"/><path color="#0f1" d="M1012 2972l21-22 -20-1 -21 21z"/><path color="#0f2" d="M992 2970l21-21 -21-2 -20 22z"/><path color="#1f0" d="M1033 2950l21-21 -21-1 -20 21z"/><path color="#0f0" d="M1013 2949l20-21 -20-1 -21 20z"/><path class="m" d="M1011.8 2971.6l41.8-42.6 -40.3-1.9 -41.7 41.4z"/><path color="#f80" d="M1676 2689l19 0 -23 11 -19 0z"/><path color="#fa0" d="M1653 2700l19 0 -23 10 -19 0z"/><path color="#f90" d="M1695 2689l18 1 -23 11 -18-1z"/><path color="#fb0" d="M1672 2700l18 1 -23 11 -18-2z"/><path class="m" d="M1675.8 2688.8l37.3 1.2 -45.8 21.7 -37.3-1.9z"/><path color="#bf0" d="M1302 2819l20-12 -21 4 -20 12z"/><path color="#af0" d="M1281 2823l20-12 -21 4 -20 12z"/><path color="#cf0" d="M1322 2807l20-11 -21 5 -20 10z"/><path color="#bf0" d="M1301 2811l20-10 -21 3 -20 11z"/><path class="m" d="M1302 2819.1l40.3-23.1 -42.5 8.5 -40.2 22.1z"/><path color="#f60" d="M1760 2666l18 2 -23 13 -19-3z"/><path color="#f80" d="M1736 2678l19 3 -24 12 -18-3z"/><path color="#f70" d="M1778 2668l18 4 -23 12 -18-3z"/><path color="#f90" d="M1755 2681l18 3 -23 12 -19-3z"/><path class="m" d="M1759.7 2665.9l36.5 5.9 -46.6 24.7 -36.5-6.5z"/><path color="#0fa" d="M887 3068l21-27 -19-3 -22 27z"/><path color="#0fb" d="M867 3065l22-27 -20-4 -21 27z"/><path color="#0f8" d="M908 3041l22-25 -20-3 -21 25z"/><path color="#0f9" d="M889 3038l21-25 -20-4 -21 25z"/><path class="m" d="M887.2 3068.4l42.3-52.8 -39.6-6.2 -42.2 51.5z"/><path color="#3f0" d="M1095 2929l20-20 -20 1 -21 19z"/><path color="#2f0" d="M1074 2929l21-19 -21 0 -20 19z"/><path color="#4f0" d="M1115 2909l21-18 -21 1 -20 18z"/><path color="#3f0" d="M1095 2910l20-18 -20 0 -21 18z"/><path class="m" d="M1094.5 2928.9l41.5-38 -41 1.3 -41.4 36.8z"/><path color="#f40" d="M1844 2645l18 4 -24 14 -18-5z"/><path color="#f60" d="M1820 2658l18 5 -24 14 -18-5z"/><path color="#f50" d="M1862 2649l17 6 -23 14 -18-6z"/><path color="#f70" d="M1838 2663l18 6 -24 14 -18-6z"/><path class="m" d="M1843.8 2644.5l35.7 10.6 -47.5 27.8 -35.8-11.1z"/><path color="#00f" d="M638 3310l22-38 -19-7 -22 37z"/><path color="#00f" d="M619 3302l22-37 -19-8 -22 36z"/><path color="#01f" d="M660 3272l21-35 -19-8 -21 36z"/><path color="#01f" d="M641 3265l21-36 -19-7 -21 35z"/><path class="m" d="M638.2 3309.6l42.9-73 -38.1-15 -42.7 71.6z"/><path color="#ef0" d="M1386 2785l20-10 -22 6 -20 10z"/><path color="#df0" d="M1364 2791l20-10 -22 6 -20 9z"/><path color="#ef0" d="M1406 2775l19-8 -21 6 -20 8z"/><path color="#df0" d="M1384 2781l20-8 -22 6 -20 8z"/><path class="m" d="M1385.5 2785.3l39.8-18.4 -43.3 11.6 -39.7 17.5z"/><path color="#09f" d="M763 3181l21-32 -20-5 -21 31z"/><path color="#09f" d="M743 3175l21-31 -19-6 -21 31z"/><path color="#0cf" d="M784 3149l21-31 -19-5 -22 31z"/><path color="#0bf" d="M764 3144l22-31 -20-5 -21 30z"/><path class="m" d="M762.5 3181.1l42.7-62.9 -38.8-10.6 -42.6 61.7z"/><path color="#fd0" d="M1469 2753l20-7 -22 7 -20 7z"/><path color="#fe0" d="M1447 2760l20-7 -22 7 -20 7z"/><path color="#fd0" d="M1489 2746l20-7 -23 8 -19 6z"/><path color="#fe0" d="M1467 2753l19-6 -21 7 -20 6z"/><path class="m" d="M1469.4 2753.1l39.2-13.7 -44.1 14.7 -39.2 12.8z"/><path color="#6f0" d="M1178 2888l20-18 -21 2 -20 18z"/><path color="#6f0" d="M1157 2890l20-18 -20 2 -21 17z"/><path color="#7f0" d="M1198 2870l21-16 -21 3 -21 15z"/><path color="#7f0" d="M1177 2872l21-15 -21 2 -20 15z"/><path class="m" d="M1177.7 2887.6l41.2-33.3 -41.8 4.3 -41.1 32.3z"/><path color="#0f5" d="M970 3020l21-25 -20-2 -22 25z"/><path color="#0f5" d="M949 3018l22-25 -20-2 -21 25z"/><path color="#0f3" d="M991 2995l21-23 -20-2 -21 23z"/><path color="#0f4" d="M971 2993l21-23 -20-1 -21 22z"/><path class="m" d="M969.6 3019.8l42.2-48.2 -40.2-3.1 -42.1 47.1z"/><path color="#0ff" d="M845 3127l21-30 -20-4 -21 30z"/><path color="#0ef" d="M825 3123l21-30 -20-4 -21 29z"/><path color="#0fd" d="M866 3097l21-29 -20-3 -21 28z"/><path color="#0fd" d="M846 3093l21-28 -19-4 -22 28z"/><path class="m" d="M844.5 3126.9l42.7-58.5 -39.5-7.5 -42.5 57.3z"/><path color="#fa0" d="M1553 2722l20-5 -23 9 -19 5z"/><path color="#fc0" d="M1531 2731l19-5 -22 9 -19 4z"/><path color="#fa0" d="M1573 2717l19-4 -22 10 -20 3z"/><path color="#fc0" d="M1550 2726l20-3 -23 8 -19 4z"/><path class="m" d="M1553.5 2722.3l38.6-9 -44.9 17.9 -38.6 8.2z"/><path color="#04f" d="M720 3250l21-35 -19-6 -22 34z"/><path color="#04f" d="M700 3243l22-34 -20-7 -21 35z"/><path color="#06f" d="M741 3215l22-34 -20-6 -21 34z"/><path color="#06f" d="M722 3209l21-34 -19-6 -22 33z"/><path class="m" d="M719.6 3249.8l42.9-68.7 -38.7-11.8 -42.7 67.3z"/><path color="#af0" d="M1261 2848l21-15 -22 3 -20 15z"/><path color="#9f0" d="M1240 2851l20-15 -21 4 -20 14z"/><path color="#bf0" d="M1282 2833l20-14 -21 4 -21 13z"/><path color="#af0" d="M1260 2836l21-13 -21 4 -21 13z"/><path class="m" d="M1261.3 2847.8l40.7-28.7 -42.4 7.5 -40.7 27.7z"/><path color="#0f0" d="M1053 2973l21-23 -21 0 -21 22z"/><path color="#0f0" d="M1032 2972l21-22 -20 0 -21 22z"/><path color="#2f0" d="M1074 2950l21-21 -21 0 -21 21z"/><path color="#1f0" d="M1053 2950l21-21 -20 0 -21 21z"/><path class="m" d="M1052.6 2972.6l41.9-43.7 -40.9 .1 -41.8 42.6z"/><path color="#f70" d="M1638 2693l19-3 -23 11 -19 3z"/><path color="#f90" d="M1615 2704l19-3 -23 10 -19 2z"/><path color="#f80" d="M1657 2690l19-1 -23 11 -19 1z"/><path color="#f90" d="M1634 2701l19-1 -23 10 -19 1z"/><path class="m" d="M1637.8 2693.1l38-4.3 -45.8 21 -37.9 3.5z"/><path color="#df0" d="M1345 2809l20-12 -21 5 -20 12z"/><path color="#cf0" d="M1324 2814l20-12 -22 5 -20 12z"/><path color="#ef0" d="M1365 2797l21-12 -22 6 -20 11z"/><path color="#df0" d="M1344 2802l20-11 -22 5 -20 11z"/><path class="m" d="M1345.2 2809.4l40.3-24.1 -43.2 10.7 -40.3 23.1z"/><path color="#0f9" d="M927 3074l21-28 -20-2 -21 27z"/><path color="#0fa" d="M907 3071l21-27 -20-3 -21 27z"/><path color="#0f7" d="M948 3046l22-26 -21-2 -21 26z"/><path color="#0f8" d="M928 3044l21-26 -19-2 -22 25z"/><path class="m" d="M927.1 3073.9l42.5-54.1 -40.1-4.2 -42.3 52.8z"/><path color="#f40" d="M1722 2665l19 0 -23 12 -19 0z"/><path color="#f60" d="M1699 2677l19 0 -23 12 -19 0z"/><path color="#f50" d="M1741 2665l19 1 -24 12 -18-1z"/><path color="#f70" d="M1718 2677l18 1 -23 12 -18-1z"/><path class="m" d="M1722.4 2665.4l37.3 .5 -46.6 24.1 -37.3-1.2z"/><path color="#00f" d="M677 3324l21-38 -19-6 -22 37z"/><path color="#00f" d="M657 3317l22-37 -19-8 -22 38z"/><path color="#01f" d="M698 3286l22-36 -20-7 -21 37z"/><path color="#01f" d="M679 3280l21-37 -19-6 -21 35z"/><path class="m" d="M676.6 3324.1l43-74.3 -38.5-13.2 -42.9 73z"/><path color="#0af" d="M802 3191l21-33 -20-4 -21 32z"/><path color="#09f" d="M782 3186l21-32 -19-5 -21 32z"/><path color="#0cf" d="M823 3158l22-31 -20-4 -22 31z"/><path color="#0cf" d="M803 3154l22-31 -20-5 -21 31z"/><path class="m" d="M801.7 3191.2l42.8-64.3 -39.3-8.7 -42.7 62.9z"/><path color="#4f0" d="M1136 2927l21-21 -21 2 -21 20z"/><path color="#4f0" d="M1115 2928l21-20 -21 1 -20 20z"/><path color="#5f0" d="M1157 2906l21-18 -21 2 -21 18z"/><path color="#5f0" d="M1136 2908l21-18 -21 1 -21 18z"/><path class="m" d="M1136 2926.8l41.7-39.2 -41.7 3.3 -41.5 38z"/><path color="#f20" d="M1807 2639l19 2 -24 14 -19-2z"/><path color="#f40" d="M1783 2653l19 2 -24 13 -18-2z"/><path color="#f30" d="M1826 2641l18 4 -24 13 -18-3z"/><path color="#f50" d="M1802 2655l18 3 -24 14 -18-4z"/><path class="m" d="M1807.3 2639.3l36.5 5.2 -47.6 27.3 -36.5-5.9z"/><path color="#fe0" d="M1430 2772l20-10 -23 7 -20 10z"/><path color="#ff0" d="M1407 2779l20-10 -21 6 -20 10z"/><path color="#fd0" d="M1450 2762l19-9 -22 7 -20 9z"/><path color="#ff0" d="M1427 2769l20-9 -22 7 -19 8z"/><path class="m" d="M1429.5 2772.4l39.9-19.3 -44.1 13.8 -39.8 18.4z"/><path color="#0f4" d="M1010 3022l21-25 -20-1 -21 25z"/><path color="#0f4" d="M990 3021l21-25 -20-1 -21 25z"/><path color="#0f1" d="M1031 2997l22-24 -21-1 -21 24z"/><path color="#0f2" d="M1011 2996l21-24 -20 0 -21 23z"/><path class="m" d="M1010.3 3022.1l42.3-49.5 -40.8-1 -42.2 48.2z"/><path color="#8f0" d="M1220 2882l21-18 -22 4 -20 17z"/><path color="#7f0" d="M1199 2885l20-17 -21 2 -20 18z"/><path color="#9f0" d="M1241 2864l20-16 -21 3 -21 17z"/><path color="#8f0" d="M1219 2868l21-17 -21 3 -21 16z"/><path class="m" d="M1220 2882.3l41.3-34.5 -42.4 6.5 -41.2 33.3z"/><path color="#fa0" d="M1514 2737l20-8 -23 9 -19 7z"/><path color="#fc0" d="M1492 2745l19-7 -22 8 -20 7z"/><path color="#fa0" d="M1534 2729l19-7 -22 9 -20 7z"/><path color="#fb0" d="M1511 2738l20-7 -22 8 -20 7z"/><path class="m" d="M1514.2 2736.9l39.3-14.6 -44.9 17.1 -39.2 13.7z"/><path color="#0fe" d="M884 3134l22-31 -20-3 -22 31z"/><path color="#0ff" d="M864 3131l22-31 -20-3 -21 30z"/><path color="#0fc" d="M906 3103l21-29 -20-3 -21 29z"/><path color="#0fc" d="M886 3100l21-29 -20-3 -21 29z"/><path class="m" d="M884.4 3133.7l42.7-59.8 -39.9-5.5 -42.7 58.5z"/><path color="#04f" d="M759 3261l21-36 -19-5 -22 36z"/><path color="#04f" d="M739 3256l22-36 -20-5 -21 35z"/><path color="#07f" d="M780 3225l22-34 -20-5 -21 34z"/><path color="#07f" d="M761 3220l21-34 -19-5 -22 34z"/><path class="m" d="M758.7 3261.2l43-70 -39.2-10.1 -42.9 68.7z"/><path color="#f70" d="M1599 2703l20-6 -23 11 -20 5z"/><path color="#f80" d="M1576 2713l20-5 -23 9 -20 5z"/><path color="#f70" d="M1619 2697l19-4 -23 11 -19 4z"/><path color="#f90" d="M1596 2708l19-4 -23 9 -19 4z"/><path class="m" d="M1599.2 2702.9l38.6-9.8 -45.7 20.2 -38.6 9z"/><path color="#cf0" d="M1304 2839l21-15 -22 4 -20 16z"/><path color="#bf0" d="M1283 2844l20-16 -21 5 -21 15z"/><path color="#cf0" d="M1325 2824l20-15 -21 5 -21 14z"/><path color="#bf0" d="M1303 2828l21-14 -22 5 -20 14z"/><path class="m" d="M1304.3 2839.1l40.9-29.7 -43.2 9.7 -40.7 28.7z"/><path color="#2f0" d="M1094 2972l21-24 -21 2 -21 22z"/><path color="#1f0" d="M1073 2972l21-22 -20 0 -21 23z"/><path color="#3f0" d="M1115 2948l21-21 -21 1 -21 22z"/><path color="#2f0" d="M1094 2950l21-22 -20 1 -21 21z"/><path class="m" d="M1094 2971.7l42-44.9 -41.5 2.1 -41.9 43.7z"/><path color="#0f8" d="M968 3077l21-28 -20-1 -22 28z"/><path color="#0f9" d="M947 3076l22-28 -21-2 -21 28z"/><path color="#0f6" d="M989 3049l21-27 -20-1 -21 27z"/><path color="#0f6" d="M969 3048l21-27 -20-1 -22 26z"/><path class="m" d="M967.7 3077.4l42.6-55.3 -40.7-2.3 -42.5 54.1z"/><path color="#00f" d="M716 3337l21-39 -19-5 -22 38z"/><path color="#00f" d="M696 3331l22-38 -20-7 -21 38z"/><path color="#01f" d="M737 3298l22-37 -20-5 -21 37z"/><path color="#01f" d="M718 3293l21-37 -19-6 -22 36z"/><path class="m" d="M715.5 3336.9l43.2-75.7 -39.1-11.4 -43 74.3z"/><path color="#f30" d="M1684 2670l20-3 -24 12 -19 3z"/><path color="#f50" d="M1661 2682l19-3 -23 11 -19 3z"/><path color="#f40" d="M1704 2667l18-2 -23 12 -19 2z"/><path color="#f60" d="M1680 2679l19-2 -23 12 -19 1z"/><path class="m" d="M1684.4 2670.4l38-5 -46.6 23.4 -38 4.3z"/><path color="#0af" d="M841 3199l22-33 -20-4 -22 33z"/><path color="#0af" d="M821 3195l22-33 -20-4 -21 33z"/><path color="#0df" d="M863 3166l21-32 -20-3 -21 31z"/><path color="#0df" d="M843 3162l21-31 -19-4 -22 31z"/><path class="m" d="M841.4 3199.3l43-65.6 -39.9-6.8 -42.8 64.3z"/><path color="#ff0" d="M1389 2797l20-13 -22 7 -20 13z"/><path color="#ef0" d="M1367 2804l20-13 -22 6 -20 12z"/><path color="#fe0" d="M1409 2784l21-12 -23 7 -20 12z"/><path color="#ff0" d="M1387 2791l20-12 -21 6 -21 12z"/><path class="m" d="M1389.1 2797.4l40.4-25 -44 12.9 -40.3 24.1z"/><path color="#6f0" d="M1178 2923l21-21 -21 2 -21 21z"/><path color="#5f0" d="M1157 2925l21-21 -21 2 -21 21z"/><path color="#7f0" d="M1199 2902l21-20 -21 3 -21 19z"/><path color="#6f0" d="M1178 2904l21-19 -21 3 -21 18z"/><path class="m" d="M1178.2 2922.5l41.8-40.2 -42.3 5.3 -41.7 39.2z"/><path color="#f00" d="M1770 2639l19 0 -24 13 -19 1z"/><path color="#f20" d="M1746 2653l19-1 -24 13 -19 0z"/><path color="#f10" d="M1789 2639l18 0 -24 14 -18-1z"/><path color="#f30" d="M1765 2652l18 1 -23 13 -19-1z"/><path class="m" d="M1770 2639.5l37.3-.2 -47.6 26.6 -37.3-.5z"/><path color="#fb0" d="M1474 2757l20-11 -22 8 -20 11z"/><path color="#fc0" d="M1452 2765l20-11 -22 8 -20 10z"/><path color="#fa0" d="M1494 2746l20-9 -22 8 -20 9z"/><path color="#fc0" d="M1472 2754l20-9 -23 8 -19 9z"/><path class="m" d="M1474.3 2757.2l39.9-20.3 -44.8 16.2 -39.9 19.3z"/><path color="#0f2" d="M1052 3022l21-26 -21 1 -21 26z"/><path color="#0f3" d="M1031 3023l21-26 -21 0 -21 25z"/><path color="#0f0" d="M1073 2996l21-24 -21 0 -21 25z"/><path color="#0f1" d="M1052 2997l21-25 -20 1 -22 24z"/><path class="m" d="M1051.6 3022.4l42.4-50.7 -41.4 .9 -42.3 49.5z"/><path color="#05f" d="M798 3271l22-37 -20-4 -22 36z"/><path color="#04f" d="M778 3266l22-36 -20-5 -21 36z"/><path color="#08f" d="M820 3234l21-35 -20-4 -21 35z"/><path color="#07f" d="M800 3230l21-35 -19-4 -22 34z"/><path class="m" d="M798.2 3270.7l43.2-71.4 -39.7-8.1 -43 70z"/><path color="#af0" d="M1263 2875l21-19 -22 5 -21 18z"/><path color="#9f0" d="M1241 2879l21-18 -21 3 -21 18z"/><path color="#bf0" d="M1284 2856l20-17 -21 5 -21 17z"/><path color="#af0" d="M1262 2861l21-17 -22 4 -20 16z"/><path class="m" d="M1262.9 2874.7l41.4-35.6 -43 8.7 -41.3 34.5z"/><path color="#0fd" d="M925 3139l21-32 -20-2 -21 31z"/><path color="#0fe" d="M905 3136l21-31 -20-2 -22 31z"/><path color="#0fb" d="M946 3107l22-30 -21-1 -21 29z"/><path color="#0fb" d="M926 3105l21-29 -20-2 -21 29z"/><path class="m" d="M924.8 3138.6l42.9-61.2 -40.6-3.5 -42.7 59.8z"/><path color="#f70" d="M1560 2718l20-8 -23 10 -20 8z"/><path color="#f80" d="M1537 2728l20-8 -23 9 -20 8z"/><path color="#f70" d="M1580 2710l19-7 -23 10 -19 7z"/><path color="#f80" d="M1557 2720l19-7 -23 9 -19 7z"/><path class="m" d="M1559.8 2718.4l39.4-15.5 -45.7 19.4 -39.3 14.6z"/><path color="#3f0" d="M1136 2969l21-24 -21 2 -21 23z"/><path color="#2f0" d="M1115 2970l21-23 -21 1 -21 24z"/><path color="#5f0" d="M1157 2945l21-22 -21 2 -21 22z"/><path color="#4f0" d="M1136 2947l21-22 -21 2 -21 21z"/><path class="m" d="M1136 2968.6l42.2-46.1 -42.2 4.3 -42 44.9z"/><path color="#ef0" d="M1348 2828l21-16 -22 6 -21 16z"/><path color="#df0" d="M1326 2834l21-16 -22 6 -21 15z"/><path color="#ff0" d="M1369 2812l20-15 -22 7 -20 14z"/><path color="#df0" d="M1347 2818l20-14 -22 5 -20 15z"/><path class="m" d="M1348.1 2828.3l41-30.9 -43.9 12 -40.9 29.7z"/><path color="#00f" d="M755 3348l22-39 -20-5 -22 39z"/><path color="#00f" d="M735 3343l22-39 -20-6 -21 39z"/><path color="#02f" d="M777 3309l21-38 -20-5 -21 38z"/><path color="#01f" d="M757 3304l21-38 -19-5 -22 37z"/><path class="m" d="M754.9 3347.9l43.3-77.2 -39.5-9.5 -43.2 75.7z"/><path color="#f30" d="M1646 2681l19-6 -23 11 -20 6z"/><path color="#f50" d="M1622 2692l20-6 -23 11 -20 6z"/><path color="#f30" d="M1665 2675l19-5 -23 12 -19 4z"/><path color="#f50" d="M1642 2686l19-4 -23 11 -19 4z"/><path class="m" d="M1645.7 2681.1l38.7-10.7 -46.6 22.7 -38.6 9.8z"/><path color="#0f7" d="M1009 3079l21-29 -20 0 -22 28z"/><path color="#0f7" d="M988 3078l22-28 -21-1 -21 28z"/><path color="#0f4" d="M1030 3050l22-28 -21 1 -21 27z"/><path color="#0f5" d="M1010 3050l21-27 -21-1 -21 27z"/><path class="m" d="M1008.8 3079l42.8-56.6 -41.3-.3 -42.6 55.3z"/><path color="#0bf" d="M882 3206l21-35 -20-2 -22 34z"/><path color="#0bf" d="M861 3203l22-34 -20-3 -22 33z"/><path color="#0ef" d="M903 3171l22-32 -20-3 -22 33z"/><path color="#0df" d="M883 3169l22-33 -21-2 -21 32z"/><path class="m" d="M881.6 3205.5l43.2-66.9 -40.4-4.9 -43 65.6z"/><path color="#f00" d="M1732 2645l19-3 -24 13 -19 3z"/><path color="#f20" d="M1708 2658l19-3 -23 12 -20 3z"/><path color="#f00" d="M1751 2642l19-3 -24 14 -19 2z"/><path color="#f20" d="M1727 2655l19-2 -24 12 -18 2z"/><path class="m" d="M1732 2645.2l38-5.7 -47.6 25.9 -38 5z"/><path color="#fc0" d="M1434 2783l20-14 -22 8 -21 14z"/><path color="#fd0" d="M1411 2791l21-14 -23 7 -20 13z"/><path color="#fb0" d="M1454 2769l20-12 -22 8 -20 12z"/><path color="#fd0" d="M1432 2777l20-12 -22 7 -21 12z"/><path class="m" d="M1433.8 2783.2l40.5-26 -44.8 15.2 -40.4 25z"/><path color="#8f0" d="M1221 2916l21-21 -21 3 -21 22z"/><path color="#7f0" d="M1200 2920l21-22 -22 4 -21 21z"/><path color="#9f0" d="M1242 2895l21-20 -22 4 -20 19z"/><path color="#8f0" d="M1221 2898l20-19 -21 3 -21 20z"/><path class="m" d="M1221.1 2916.1l41.8-41.4 -42.9 7.6 -41.8 40.2z"/><path color="#0f0" d="M1093 3021l22-27 -21 1 -22 27z"/><path color="#0f1" d="M1072 3022l22-27 -21 1 -21 26z"/><path color="#2f0" d="M1115 2994l21-25 -21 1 -21 25z"/><path color="#1f0" d="M1094 2995l21-25 -21 2 -21 24z"/><path class="m" d="M1093.5 3020.6l42.5-52 -42 3.1 -42.4 50.7z"/><path color="#06f" d="M838 3278l22-37 -20-3 -22 37z"/><path color="#05f" d="M818 3275l22-37 -20-4 -22 37z"/><path color="#09f" d="M860 3241l22-35 -21-3 -21 35z"/><path color="#08f" d="M840 3238l21-35 -20-4 -21 35z"/><path class="m" d="M838.3 3278.3l43.3-72.8 -40.2-6.2 -43.2 71.4z"/><path color="#f80" d="M1520 2740l20-12 -23 10 -20 11z"/><path color="#f90" d="M1497 2749l20-11 -23 8 -20 11z"/><path color="#f70" d="M1540 2728l20-10 -23 10 -20 10z"/><path color="#f90" d="M1517 2738l20-10 -23 9 -20 9z"/><path class="m" d="M1519.8 2739.6l40-21.2 -45.6 18.5 -39.9 20.3z"/><path color="#0fc" d="M966 3141l21-31 -20-1 -22 31z"/><path color="#0fd" d="M945 3140l22-31 -21-2 -21 32z"/><path color="#0f9" d="M987 3110l22-31 -21-1 -21 31z"/><path color="#0fa" d="M967 3109l21-31 -20-1 -22 30z"/><path class="m" d="M965.8 3141.5l43-62.5 -41.1-1.6 -42.9 61.2z"/><path color="#cf0" d="M1307 2865l20-19 -22 5 -20 19z"/><path color="#bf0" d="M1285 2870l20-19 -21 5 -21 19z"/><path color="#df0" d="M1327 2846l21-18 -22 6 -21 17z"/><path color="#cf0" d="M1305 2851l21-17 -22 5 -20 17z"/><path class="m" d="M1306.6 2865l41.5-36.7 -43.8 10.8 -41.4 35.6z"/><path color="#f30" d="M1606 2697l20-8 -23 11 -20 8z"/><path color="#f50" d="M1583 2708l20-8 -23 10 -20 8z"/><path color="#f30" d="M1626 2689l20-8 -24 11 -19 8z"/><path color="#f50" d="M1603 2700l19-8 -23 11 -19 7z"/><path class="m" d="M1606.3 2697.4l39.4-16.3 -46.5 21.8 -39.4 15.5z"/><path color="#5f0" d="M1179 2963l21-24 -22 3 -21 24z"/><path color="#4f0" d="M1157 2966l21-24 -21 3 -21 24z"/><path color="#6f0" d="M1200 2939l21-23 -21 4 -22 22z"/><path color="#5f0" d="M1178 2942l22-22 -22 3 -21 22z"/><path class="m" d="M1178.8 2963.5l42.3-47.4 -42.9 6.4 -42.2 46.1z"/><path color="#00f" d="M795 3357l22-40 -21-4 -21 40z"/><path color="#00f" d="M775 3353l21-40 -19-4 -22 39z"/><path color="#03f" d="M817 3317l21-39 -20-3 -22 38z"/><path color="#02f" d="M796 3313l22-38 -20-4 -21 38z"/><path class="m" d="M794.8 3356.9l43.5-78.6 -40.1-7.6 -43.3 77.2z"/><path color="#fe0" d="M1393 2815l20-17 -22 8 -21 16z"/><path color="#ff0" d="M1370 2822l21-16 -22 6 -21 16z"/><path color="#fd0" d="M1413 2798l21-15 -23 8 -20 15z"/><path color="#fe0" d="M1391 2806l20-15 -22 6 -20 15z"/><path class="m" d="M1392.7 2815.1l41.1-31.9 -44.7 14.2 -41 30.9z"/><path color="#0f5" d="M1051 3079l21-30 -21 1 -21 29z"/><path color="#0f6" d="M1030 3079l21-29 -21 0 -21 29z"/><path color="#0f2" d="M1072 3049l21-28 -21 1 -21 28z"/><path color="#0f3" d="M1051 3050l21-28 -20 0 -22 28z"/><path class="m" d="M1050.6 3078.5l42.9-57.9 -41.9 1.8 -42.8 56.6z"/><path color="#0cf" d="M922 3210l22-35 -20-2 -22 35z"/><path color="#0cf" d="M902 3208l22-35 -21-2 -21 35z"/><path color="#0ff" d="M944 3175l22-34 -21-1 -21 33z"/><path color="#0ff" d="M924 3173l21-33 -20-1 -22 32z"/><path class="m" d="M922.5 3209.8l43.3-68.3 -41-2.9 -43.2 66.9z"/><path color="#f00" d="M1693 2657l20-7 -24 13 -20 6z"/><path color="#f10" d="M1669 2669l20-6 -24 12 -19 6z"/><path color="#f00" d="M1713 2650l19-5 -24 13 -19 5z"/><path color="#f10" d="M1689 2663l19-5 -24 12 -19 5z"/><path class="m" d="M1693.2 2656.7l38.8-11.5 -47.6 25.2 -38.7 10.7z"/><path color="#af0" d="M1265 2908l21-22 -22 4 -21 22z"/><path color="#9f0" d="M1243 2912l21-22 -22 5 -21 21z"/><path color="#bf0" d="M1286 2886l21-21 -22 5 -21 20z"/><path color="#af0" d="M1264 2890l21-20 -22 5 -21 20z"/><path class="m" d="M1264.6 2907.6l42-42.6 -43.7 9.7 -41.8 41.4z"/><path color="#f90" d="M1479 2767l21-15 -23 9 -21 14z"/><path color="#fa0" d="M1456 2775l21-14 -23 8 -20 14z"/><path color="#f80" d="M1500 2752l20-12 -23 9 -20 12z"/><path color="#fa0" d="M1477 2761l20-12 -23 8 -20 12z"/><path class="m" d="M1479.2 2766.7l40.6-27.1 -45.5 17.6 -40.5 26z"/><path color="#07f" d="M879 3284l22-38 -21-2 -21 37z"/><path color="#06f" d="M859 3281l21-37 -20-3 -22 37z"/><path color="#0af" d="M901 3246l21-36 -20-2 -22 36z"/><path color="#09f" d="M880 3244l22-36 -20-2 -22 35z"/><path class="m" d="M878.9 3284l43.6-74.2 -40.9-4.3 -43.3 72.8z"/><path color="#2f0" d="M1136 3017l21-28 -21 3 -21 27z"/><path color="#1f0" d="M1115 3019l21-27 -21 2 -22 27z"/><path color="#3f0" d="M1157 2989l22-26 -22 3 -21 26z"/><path color="#2f0" d="M1136 2992l21-26 -21 3 -21 25z"/><path class="m" d="M1136 3016.7l42.8-53.2 -42.8 5.1 -42.5 52z"/><path color="#0fa" d="M1007 3142l22-32 -21 0 -22 32z"/><path color="#0fb" d="M986 3142l22-32 -21 0 -21 31z"/><path color="#0f8" d="M1029 3110l22-31 -21 0 -22 31z"/><path color="#0f8" d="M1008 3110l22-31 -21 0 -22 31z"/><path class="m" d="M1007.4 3142.3l43.2-63.8 -41.8 .5 -43 62.5z"/><path color="#f40" d="M1566 2720l20-12 -23 10 -20 12z"/><path color="#f60" d="M1543 2730l20-12 -23 10 -20 12z"/><path color="#f40" d="M1586 2708l20-11 -23 11 -20 10z"/><path color="#f50" d="M1563 2718l20-10 -23 10 -20 10z"/><path class="m" d="M1566.2 2719.6l40.1-22.2 -46.5 21 -40 21.2z"/><path color="#ef0" d="M1351 2853l21-20 -22 7 -21 19z"/><path color="#df0" d="M1329 2859l21-19 -23 6 -20 19z"/><path color="#ff0" d="M1372 2833l21-18 -23 7 -20 18z"/><path color="#ef0" d="M1350 2840l20-18 -22 6 -21 18z"/><path class="m" d="M1351 2852.9l41.7-37.8 -44.6 13.2 -41.5 36.7z"/><path color="#00f" d="M835 3364l22-41 -20-3 -22 41z"/><path color="#00f" d="M815 3361l22-41 -20-3 -22 40z"/><path color="#04f" d="M857 3323l22-39 -20-3 -22 39z"/><path color="#03f" d="M837 3320l22-39 -21-3 -21 39z"/><path class="m" d="M835.2 3364.1l43.7-80.1 -40.6-5.7 -43.5 78.6z"/><path color="#7f0" d="M1222 2956l21-25 -21 4 -22 25z"/><path color="#6f0" d="M1200 2960l22-25 -22 4 -21 24z"/><path color="#8f0" d="M1243 2931l22-23 -22 4 -21 23z"/><path color="#7f0" d="M1222 2935l21-23 -22 4 -21 23z"/><path class="m" d="M1222.2 2956.1l42.4-48.5 -43.5 8.5 -42.3 47.4z"/><path color="#f00" d="M1654 2674l20-9 -24 12 -20 9z"/><path color="#f20" d="M1630 2686l20-9 -24 12 -20 8z"/><path color="#f00" d="M1674 2665l19-8 -24 12 -19 8z"/><path color="#f10" d="M1650 2677l19-8 -23 12 -20 8z"/><path class="m" d="M1653.7 2673.9l39.5-17.2 -47.5 24.4 -39.4 16.3z"/><path color="#0ef" d="M964 3212l22-36 -21 0 -22 35z"/><path color="#0df" d="M943 3211l22-35 -21-1 -22 35z"/><path color="#0fd" d="M986 3176l21-34 -21 0 -21 34z"/><path color="#0fe" d="M965 3176l21-34 -20-1 -22 34z"/><path class="m" d="M963.9 3212.1l43.5-69.8 -41.6-.8 -43.3 68.3z"/><path color="#0f3" d="M1093 3076l22-30 -22 1 -21 30z"/><path color="#0f4" d="M1072 3077l21-30 -21 2 -21 30z"/><path color="#0f0" d="M1115 3046l21-29 -21 2 -22 28z"/><path color="#0f1" d="M1093 3047l22-28 -22 2 -21 28z"/><path class="m" d="M1093 3075.9l43-59.2 -42.5 3.9 -42.9 57.9z"/><path color="#fb0" d="M1438 2800l21-18 -23 9 -21 17z"/><path color="#fc0" d="M1415 2808l21-17 -23 7 -20 17z"/><path color="#fa0" d="M1459 2782l20-15 -23 8 -20 16z"/><path color="#fb0" d="M1436 2791l20-16 -22 8 -21 15z"/><path class="m" d="M1438 2799.6l41.2-32.9 -45.4 16.5 -41.1 31.9z"/><path color="#cf0" d="M1309 2897l21-23 -22 6 -21 22z"/><path color="#bf0" d="M1287 2902l21-22 -22 6 -21 22z"/><path color="#df0" d="M1330 2874l21-21 -22 6 -21 21z"/><path color="#cf0" d="M1308 2880l21-21 -22 6 -21 21z"/><path class="m" d="M1308.9 2896.7l42.1-43.8 -44.4 12.1 -42 42.6z"/><path color="#08f" d="M920 3288l22-39 -21-1 -22 38z"/><path color="#07f" d="M899 3286l22-38 -20-2 -22 38z"/><path color="#0bf" d="M942 3249l22-37 -21-1 -22 37z"/><path color="#0af" d="M921 3248l22-37 -21-1 -21 36z"/><path class="m" d="M920.1 3287.8l43.8-75.7 -41.4-2.3 -43.6 74.2z"/><path color="#f60" d="M1526 2748l20-15 -23 10 -21 14z"/><path color="#f70" d="M1502 2757l21-14 -23 9 -21 15z"/><path color="#f50" d="M1546 2733l20-13 -23 10 -20 13z"/><path color="#f70" d="M1523 2743l20-13 -23 10 -20 12z"/><path class="m" d="M1525.5 2747.7l40.7-28.1 -46.4 20 -40.6 27.1z"/><path color="#3f0" d="M1179 3011l22-28 -22 3 -21 28z"/><path color="#2f0" d="M1158 3014l21-28 -22 3 -21 28z"/><path color="#5f0" d="M1201 2983l21-27 -22 4 -21 26z"/><path color="#4f0" d="M1179 2986l21-26 -21 3 -22 26z"/><path class="m" d="M1179.3 3010.7l42.9-54.6 -43.4 7.4 -42.8 53.2z"/><path color="#0f8" d="M1050 3141l21-33 -21 1 -22 33z"/><path color="#0f9" d="M1028 3142l22-33 -21 1 -22 32z"/><path color="#0f6" d="M1071 3108l22-32 -21 1 -22 32z"/><path color="#0f7" d="M1050 3109l22-32 -21 2 -22 31z"/><path class="m" d="M1049.6 3141.1l43.4-65.2 -42.4 2.6 -43.2 63.8z"/><path color="#fd0" d="M1396 2839l21-21 -23 8 -20 20z"/><path color="#ff0" d="M1374 2846l20-20 -22 7 -21 20z"/><path color="#fc0" d="M1417 2818l21-18 -23 8 -21 18z"/><path color="#fd0" d="M1394 2826l21-18 -22 7 -21 18z"/><path class="m" d="M1396.3 2838.6l41.7-39 -45.3 15.5 -41.7 37.8z"/><path color="#f10" d="M1614 2697l20-12 -24 12 -20 12z"/><path color="#f30" d="M1590 2709l20-12 -24 11 -20 12z"/><path color="#f00" d="M1634 2685l20-11 -24 12 -20 11z"/><path color="#f20" d="M1610 2697l20-11 -24 11 -20 11z"/><path class="m" d="M1613.5 2697.1l40.2-23.2 -47.4 23.5 -40.1 22.2z"/><path color="#01f" d="M876 3369l22-41 -20-2 -22 41z"/><path color="#01f" d="M856 3367l22-41 -21-3 -22 41z"/><path color="#05f" d="M898 3328l22-40 -21-2 -21 40z"/><path color="#04f" d="M878 3326l21-40 -20-2 -22 39z"/><path class="m" d="M876.2 3369.3l43.9-81.5 -41.2-3.8 -43.7 80.1z"/><path color="#9f0" d="M1266 2947l22-26 -23 5 -21 26z"/><path color="#8f0" d="M1244 2952l21-26 -22 5 -21 25z"/><path color="#af0" d="M1288 2921l21-24 -22 5 -22 24z"/><path color="#9f0" d="M1265 2926l22-24 -22 6 -22 23z"/><path class="m" d="M1266.3 2946.5l42.6-49.8 -44.3 10.9 -42.4 48.5z"/><path color="#0ff" d="M1006 3212l22-36 -21 0 -22 36z"/><path color="#0ff" d="M985 3212l22-36 -21 0 -22 36z"/><path color="#0fb" d="M1028 3176l22-35 -22 1 -21 34z"/><path color="#0fc" d="M1007 3176l21-34 -21 0 -21 34z"/><path class="m" d="M1005.9 3212.3l43.7-71.2 -42.2 1.2 -43.5 69.8z"/><path color="#0f1" d="M1136 3071l22-31 -22 3 -22 31z"/><path color="#0f2" d="M1114 3074l22-31 -21 3 -22 30z"/><path color="#1f0" d="M1158 3040l21-29 -21 3 -22 29z"/><path color="#1f0" d="M1136 3043l22-29 -22 3 -21 29z"/><path class="m" d="M1136 3071.2l43.3-60.5 -43.3 6 -43 59.2z"/><path color="#f80" d="M1484 2782l21-18 -23 9 -21 18z"/><path color="#f90" d="M1461 2791l21-18 -23 9 -21 18z"/><path color="#f70" d="M1505 2764l21-16 -24 9 -20 16z"/><path color="#f80" d="M1482 2773l20-16 -23 10 -20 15z"/><path class="m" d="M1484.2 2781.7l41.3-34 -46.3 19 -41.2 32.9z"/><path color="#09f" d="M962 3289l22-39 -21 0 -22 39z"/><path color="#09f" d="M941 3289l22-39 -21-1 -22 39z"/><path color="#0cf" d="M984 3250l22-38 -21 0 -22 38z"/><path color="#0cf" d="M963 3250l22-38 -21 0 -22 37z"/><path class="m" d="M962 3289.5l43.9-77.2 -42-.2 -43.8 75.7z"/><path color="#ef0" d="M1354 2884l21-24 -22 7 -22 23z"/><path color="#df0" d="M1331 2890l22-23 -23 7 -21 23z"/><path color="#ff0" d="M1375 2860l21-21 -22 7 -21 21z"/><path color="#ef0" d="M1353 2867l21-21 -23 7 -21 21z"/><path class="m" d="M1354 2883.6l42.3-45 -45.3 14.3 -42.1 43.8z"/><path color="#0f6" d="M1092 3138l22-34 -21 2 -22 34z"/><path color="#0f7" d="M1071 3140l22-34 -22 2 -21 33z"/><path color="#0f3" d="M1114 3104l22-33 -22 3 -21 32z"/><path color="#0f5" d="M1093 3106l21-32 -21 2 -22 32z"/><path class="m" d="M1092.5 3137.8l43.5-66.6 -43 4.7 -43.4 65.2z"/><path color="#5f0" d="M1223 3002l22-28 -22 4 -22 29z"/><path color="#4f0" d="M1201 3007l22-29 -22 5 -22 28z"/><path color="#7f0" d="M1245 2974l21-27 -22 5 -21 26z"/><path color="#6f0" d="M1223 2978l21-26 -22 4 -21 27z"/><path class="m" d="M1223.3 3002.4l43-55.9 -44.1 9.6 -42.9 54.6z"/><path color="#f20" d="M1573 2726l20-15 -24 11 -20 15z"/><path color="#f40" d="M1549 2737l20-15 -23 11 -20 15z"/><path color="#f10" d="M1593 2711l21-14 -24 12 -21 13z"/><path color="#f30" d="M1569 2722l21-13 -24 11 -20 13z"/><path class="m" d="M1572.7 2726.2l40.8-29.1 -47.3 22.5 -40.7 28.1z"/><path color="#03f" d="M918 3373l22-43 -21-1 -22 42z"/><path color="#02f" d="M897 3371l22-42 -21-1 -22 41z"/><path color="#06f" d="M940 3330l22-41 -21 0 -22 40z"/><path color="#05f" d="M919 3329l22-40 -21-1 -22 40z"/><path class="m" d="M917.8 3372.6l44.2-83.1 -41.9-1.7 -43.9 81.5z"/><path color="#fa0" d="M1442 2822l21-21 -23 9 -21 21z"/><path color="#fc0" d="M1419 2831l21-21 -23 8 -21 21z"/><path color="#f90" d="M1463 2801l21-19 -23 9 -21 19z"/><path color="#fa0" d="M1440 2810l21-19 -23 9 -21 18z"/><path class="m" d="M1442.3 2821.8l41.9-40.1 -46.2 17.9 -41.7 39z"/><path color="#0fd" d="M1049 3210l22-37 -22 2 -22 37z"/><path color="#0fe" d="M1027 3212l22-37 -21 1 -22 36z"/><path color="#0f9" d="M1071 3173l21-35 -21 2 -22 35z"/><path color="#0fa" d="M1049 3175l22-35 -21 1 -22 35z"/><path class="m" d="M1048.6 3210.5l43.9-72.7 -42.9 3.3 -43.7 71.2z"/><path color="#bf0" d="M1311 2935l22-27 -23 7 -21 26z"/><path color="#af0" d="M1289 2941l21-26 -22 6 -22 26z"/><path color="#cf0" d="M1333 2908l21-24 -23 6 -21 25z"/><path color="#bf0" d="M1310 2915l21-25 -22 7 -21 24z"/><path class="m" d="M1311.2 2934.6l42.8-51 -45.1 13.1 -42.6 49.8z"/><path color="#1f0" d="M1180 3064l22-31 -22 4 -22 31z"/><path color="#0f0" d="M1158 3068l22-31 -22 3 -22 31z"/><path color="#3f0" d="M1202 3033l21-31 -22 5 -21 30z"/><path color="#2f0" d="M1180 3037l21-30 -22 4 -21 29z"/><path class="m" d="M1179.8 3064.3l43.5-61.9 -44 8.3 -43.3 60.5z"/><path color="#f40" d="M1531 2761l21-18 -24 11 -20 18z"/><path color="#f60" d="M1508 2772l20-18 -23 10 -21 18z"/><path color="#f30" d="M1552 2743l21-17 -24 11 -21 17z"/><path color="#f50" d="M1528 2754l21-17 -23 11 -21 16z"/><path class="m" d="M1531.3 2761.3l41.4-35.1 -47.2 21.5 -41.3 34z"/><path color="#0bf" d="M1004 3289l23-40 -22 1 -22 40z"/><path color="#0af" d="M983 3290l22-40 -21 0 -22 39z"/><path color="#0ef" d="M1027 3249l22-39 -22 2 -22 38z"/><path color="#0df" d="M1005 3250l22-38 -21 0 -22 38z"/><path class="m" d="M1004.4 3289.1l44.2-78.6 -42.7 1.8 -43.9 77.2z"/><path color="#fd0" d="M1400 2868l21-24 -23 9 -21 23z"/><path color="#ff0" d="M1377 2876l21-23 -23 7 -21 24z"/><path color="#fc0" d="M1421 2844l21-22 -23 9 -21 22z"/><path color="#fd0" d="M1398 2853l21-22 -23 8 -21 21z"/><path class="m" d="M1399.9 2868l42.4-46.2 -46 16.8 -42.3 45z"/><path color="#0f4" d="M1136 3132l22-34 -22 3 -22 34z"/><path color="#0f5" d="M1114 3135l22-34 -22 3 -22 34z"/><path color="#0f1" d="M1158 3098l22-34 -22 4 -22 33z"/><path color="#0f2" d="M1136 3101l22-33 -22 3 -22 33z"/><path class="m" d="M1136 3132.3l43.8-68 -43.8 6.9 -43.5 66.6z"/><path color="#7f0" d="M1268 2992l22-30 -23 6 -21 29z"/><path color="#6f0" d="M1246 2997l21-29 -22 6 -22 28z"/><path color="#9f0" d="M1290 2962l21-27 -22 6 -22 27z"/><path color="#8f0" d="M1267 2968l22-27 -23 6 -21 27z"/><path class="m" d="M1268 2991.8l43.2-57.2 -44.9 11.9 -43 55.9z"/><path color="#04f" d="M960 3374l22-43 -21 0 -22 42z"/><path color="#04f" d="M939 3373l22-42 -21-1 -22 43z"/><path color="#08f" d="M982 3331l22-42 -21 1 -22 41z"/><path color="#07f" d="M961 3331l22-41 -21-1 -22 41z"/><path class="m" d="M960.1 3373.7l44.3-84.6 -42.4 .4 -44.2 83.1z"/><path color="#f70" d="M1489 2803l21-22 -23 10 -21 22z"/><path color="#f90" d="M1466 2813l21-22 -24 10 -21 21z"/><path color="#f60" d="M1510 2781l21-20 -23 11 -21 19z"/><path color="#f70" d="M1487 2791l21-19 -24 10 -21 19z"/><path class="m" d="M1489.2 2802.6l42.1-41.3 -47.1 20.4 -41.9 40.1z"/><path color="#0fa" d="M1092 3206l22-37 -22 2 -22 38z"/><path color="#0fb" d="M1070 3209l22-38 -21 2 -22 37z"/><path color="#0f7" d="M1114 3169l22-37 -22 3 -22 36z"/><path color="#0f8" d="M1092 3171l22-36 -22 3 -21 35z"/><path class="m" d="M1091.9 3206.5l44.1-74.2 -43.5 5.5 -43.9 72.7z"/><path color="#df0" d="M1357 2920l21-27 -23 8 -21 27z"/><path color="#cf0" d="M1334 2928l21-27 -22 7 -22 27z"/><path color="#ff0" d="M1378 2893l22-25 -23 8 -22 25z"/><path color="#ef0" d="M1355 2901l22-25 -23 8 -21 24z"/><path class="m" d="M1356.9 2920.4l43-52.4 -45.9 15.6 -42.8 51z"/><path color="#3f0" d="M1224 3055l22-32 -22 5 -22 32z"/><path color="#2f0" d="M1202 3060l22-32 -22 5 -22 31z"/><path color="#5f0" d="M1246 3023l22-31 -22 5 -22 31z"/><path color="#4f0" d="M1224 3028l22-31 -23 5 -21 31z"/><path class="m" d="M1224.4 3055.2l43.6-63.4 -44.7 10.6 -43.5 61.9z"/><path color="#0df" d="M1048 3287l22-41 -22 2 -22 40z"/><path color="#0cf" d="M1026 3288l22-40 -21 1 -23 40z"/><path color="#0fe" d="M1070 3246l22-40 -22 3 -22 39z"/><path color="#0ff" d="M1048 3248l22-39 -21 1 -22 39z"/><path class="m" d="M1047.6 3286.6l44.3-80.1 -43.3 4 -44.2 78.6z"/><path color="#0f1" d="M1180 3125l22-36 -22 5 -22 35z"/><path color="#0f3" d="M1158 3129l22-35 -22 4 -22 34z"/><path color="#1f0" d="M1202 3089l22-34 -22 5 -22 34z"/><path color="#0f0" d="M1180 3094l22-34 -22 4 -22 34z"/><path class="m" d="M1180.4 3124.6l44-69.4 -44.6 9.1 -43.8 68z"/><path color="#fa0" d="M1447 2850l21-24 -24 9 -21 24z"/><path color="#fc0" d="M1423 2859l21-24 -23 9 -21 24z"/><path color="#f80" d="M1468 2826l21-23 -23 10 -22 22z"/><path color="#fa0" d="M1444 2835l22-22 -24 9 -21 22z"/><path class="m" d="M1446.6 2850l42.6-47.4 -46.9 19.2 -42.4 46.2z"/><path color="#af0" d="M1314 2979l21-30 -23 7 -21 30z"/><path color="#9f0" d="M1291 2986l21-30 -22 6 -22 30z"/><path color="#cf0" d="M1335 2949l22-29 -23 8 -22 28z"/><path color="#af0" d="M1312 2956l22-28 -23 7 -21 27z"/><path class="m" d="M1313.5 2978.9l43.4-58.5 -45.7 14.2 -43.2 57.2z"/><path color="#06f" d="M1003 3373l22-44 -21 1 -23 44z"/><path color="#05f" d="M981 3374l23-44 -22 1 -22 43z"/><path color="#0af" d="M1025 3329l23-42 -22 1 -22 42z"/><path color="#09f" d="M1004 3330l22-42 -22 1 -22 42z"/><path class="m" d="M1003 3372.8l44.6-86.2 -43.2 2.5 -44.3 84.6z"/><path color="#0f8" d="M1136 3200l22-38 -22 3 -22 39z"/><path color="#0f9" d="M1114 3204l22-39 -22 4 -22 37z"/><path color="#0f5" d="M1158 3162l22-37 -22 4 -22 36z"/><path color="#0f6" d="M1136 3165l22-36 -22 3 -22 37z"/><path class="m" d="M1136 3200.2l44.4-75.6 -44.4 7.7 -44.1 74.2z"/><path color="#6f0" d="M1270 3044l22-33 -23 6 -22 33z"/><path color="#5f0" d="M1247 3050l22-33 -23 6 -22 32z"/><path color="#8f0" d="M1292 3011l22-32 -23 7 -22 31z"/><path color="#7f0" d="M1269 3017l22-31 -23 6 -22 31z"/><path class="m" d="M1269.7 3043.7l43.8-64.8 -45.5 12.9 -43.6 63.4z"/><path color="#fe0" d="M1403 2904l22-28 -23 9 -22 27z"/><path color="#ff0" d="M1380 2912l22-27 -24 8 -21 27z"/><path color="#fc0" d="M1425 2876l22-26 -24 9 -21 26z"/><path color="#fe0" d="M1402 2885l21-26 -23 9 -22 25z"/><path class="m" d="M1403.5 2903.7l43.1-53.7 -46.7 18 -43 52.4z"/><path color="#0ff" d="M1091 3282l23-42 -22 3 -23 42z"/><path color="#0ef" d="M1069 3285l23-42 -22 3 -22 41z"/><path color="#0fb" d="M1114 3240l22-40 -22 4 -22 39z"/><path color="#0fd" d="M1092 3243l22-39 -22 2 -22 40z"/><path class="m" d="M1091.4 3282l44.6-81.8 -44.1 6.3 -44.3 80.1z"/><path color="#1f0" d="M1225 3115l23-37 -23 6 -22 36z"/><path color="#0f0" d="M1203 3120l22-36 -23 5 -22 36z"/><path color="#3f0" d="M1248 3078l22-34 -23 6 -22 34z"/><path color="#2f0" d="M1225 3084l22-34 -23 5 -22 34z"/><path class="m" d="M1225.5 3114.6l44.2-70.9 -45.3 11.5 -44 69.4z"/><path color="#cf0" d="M1360 2964l22-31 -24 8 -21 31z"/><path color="#bf0" d="M1337 2972l21-31 -23 8 -21 30z"/><path color="#ef0" d="M1382 2933l21-29 -23 8 -22 29z"/><path color="#df0" d="M1358 2941l22-29 -23 8 -22 29z"/><path class="m" d="M1359.9 2963.6l43.6-59.9 -46.6 16.7 -43.4 58.5z"/><path color="#08f" d="M1047 3370l22-45 -22 2 -22 45z"/><path color="#07f" d="M1025 3372l22-45 -22 2 -22 44z"/><path color="#0cf" d="M1069 3325l22-43 -22 3 -22 42z"/><path color="#0bf" d="M1047 3327l22-42 -21 2 -23 42z"/><path class="m" d="M1046.6 3369.8l44.8-87.8 -43.8 4.6 -44.6 86.2z"/><path color="#0f5" d="M1181 3192l22-40 -22 5 -23 39z"/><path color="#0f6" d="M1158 3196l23-39 -23 5 -22 38z"/><path color="#0f2" d="M1203 3152l22-37 -22 5 -22 37z"/><path color="#0f3" d="M1181 3157l22-37 -23 5 -22 37z"/><path class="m" d="M1180.9 3191.8l44.6-77.2 -45.1 10 -44.4 75.6z"/><path color="#8f0" d="M1316 3030l22-34 -23 8 -22 33z"/><path color="#7f0" d="M1293 3037l22-33 -23 7 -22 33z"/><path color="#af0" d="M1338 2996l22-32 -23 8 -22 32z"/><path color="#9f0" d="M1315 3004l22-32 -23 7 -22 32z"/><path class="m" d="M1315.8 3029.8l44.1-66.2 -46.4 15.3 -43.8 64.8z"/><path color="#0fc" d="M1136 3275l23-42 -23 4 -22 42z"/><path color="#0fe" d="M1114 3279l22-42 -22 3 -23 42z"/><path color="#0f9" d="M1159 3233l22-41 -23 4 -22 41z"/><path color="#0fa" d="M1136 3237l22-41 -22 4 -22 40z"/><path class="m" d="M1136 3275.1l44.9-83.3 -44.9 8.4 -44.6 81.8z"/><path color="#3f0" d="M1271 3102l23-37 -23 7 -23 37z"/><path color="#2f0" d="M1248 3109l23-37 -23 6 -23 37z"/><path color="#6f0" d="M1294 3065l22-35 -23 7 -22 35z"/><path color="#5f0" d="M1271 3072l22-35 -23 7 -22 34z"/><path class="m" d="M1271.4 3102.3l44.4-72.5 -46.1 13.9 -44.2 70.9z"/><path color="#0bf" d="M1091 3365l23-46 -23 3 -22 45z"/><path color="#09f" d="M1069 3367l22-45 -22 3 -22 45z"/><path color="#0ef" d="M1114 3319l22-44 -22 4 -23 43z"/><path color="#0df" d="M1091 3322l23-43 -23 3 -22 43z"/><path class="m" d="M1090.9 3364.6l45.1-89.5 -44.6 6.9 -44.8 87.8z"/><path color="#0f2" d="M1227 3181l22-40 -23 6 -22 40z"/><path color="#0f4" d="M1204 3187l22-40 -23 5 -22 40z"/><path color="#1f0" d="M1249 3141l22-39 -23 7 -22 38z"/><path color="#0f0" d="M1226 3147l22-38 -23 6 -22 37z"/><path class="m" d="M1226.6 3181l44.8-78.7 -45.9 12.3 -44.6 77.2z"/><path color="#0f9" d="M1181 3266l23-43 -23 5 -22 43z"/><path color="#0fb" d="M1159 3271l22-43 -22 5 -23 42z"/><path color="#0f6" d="M1204 3223l23-42 -23 6 -23 41z"/><path color="#0f7" d="M1181 3228l23-41 -23 5 -22 41z"/><path class="m" d="M1181.4 3265.9l45.2-84.9 -45.7 10.8 -44.9 83.3z"/><path color="#0df" d="M1136 3357l23-46 -23 4 -23 46z"/><path color="#0cf" d="M1113 3361l23-46 -22 4 -23 46z"/><path color="#0fd" d="M1159 3311l22-45 -22 5 -23 44z"/><path color="#0ff" d="M1136 3315l23-44 -23 4 -22 44z"/><path class="m" d="M1136 3357.1l45.4-91.2 -45.4 9.2 -45.1 89.5z"/></g>
<circle cx="347" cy="3156.8" r="14.6" fill="#ffcccc" stroke="#5c4444" stroke-width="4"/>
<circle cx="1135.2" cy="3366.9" r="14.6" fill="#ffcccc" stroke="#5c4444" stroke-width="4"/>
<circle cx="1512.1" cy="2882.7" r="14.6" fill="#ffcccc" stroke="#5c4444" stroke-width="4"/>
<circle cx="1949" cy="2685.6" r="14.6" fill="#c00000" stroke="#500000" stroke-width="4"/>
<circle cx="714.2" cy="3302" r="14.6" fill="#c00000" stroke="#500000" stroke-width="4"/>
<path d="M756.6 2713L756.6 2750" stroke="#4a4a4a" stroke-width="4" fill="none" />
<circle cx="756.6" cy="2713" r="14.6" fill="#c00000" stroke="#500000" stroke-width="4"/>
<g font-size="59.5" fill="#2b2b2b"><text x="321" y="3274.9" text-anchor="end">0</text><text x="314.4" y="3140.3" text-anchor="end">10</text><text x="307.8" y="3005.8" text-anchor="end">20</text><text x="301.2" y="2871.2" text-anchor="end">30</text><text x="294.6" y="2736.6" text-anchor="end">40</text><text x="288" y="2602.1" text-anchor="end">50</text><text x="281.4" y="2467.5" text-anchor="end">60</text><text x="1103" y="3981.5" text-anchor="end">0</text><text x="948.9" y="3907.1" text-anchor="end">10</text><text x="794.8" y="3832.7" text-anchor="end">20</text><text x="640.6" y="3758.4" text-anchor="end">30</text><text x="486.5" y="3684" text-anchor="end">40</text><text x="332.4" y="3609.6" text-anchor="end">50</text><text x="1171" y="3980.5">180</text><text x="1363.7" y="3887.5">190</text><text x="1556.4" y="3794.6">200</text><text x="1749.1" y="3701.6">210</text><text x="1941.7" y="3608.6">220</text></g>
<text x="341" y="2329" font-size="104" font-weight="bold" fill="#111" textLength="135" lengthAdjust="spacingAndGlyphs">XR</text>
<text x="477" y="2350" font-size="68" font-weight="bold" fill="#111" textLength="76" lengthAdjust="spacingAndGlyphs">ba</text>
<text transform="translate(103 3398) rotate(-90)" font-size="72" fill="#1a1a1a" stroke="#1a1a1a" stroke-width="1.5" stroke-linejoin="round" textLength="739" lengthAdjust="spacingAndGlyphs">xylan recovery (mol%)</text>
<text x="209" y="3910.5" font-size="72" fill="#1a1a1a" stroke="#1a1a1a" stroke-width="1.5" stroke-linejoin="round" textLength="488" lengthAdjust="spacingAndGlyphs">B: NaOH (mM)</text>
<text x="1497" y="3910.5" font-size="72" fill="#1a1a1a" stroke="#1a1a1a" stroke-width="1.5" stroke-linejoin="round" textLength="639" lengthAdjust="spacingAndGlyphs">A: temperature (°C)</text>
</svg>
</body></html>
